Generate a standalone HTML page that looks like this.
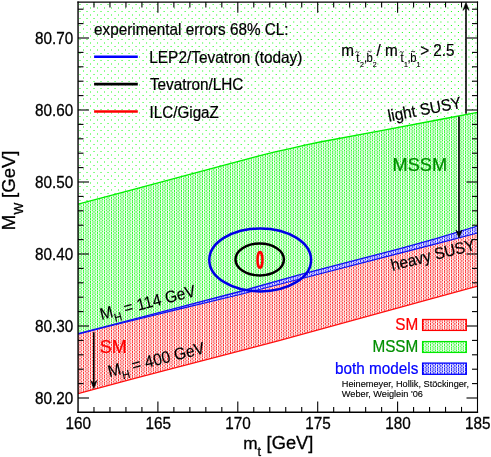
<!DOCTYPE html>
<html><head><meta charset="utf-8"><title>MW-mt</title>
<style>
html,body{margin:0;padding:0;background:#fff;}
body{width:491px;height:457px;overflow:hidden;font-family:"Liberation Sans",sans-serif;}
svg{display:block;font-family:"Liberation Sans",sans-serif;will-change:transform;}
</style></head><body>
<svg width="491" height="457" viewBox="0 0 491 457">
<defs>
<pattern id="sp" x="0" y="0" width="7" height="7" patternUnits="userSpaceOnUse">
<rect x="2.2" y="3.8" width="1.7" height="1.2" fill="#10ff10" opacity="0.55"/>
<rect x="5.9" y="0.15" width="1.2" height="1.7" fill="#10ff10" opacity="0.55"/>
</pattern>
<pattern id="dg0" width="7" height="7" patternUnits="userSpaceOnUse" shape-rendering="crispEdges"><rect x="0" y="0" width="1.02" height="1.02" fill="#dbfedb"/><rect x="1" y="0" width="1.02" height="1.02" fill="#58fb58"/><rect x="2" y="0" width="1.02" height="1.02" fill="#dbfedb"/><rect x="3" y="0" width="1.02" height="1.02" fill="#dcfedc"/><rect x="4" y="0" width="1.02" height="1.02" fill="#56fb56"/><rect x="5" y="0" width="1.02" height="1.02" fill="#ddfedd"/><rect x="6" y="0" width="1.02" height="1.02" fill="#b8fdb8"/><rect x="0" y="1" width="1.02" height="1.02" fill="#f1fef1"/><rect x="1" y="1" width="1.02" height="1.02" fill="#c0fdc0"/><rect x="2" y="1" width="1.02" height="1.02" fill="#8cfc8c"/><rect x="3" y="1" width="1.02" height="1.02" fill="#8efc8e"/><rect x="4" y="1" width="1.02" height="1.02" fill="#bffdbf"/><rect x="5" y="1" width="1.02" height="1.02" fill="#f2fef2"/><rect x="6" y="1" width="1.02" height="1.02" fill="#2dfb2d"/><rect x="0" y="2" width="1.02" height="1.02" fill="#f1fef1"/><rect x="1" y="2" width="1.02" height="1.02" fill="#c0fdc0"/><rect x="2" y="2" width="1.02" height="1.02" fill="#99fd99"/><rect x="3" y="2" width="1.02" height="1.02" fill="#9bfd9b"/><rect x="4" y="2" width="1.02" height="1.02" fill="#bffdbf"/><rect x="5" y="2" width="1.02" height="1.02" fill="#f2fef2"/><rect x="6" y="2" width="1.02" height="1.02" fill="#35fb35"/><rect x="0" y="3" width="1.02" height="1.02" fill="#dafeda"/><rect x="1" y="3" width="1.02" height="1.02" fill="#54fb54"/><rect x="2" y="3" width="1.02" height="1.02" fill="#d6fed6"/><rect x="3" y="3" width="1.02" height="1.02" fill="#d7fed7"/><rect x="4" y="3" width="1.02" height="1.02" fill="#52fb52"/><rect x="5" y="3" width="1.02" height="1.02" fill="#ddfedd"/><rect x="6" y="3" width="1.02" height="1.02" fill="#aefdae"/><rect x="0" y="4" width="1.02" height="1.02" fill="#edfeed"/><rect x="1" y="4" width="1.02" height="1.02" fill="#abfdab"/><rect x="2" y="4" width="1.02" height="1.02" fill="#9efd9e"/><rect x="3" y="4" width="1.02" height="1.02" fill="#a0fda0"/><rect x="4" y="4" width="1.02" height="1.02" fill="#aafdaa"/><rect x="5" y="4" width="1.02" height="1.02" fill="#eefeee"/><rect x="6" y="4" width="1.02" height="1.02" fill="#3ffb3f"/><rect x="0" y="5" width="1.02" height="1.02" fill="#eafeea"/><rect x="1" y="5" width="1.02" height="1.02" fill="#9dfd9d"/><rect x="2" y="5" width="1.02" height="1.02" fill="#acfdac"/><rect x="3" y="5" width="1.02" height="1.02" fill="#adfdad"/><rect x="4" y="5" width="1.02" height="1.02" fill="#9bfd9b"/><rect x="5" y="5" width="1.02" height="1.02" fill="#ebfeeb"/><rect x="6" y="5" width="1.02" height="1.02" fill="#5bfb5b"/><rect x="0" y="6" width="1.02" height="1.02" fill="#ecfeec"/><rect x="1" y="6" width="1.02" height="1.02" fill="#a7fda7"/><rect x="2" y="6" width="1.02" height="1.02" fill="#9ffd9f"/><rect x="3" y="6" width="1.02" height="1.02" fill="#a1fda1"/><rect x="4" y="6" width="1.02" height="1.02" fill="#a6fda6"/><rect x="5" y="6" width="1.02" height="1.02" fill="#edfeed"/><rect x="6" y="6" width="1.02" height="1.02" fill="#42fb42"/></pattern>
<pattern id="dr0" width="7" height="7" patternUnits="userSpaceOnUse" shape-rendering="crispEdges"><rect x="0" y="0" width="1.02" height="1.02" fill="#fedbdb"/><rect x="1" y="0" width="1.02" height="1.02" fill="#fc5858"/><rect x="2" y="0" width="1.02" height="1.02" fill="#fedbdb"/><rect x="3" y="0" width="1.02" height="1.02" fill="#fedcdc"/><rect x="4" y="0" width="1.02" height="1.02" fill="#fc5656"/><rect x="5" y="0" width="1.02" height="1.02" fill="#fedddd"/><rect x="6" y="0" width="1.02" height="1.02" fill="#fdb8b8"/><rect x="0" y="1" width="1.02" height="1.02" fill="#fef1f1"/><rect x="1" y="1" width="1.02" height="1.02" fill="#fec0c0"/><rect x="2" y="1" width="1.02" height="1.02" fill="#fd8c8c"/><rect x="3" y="1" width="1.02" height="1.02" fill="#fd8e8e"/><rect x="4" y="1" width="1.02" height="1.02" fill="#febfbf"/><rect x="5" y="1" width="1.02" height="1.02" fill="#fef2f2"/><rect x="6" y="1" width="1.02" height="1.02" fill="#fc2d2d"/><rect x="0" y="2" width="1.02" height="1.02" fill="#fef1f1"/><rect x="1" y="2" width="1.02" height="1.02" fill="#fec0c0"/><rect x="2" y="2" width="1.02" height="1.02" fill="#fd9999"/><rect x="3" y="2" width="1.02" height="1.02" fill="#fd9b9b"/><rect x="4" y="2" width="1.02" height="1.02" fill="#febfbf"/><rect x="5" y="2" width="1.02" height="1.02" fill="#fef2f2"/><rect x="6" y="2" width="1.02" height="1.02" fill="#fc3535"/><rect x="0" y="3" width="1.02" height="1.02" fill="#fedada"/><rect x="1" y="3" width="1.02" height="1.02" fill="#fc5454"/><rect x="2" y="3" width="1.02" height="1.02" fill="#fed6d6"/><rect x="3" y="3" width="1.02" height="1.02" fill="#fed7d7"/><rect x="4" y="3" width="1.02" height="1.02" fill="#fc5252"/><rect x="5" y="3" width="1.02" height="1.02" fill="#fedddd"/><rect x="6" y="3" width="1.02" height="1.02" fill="#fdaeae"/><rect x="0" y="4" width="1.02" height="1.02" fill="#feeded"/><rect x="1" y="4" width="1.02" height="1.02" fill="#fdabab"/><rect x="2" y="4" width="1.02" height="1.02" fill="#fd9e9e"/><rect x="3" y="4" width="1.02" height="1.02" fill="#fda0a0"/><rect x="4" y="4" width="1.02" height="1.02" fill="#fdaaaa"/><rect x="5" y="4" width="1.02" height="1.02" fill="#feeeee"/><rect x="6" y="4" width="1.02" height="1.02" fill="#fc3f3f"/><rect x="0" y="5" width="1.02" height="1.02" fill="#feeaea"/><rect x="1" y="5" width="1.02" height="1.02" fill="#fd9d9d"/><rect x="2" y="5" width="1.02" height="1.02" fill="#fdacac"/><rect x="3" y="5" width="1.02" height="1.02" fill="#fdadad"/><rect x="4" y="5" width="1.02" height="1.02" fill="#fd9b9b"/><rect x="5" y="5" width="1.02" height="1.02" fill="#feebeb"/><rect x="6" y="5" width="1.02" height="1.02" fill="#fc5b5b"/><rect x="0" y="6" width="1.02" height="1.02" fill="#feecec"/><rect x="1" y="6" width="1.02" height="1.02" fill="#fda7a7"/><rect x="2" y="6" width="1.02" height="1.02" fill="#fd9f9f"/><rect x="3" y="6" width="1.02" height="1.02" fill="#fda1a1"/><rect x="4" y="6" width="1.02" height="1.02" fill="#fda6a6"/><rect x="5" y="6" width="1.02" height="1.02" fill="#feeded"/><rect x="6" y="6" width="1.02" height="1.02" fill="#fc4242"/></pattern>
<pattern id="db0" width="7" height="7" patternUnits="userSpaceOnUse" shape-rendering="crispEdges"><rect x="0" y="0" width="1.02" height="1.02" fill="#cdcdfe"/><rect x="1" y="0" width="1.02" height="1.02" fill="#3c3cfc"/><rect x="2" y="0" width="1.02" height="1.02" fill="#ccccfe"/><rect x="3" y="0" width="1.02" height="1.02" fill="#cdcdfe"/><rect x="4" y="0" width="1.02" height="1.02" fill="#3a3afc"/><rect x="5" y="0" width="1.02" height="1.02" fill="#cfcffe"/><rect x="6" y="0" width="1.02" height="1.02" fill="#a6a6fd"/><rect x="0" y="1" width="1.02" height="1.02" fill="#e5e5fe"/><rect x="1" y="1" width="1.02" height="1.02" fill="#afaffd"/><rect x="2" y="1" width="1.02" height="1.02" fill="#7575fd"/><rect x="3" y="1" width="1.02" height="1.02" fill="#7878fd"/><rect x="4" y="1" width="1.02" height="1.02" fill="#aeaefd"/><rect x="5" y="1" width="1.02" height="1.02" fill="#e6e6fe"/><rect x="6" y="1" width="1.02" height="1.02" fill="#2323fc"/><rect x="0" y="2" width="1.02" height="1.02" fill="#e5e5fe"/><rect x="1" y="2" width="1.02" height="1.02" fill="#afaffd"/><rect x="2" y="2" width="1.02" height="1.02" fill="#8383fd"/><rect x="3" y="2" width="1.02" height="1.02" fill="#8686fd"/><rect x="4" y="2" width="1.02" height="1.02" fill="#aeaefd"/><rect x="5" y="2" width="1.02" height="1.02" fill="#e6e6fe"/><rect x="6" y="2" width="1.02" height="1.02" fill="#2323fc"/><rect x="0" y="3" width="1.02" height="1.02" fill="#ccccfe"/><rect x="1" y="3" width="1.02" height="1.02" fill="#3838fc"/><rect x="2" y="3" width="1.02" height="1.02" fill="#c7c7fe"/><rect x="3" y="3" width="1.02" height="1.02" fill="#c8c8fe"/><rect x="4" y="3" width="1.02" height="1.02" fill="#3535fc"/><rect x="5" y="3" width="1.02" height="1.02" fill="#cecefe"/><rect x="6" y="3" width="1.02" height="1.02" fill="#9b9bfd"/><rect x="0" y="4" width="1.02" height="1.02" fill="#e0e0fe"/><rect x="1" y="4" width="1.02" height="1.02" fill="#9898fd"/><rect x="2" y="4" width="1.02" height="1.02" fill="#8989fd"/><rect x="3" y="4" width="1.02" height="1.02" fill="#8b8bfd"/><rect x="4" y="4" width="1.02" height="1.02" fill="#9797fd"/><rect x="5" y="4" width="1.02" height="1.02" fill="#e1e1fe"/><rect x="6" y="4" width="1.02" height="1.02" fill="#2323fc"/><rect x="0" y="5" width="1.02" height="1.02" fill="#ddddfe"/><rect x="1" y="5" width="1.02" height="1.02" fill="#8888fd"/><rect x="2" y="5" width="1.02" height="1.02" fill="#9898fd"/><rect x="3" y="5" width="1.02" height="1.02" fill="#9a9afd"/><rect x="4" y="5" width="1.02" height="1.02" fill="#8787fd"/><rect x="5" y="5" width="1.02" height="1.02" fill="#dedefe"/><rect x="6" y="5" width="1.02" height="1.02" fill="#3f3ffc"/><rect x="0" y="6" width="1.02" height="1.02" fill="#dfdffe"/><rect x="1" y="6" width="1.02" height="1.02" fill="#9393fd"/><rect x="2" y="6" width="1.02" height="1.02" fill="#8a8afd"/><rect x="3" y="6" width="1.02" height="1.02" fill="#8d8dfd"/><rect x="4" y="6" width="1.02" height="1.02" fill="#9292fd"/><rect x="5" y="6" width="1.02" height="1.02" fill="#e0e0fe"/><rect x="6" y="6" width="1.02" height="1.02" fill="#2424fc"/></pattern>
<clipPath id="z0"><rect x="77" y="0" width="49" height="457"/></clipPath>
<pattern id="dg1" width="7" height="7" patternUnits="userSpaceOnUse" shape-rendering="crispEdges"><rect x="0" y="0" width="1.02" height="1.02" fill="#ecfeec"/><rect x="1" y="0" width="1.02" height="1.02" fill="#47fb47"/><rect x="2" y="0" width="1.02" height="1.02" fill="#e1fee1"/><rect x="3" y="0" width="1.02" height="1.02" fill="#d6fed6"/><rect x="4" y="0" width="1.02" height="1.02" fill="#67fc67"/><rect x="5" y="0" width="1.02" height="1.02" fill="#ccfecc"/><rect x="6" y="0" width="1.02" height="1.02" fill="#b8fdb8"/><rect x="0" y="1" width="1.02" height="1.02" fill="#f8fef8"/><rect x="1" y="1" width="1.02" height="1.02" fill="#bafdba"/><rect x="2" y="1" width="1.02" height="1.02" fill="#9ffd9f"/><rect x="3" y="1" width="1.02" height="1.02" fill="#7bfc7b"/><rect x="4" y="1" width="1.02" height="1.02" fill="#c6fdc6"/><rect x="5" y="1" width="1.02" height="1.02" fill="#ecfeec"/><rect x="6" y="1" width="1.02" height="1.02" fill="#2dfb2d"/><rect x="0" y="2" width="1.02" height="1.02" fill="#f8fef8"/><rect x="1" y="2" width="1.02" height="1.02" fill="#bafdba"/><rect x="2" y="2" width="1.02" height="1.02" fill="#aafdaa"/><rect x="3" y="2" width="1.02" height="1.02" fill="#8afc8a"/><rect x="4" y="2" width="1.02" height="1.02" fill="#c6fdc6"/><rect x="5" y="2" width="1.02" height="1.02" fill="#ecfeec"/><rect x="6" y="2" width="1.02" height="1.02" fill="#35fb35"/><rect x="0" y="3" width="1.02" height="1.02" fill="#ecfeec"/><rect x="1" y="3" width="1.02" height="1.02" fill="#42fb42"/><rect x="2" y="3" width="1.02" height="1.02" fill="#ddfedd"/><rect x="3" y="3" width="1.02" height="1.02" fill="#d0fed0"/><rect x="4" y="3" width="1.02" height="1.02" fill="#63fc63"/><rect x="5" y="3" width="1.02" height="1.02" fill="#cbfecb"/><rect x="6" y="3" width="1.02" height="1.02" fill="#aefdae"/><rect x="0" y="4" width="1.02" height="1.02" fill="#f5fef5"/><rect x="1" y="4" width="1.02" height="1.02" fill="#a3fda3"/><rect x="2" y="4" width="1.02" height="1.02" fill="#aefdae"/><rect x="3" y="4" width="1.02" height="1.02" fill="#8ffc8f"/><rect x="4" y="4" width="1.02" height="1.02" fill="#b3fdb3"/><rect x="5" y="4" width="1.02" height="1.02" fill="#e5fee5"/><rect x="6" y="4" width="1.02" height="1.02" fill="#3ffb3f"/><rect x="0" y="5" width="1.02" height="1.02" fill="#f4fef4"/><rect x="1" y="5" width="1.02" height="1.02" fill="#93fc93"/><rect x="2" y="5" width="1.02" height="1.02" fill="#bafdba"/><rect x="3" y="5" width="1.02" height="1.02" fill="#9ffd9f"/><rect x="4" y="5" width="1.02" height="1.02" fill="#a6fda6"/><rect x="5" y="5" width="1.02" height="1.02" fill="#e1fee1"/><rect x="6" y="5" width="1.02" height="1.02" fill="#5bfb5b"/><rect x="0" y="6" width="1.02" height="1.02" fill="#f5fef5"/><rect x="1" y="6" width="1.02" height="1.02" fill="#9efd9e"/><rect x="2" y="6" width="1.02" height="1.02" fill="#affdaf"/><rect x="3" y="6" width="1.02" height="1.02" fill="#91fc91"/><rect x="4" y="6" width="1.02" height="1.02" fill="#affdaf"/><rect x="5" y="6" width="1.02" height="1.02" fill="#e4fee4"/><rect x="6" y="6" width="1.02" height="1.02" fill="#42fb42"/></pattern>
<pattern id="dr1" width="7" height="7" patternUnits="userSpaceOnUse" shape-rendering="crispEdges"><rect x="0" y="0" width="1.02" height="1.02" fill="#feecec"/><rect x="1" y="0" width="1.02" height="1.02" fill="#fc4747"/><rect x="2" y="0" width="1.02" height="1.02" fill="#fee1e1"/><rect x="3" y="0" width="1.02" height="1.02" fill="#fed6d6"/><rect x="4" y="0" width="1.02" height="1.02" fill="#fc6767"/><rect x="5" y="0" width="1.02" height="1.02" fill="#fecccc"/><rect x="6" y="0" width="1.02" height="1.02" fill="#fdb8b8"/><rect x="0" y="1" width="1.02" height="1.02" fill="#fef8f8"/><rect x="1" y="1" width="1.02" height="1.02" fill="#febaba"/><rect x="2" y="1" width="1.02" height="1.02" fill="#fd9f9f"/><rect x="3" y="1" width="1.02" height="1.02" fill="#fd7b7b"/><rect x="4" y="1" width="1.02" height="1.02" fill="#fec6c6"/><rect x="5" y="1" width="1.02" height="1.02" fill="#feecec"/><rect x="6" y="1" width="1.02" height="1.02" fill="#fc2d2d"/><rect x="0" y="2" width="1.02" height="1.02" fill="#fef8f8"/><rect x="1" y="2" width="1.02" height="1.02" fill="#febaba"/><rect x="2" y="2" width="1.02" height="1.02" fill="#fdaaaa"/><rect x="3" y="2" width="1.02" height="1.02" fill="#fd8a8a"/><rect x="4" y="2" width="1.02" height="1.02" fill="#fec6c6"/><rect x="5" y="2" width="1.02" height="1.02" fill="#feecec"/><rect x="6" y="2" width="1.02" height="1.02" fill="#fc3535"/><rect x="0" y="3" width="1.02" height="1.02" fill="#feecec"/><rect x="1" y="3" width="1.02" height="1.02" fill="#fc4242"/><rect x="2" y="3" width="1.02" height="1.02" fill="#fedddd"/><rect x="3" y="3" width="1.02" height="1.02" fill="#fed0d0"/><rect x="4" y="3" width="1.02" height="1.02" fill="#fc6363"/><rect x="5" y="3" width="1.02" height="1.02" fill="#fecbcb"/><rect x="6" y="3" width="1.02" height="1.02" fill="#fdaeae"/><rect x="0" y="4" width="1.02" height="1.02" fill="#fef5f5"/><rect x="1" y="4" width="1.02" height="1.02" fill="#fda3a3"/><rect x="2" y="4" width="1.02" height="1.02" fill="#fdaeae"/><rect x="3" y="4" width="1.02" height="1.02" fill="#fd8f8f"/><rect x="4" y="4" width="1.02" height="1.02" fill="#fdb3b3"/><rect x="5" y="4" width="1.02" height="1.02" fill="#fee5e5"/><rect x="6" y="4" width="1.02" height="1.02" fill="#fc3f3f"/><rect x="0" y="5" width="1.02" height="1.02" fill="#fef4f4"/><rect x="1" y="5" width="1.02" height="1.02" fill="#fd9393"/><rect x="2" y="5" width="1.02" height="1.02" fill="#febaba"/><rect x="3" y="5" width="1.02" height="1.02" fill="#fd9f9f"/><rect x="4" y="5" width="1.02" height="1.02" fill="#fda6a6"/><rect x="5" y="5" width="1.02" height="1.02" fill="#fee1e1"/><rect x="6" y="5" width="1.02" height="1.02" fill="#fc5b5b"/><rect x="0" y="6" width="1.02" height="1.02" fill="#fef5f5"/><rect x="1" y="6" width="1.02" height="1.02" fill="#fd9e9e"/><rect x="2" y="6" width="1.02" height="1.02" fill="#fdafaf"/><rect x="3" y="6" width="1.02" height="1.02" fill="#fd9191"/><rect x="4" y="6" width="1.02" height="1.02" fill="#fdafaf"/><rect x="5" y="6" width="1.02" height="1.02" fill="#fee4e4"/><rect x="6" y="6" width="1.02" height="1.02" fill="#fc4242"/></pattern>
<pattern id="db1" width="7" height="7" patternUnits="userSpaceOnUse" shape-rendering="crispEdges"><rect x="0" y="0" width="1.02" height="1.02" fill="#e0e0fe"/><rect x="1" y="0" width="1.02" height="1.02" fill="#2a2afc"/><rect x="2" y="0" width="1.02" height="1.02" fill="#d3d3fe"/><rect x="3" y="0" width="1.02" height="1.02" fill="#c6c6fe"/><rect x="4" y="0" width="1.02" height="1.02" fill="#4d4dfc"/><rect x="5" y="0" width="1.02" height="1.02" fill="#bcbcfe"/><rect x="6" y="0" width="1.02" height="1.02" fill="#a6a6fd"/><rect x="0" y="1" width="1.02" height="1.02" fill="#ececfe"/><rect x="1" y="1" width="1.02" height="1.02" fill="#a8a8fd"/><rect x="2" y="1" width="1.02" height="1.02" fill="#8b8bfd"/><rect x="3" y="1" width="1.02" height="1.02" fill="#6363fc"/><rect x="4" y="1" width="1.02" height="1.02" fill="#b5b5fd"/><rect x="5" y="1" width="1.02" height="1.02" fill="#dfdffe"/><rect x="6" y="1" width="1.02" height="1.02" fill="#2323fc"/><rect x="0" y="2" width="1.02" height="1.02" fill="#ececfe"/><rect x="1" y="2" width="1.02" height="1.02" fill="#a8a8fd"/><rect x="2" y="2" width="1.02" height="1.02" fill="#9696fd"/><rect x="3" y="2" width="1.02" height="1.02" fill="#7373fd"/><rect x="4" y="2" width="1.02" height="1.02" fill="#b5b5fd"/><rect x="5" y="2" width="1.02" height="1.02" fill="#dfdffe"/><rect x="6" y="2" width="1.02" height="1.02" fill="#2323fc"/><rect x="0" y="3" width="1.02" height="1.02" fill="#dfdffe"/><rect x="1" y="3" width="1.02" height="1.02" fill="#2525fc"/><rect x="2" y="3" width="1.02" height="1.02" fill="#cecefe"/><rect x="3" y="3" width="1.02" height="1.02" fill="#c0c0fe"/><rect x="4" y="3" width="1.02" height="1.02" fill="#4949fc"/><rect x="5" y="3" width="1.02" height="1.02" fill="#bbbbfe"/><rect x="6" y="3" width="1.02" height="1.02" fill="#9b9bfd"/><rect x="0" y="4" width="1.02" height="1.02" fill="#eaeafe"/><rect x="1" y="4" width="1.02" height="1.02" fill="#8f8ffd"/><rect x="2" y="4" width="1.02" height="1.02" fill="#9b9bfd"/><rect x="3" y="4" width="1.02" height="1.02" fill="#7979fd"/><rect x="4" y="4" width="1.02" height="1.02" fill="#a0a0fd"/><rect x="5" y="4" width="1.02" height="1.02" fill="#d8d8fe"/><rect x="6" y="4" width="1.02" height="1.02" fill="#2323fc"/><rect x="0" y="5" width="1.02" height="1.02" fill="#e8e8fe"/><rect x="1" y="5" width="1.02" height="1.02" fill="#7d7dfd"/><rect x="2" y="5" width="1.02" height="1.02" fill="#a8a8fd"/><rect x="3" y="5" width="1.02" height="1.02" fill="#8b8bfd"/><rect x="4" y="5" width="1.02" height="1.02" fill="#9292fd"/><rect x="5" y="5" width="1.02" height="1.02" fill="#d3d3fe"/><rect x="6" y="5" width="1.02" height="1.02" fill="#3f3ffc"/><rect x="0" y="6" width="1.02" height="1.02" fill="#e9e9fe"/><rect x="1" y="6" width="1.02" height="1.02" fill="#8989fd"/><rect x="2" y="6" width="1.02" height="1.02" fill="#9c9cfd"/><rect x="3" y="6" width="1.02" height="1.02" fill="#7b7bfd"/><rect x="4" y="6" width="1.02" height="1.02" fill="#9c9cfd"/><rect x="5" y="6" width="1.02" height="1.02" fill="#d6d6fe"/><rect x="6" y="6" width="1.02" height="1.02" fill="#2424fc"/></pattern>
<clipPath id="z1"><rect x="126" y="0" width="56" height="457"/></clipPath>
<pattern id="dg2" width="7" height="7" patternUnits="userSpaceOnUse" shape-rendering="crispEdges"><rect x="0" y="0" width="1.02" height="1.02" fill="#fcfefc"/><rect x="1" y="0" width="1.02" height="1.02" fill="#38fb38"/><rect x="2" y="0" width="1.02" height="1.02" fill="#e6fee6"/><rect x="3" y="0" width="1.02" height="1.02" fill="#d0fed0"/><rect x="4" y="0" width="1.02" height="1.02" fill="#76fc76"/><rect x="5" y="0" width="1.02" height="1.02" fill="#bdfdbd"/><rect x="6" y="0" width="1.02" height="1.02" fill="#b8fdb8"/><rect x="0" y="1" width="1.02" height="1.02" fill="#fdfefd"/><rect x="1" y="1" width="1.02" height="1.02" fill="#b4fdb4"/><rect x="2" y="1" width="1.02" height="1.02" fill="#b0fdb0"/><rect x="3" y="1" width="1.02" height="1.02" fill="#6afc6a"/><rect x="4" y="1" width="1.02" height="1.02" fill="#cbfecb"/><rect x="5" y="1" width="1.02" height="1.02" fill="#e6fee6"/><rect x="6" y="1" width="1.02" height="1.02" fill="#2dfb2d"/><rect x="0" y="2" width="1.02" height="1.02" fill="#fdfefd"/><rect x="1" y="2" width="1.02" height="1.02" fill="#b4fdb4"/><rect x="2" y="2" width="1.02" height="1.02" fill="#b9fdb9"/><rect x="3" y="2" width="1.02" height="1.02" fill="#7bfc7b"/><rect x="4" y="2" width="1.02" height="1.02" fill="#cbfecb"/><rect x="5" y="2" width="1.02" height="1.02" fill="#e6fee6"/><rect x="6" y="2" width="1.02" height="1.02" fill="#35fb35"/><rect x="0" y="3" width="1.02" height="1.02" fill="#fbfefb"/><rect x="1" y="3" width="1.02" height="1.02" fill="#33fb33"/><rect x="2" y="3" width="1.02" height="1.02" fill="#e3fee3"/><rect x="3" y="3" width="1.02" height="1.02" fill="#cafdca"/><rect x="4" y="3" width="1.02" height="1.02" fill="#73fc73"/><rect x="5" y="3" width="1.02" height="1.02" fill="#bcfdbc"/><rect x="6" y="3" width="1.02" height="1.02" fill="#aefdae"/><rect x="0" y="4" width="1.02" height="1.02" fill="#fdfefd"/><rect x="1" y="4" width="1.02" height="1.02" fill="#9bfd9b"/><rect x="2" y="4" width="1.02" height="1.02" fill="#bcfdbc"/><rect x="3" y="4" width="1.02" height="1.02" fill="#81fc81"/><rect x="4" y="4" width="1.02" height="1.02" fill="#bafdba"/><rect x="5" y="4" width="1.02" height="1.02" fill="#defede"/><rect x="6" y="4" width="1.02" height="1.02" fill="#3ffb3f"/><rect x="0" y="5" width="1.02" height="1.02" fill="#fdfefd"/><rect x="1" y="5" width="1.02" height="1.02" fill="#8afc8a"/><rect x="2" y="5" width="1.02" height="1.02" fill="#c6fdc6"/><rect x="3" y="5" width="1.02" height="1.02" fill="#93fc93"/><rect x="4" y="5" width="1.02" height="1.02" fill="#aefdae"/><rect x="5" y="5" width="1.02" height="1.02" fill="#d8fed8"/><rect x="6" y="5" width="1.02" height="1.02" fill="#5bfb5b"/><rect x="0" y="6" width="1.02" height="1.02" fill="#fdfefd"/><rect x="1" y="6" width="1.02" height="1.02" fill="#96fd96"/><rect x="2" y="6" width="1.02" height="1.02" fill="#bdfdbd"/><rect x="3" y="6" width="1.02" height="1.02" fill="#83fc83"/><rect x="4" y="6" width="1.02" height="1.02" fill="#b7fdb7"/><rect x="5" y="6" width="1.02" height="1.02" fill="#dcfedc"/><rect x="6" y="6" width="1.02" height="1.02" fill="#42fb42"/></pattern>
<pattern id="dr2" width="7" height="7" patternUnits="userSpaceOnUse" shape-rendering="crispEdges"><rect x="0" y="0" width="1.02" height="1.02" fill="#fefcfc"/><rect x="1" y="0" width="1.02" height="1.02" fill="#fc3838"/><rect x="2" y="0" width="1.02" height="1.02" fill="#fee6e6"/><rect x="3" y="0" width="1.02" height="1.02" fill="#fed0d0"/><rect x="4" y="0" width="1.02" height="1.02" fill="#fd7676"/><rect x="5" y="0" width="1.02" height="1.02" fill="#febdbd"/><rect x="6" y="0" width="1.02" height="1.02" fill="#fdb8b8"/><rect x="0" y="1" width="1.02" height="1.02" fill="#fefdfd"/><rect x="1" y="1" width="1.02" height="1.02" fill="#fdb4b4"/><rect x="2" y="1" width="1.02" height="1.02" fill="#fdb0b0"/><rect x="3" y="1" width="1.02" height="1.02" fill="#fc6a6a"/><rect x="4" y="1" width="1.02" height="1.02" fill="#fecbcb"/><rect x="5" y="1" width="1.02" height="1.02" fill="#fee6e6"/><rect x="6" y="1" width="1.02" height="1.02" fill="#fc2d2d"/><rect x="0" y="2" width="1.02" height="1.02" fill="#fefdfd"/><rect x="1" y="2" width="1.02" height="1.02" fill="#fdb4b4"/><rect x="2" y="2" width="1.02" height="1.02" fill="#feb9b9"/><rect x="3" y="2" width="1.02" height="1.02" fill="#fd7b7b"/><rect x="4" y="2" width="1.02" height="1.02" fill="#fecbcb"/><rect x="5" y="2" width="1.02" height="1.02" fill="#fee6e6"/><rect x="6" y="2" width="1.02" height="1.02" fill="#fc3535"/><rect x="0" y="3" width="1.02" height="1.02" fill="#fefbfb"/><rect x="1" y="3" width="1.02" height="1.02" fill="#fc3333"/><rect x="2" y="3" width="1.02" height="1.02" fill="#fee3e3"/><rect x="3" y="3" width="1.02" height="1.02" fill="#fecaca"/><rect x="4" y="3" width="1.02" height="1.02" fill="#fd7373"/><rect x="5" y="3" width="1.02" height="1.02" fill="#febcbc"/><rect x="6" y="3" width="1.02" height="1.02" fill="#fdaeae"/><rect x="0" y="4" width="1.02" height="1.02" fill="#fefdfd"/><rect x="1" y="4" width="1.02" height="1.02" fill="#fd9b9b"/><rect x="2" y="4" width="1.02" height="1.02" fill="#febcbc"/><rect x="3" y="4" width="1.02" height="1.02" fill="#fd8181"/><rect x="4" y="4" width="1.02" height="1.02" fill="#febaba"/><rect x="5" y="4" width="1.02" height="1.02" fill="#fedede"/><rect x="6" y="4" width="1.02" height="1.02" fill="#fc3f3f"/><rect x="0" y="5" width="1.02" height="1.02" fill="#fefdfd"/><rect x="1" y="5" width="1.02" height="1.02" fill="#fd8a8a"/><rect x="2" y="5" width="1.02" height="1.02" fill="#fec6c6"/><rect x="3" y="5" width="1.02" height="1.02" fill="#fd9393"/><rect x="4" y="5" width="1.02" height="1.02" fill="#fdaeae"/><rect x="5" y="5" width="1.02" height="1.02" fill="#fed8d8"/><rect x="6" y="5" width="1.02" height="1.02" fill="#fc5b5b"/><rect x="0" y="6" width="1.02" height="1.02" fill="#fefdfd"/><rect x="1" y="6" width="1.02" height="1.02" fill="#fd9696"/><rect x="2" y="6" width="1.02" height="1.02" fill="#febdbd"/><rect x="3" y="6" width="1.02" height="1.02" fill="#fd8383"/><rect x="4" y="6" width="1.02" height="1.02" fill="#fdb7b7"/><rect x="5" y="6" width="1.02" height="1.02" fill="#fedcdc"/><rect x="6" y="6" width="1.02" height="1.02" fill="#fc4242"/></pattern>
<pattern id="db2" width="7" height="7" patternUnits="userSpaceOnUse" shape-rendering="crispEdges"><rect x="0" y="0" width="1.02" height="1.02" fill="#f0f0fe"/><rect x="1" y="0" width="1.02" height="1.02" fill="#2323fc"/><rect x="2" y="0" width="1.02" height="1.02" fill="#d9d9fe"/><rect x="3" y="0" width="1.02" height="1.02" fill="#c1c1fe"/><rect x="4" y="0" width="1.02" height="1.02" fill="#5e5efc"/><rect x="5" y="0" width="1.02" height="1.02" fill="#acacfd"/><rect x="6" y="0" width="1.02" height="1.02" fill="#a6a6fd"/><rect x="0" y="1" width="1.02" height="1.02" fill="#f2f2fe"/><rect x="1" y="1" width="1.02" height="1.02" fill="#a2a2fd"/><rect x="2" y="1" width="1.02" height="1.02" fill="#9d9dfd"/><rect x="3" y="1" width="1.02" height="1.02" fill="#5050fc"/><rect x="4" y="1" width="1.02" height="1.02" fill="#bbbbfe"/><rect x="5" y="1" width="1.02" height="1.02" fill="#d9d9fe"/><rect x="6" y="1" width="1.02" height="1.02" fill="#2323fc"/><rect x="0" y="2" width="1.02" height="1.02" fill="#f2f2fe"/><rect x="1" y="2" width="1.02" height="1.02" fill="#a2a2fd"/><rect x="2" y="2" width="1.02" height="1.02" fill="#a7a7fd"/><rect x="3" y="2" width="1.02" height="1.02" fill="#6262fc"/><rect x="4" y="2" width="1.02" height="1.02" fill="#bbbbfe"/><rect x="5" y="2" width="1.02" height="1.02" fill="#d9d9fe"/><rect x="6" y="2" width="1.02" height="1.02" fill="#2323fc"/><rect x="0" y="3" width="1.02" height="1.02" fill="#f0f0fe"/><rect x="1" y="3" width="1.02" height="1.02" fill="#2323fc"/><rect x="2" y="3" width="1.02" height="1.02" fill="#d5d5fe"/><rect x="3" y="3" width="1.02" height="1.02" fill="#b9b9fe"/><rect x="4" y="3" width="1.02" height="1.02" fill="#5a5afc"/><rect x="5" y="3" width="1.02" height="1.02" fill="#aaaafd"/><rect x="6" y="3" width="1.02" height="1.02" fill="#9b9bfd"/><rect x="0" y="4" width="1.02" height="1.02" fill="#f2f2fe"/><rect x="1" y="4" width="1.02" height="1.02" fill="#8686fd"/><rect x="2" y="4" width="1.02" height="1.02" fill="#ababfd"/><rect x="3" y="4" width="1.02" height="1.02" fill="#6a6afc"/><rect x="4" y="4" width="1.02" height="1.02" fill="#a9a9fd"/><rect x="5" y="4" width="1.02" height="1.02" fill="#d0d0fe"/><rect x="6" y="4" width="1.02" height="1.02" fill="#2323fc"/><rect x="0" y="5" width="1.02" height="1.02" fill="#f2f2fe"/><rect x="1" y="5" width="1.02" height="1.02" fill="#7373fd"/><rect x="2" y="5" width="1.02" height="1.02" fill="#b5b5fe"/><rect x="3" y="5" width="1.02" height="1.02" fill="#7e7efd"/><rect x="4" y="5" width="1.02" height="1.02" fill="#9b9bfd"/><rect x="5" y="5" width="1.02" height="1.02" fill="#c9c9fe"/><rect x="6" y="5" width="1.02" height="1.02" fill="#3f3ffc"/><rect x="0" y="6" width="1.02" height="1.02" fill="#f2f2fe"/><rect x="1" y="6" width="1.02" height="1.02" fill="#8181fd"/><rect x="2" y="6" width="1.02" height="1.02" fill="#acacfd"/><rect x="3" y="6" width="1.02" height="1.02" fill="#6b6bfc"/><rect x="4" y="6" width="1.02" height="1.02" fill="#a5a5fd"/><rect x="5" y="6" width="1.02" height="1.02" fill="#cecefe"/><rect x="6" y="6" width="1.02" height="1.02" fill="#2424fc"/></pattern>
<clipPath id="z2"><rect x="182" y="0" width="49" height="457"/></clipPath>
<pattern id="dg3" width="7" height="7" patternUnits="userSpaceOnUse" shape-rendering="crispEdges"><rect x="0" y="0" width="1.02" height="1.02" fill="#fafefa"/><rect x="1" y="0" width="1.02" height="1.02" fill="#35fb35"/><rect x="2" y="0" width="1.02" height="1.02" fill="#ebfeeb"/><rect x="3" y="0" width="1.02" height="1.02" fill="#cbfecb"/><rect x="4" y="0" width="1.02" height="1.02" fill="#85fc85"/><rect x="5" y="0" width="1.02" height="1.02" fill="#aefdae"/><rect x="6" y="0" width="1.02" height="1.02" fill="#bdfdbd"/><rect x="0" y="1" width="1.02" height="1.02" fill="#f1fef1"/><rect x="1" y="1" width="1.02" height="1.02" fill="#b3fdb3"/><rect x="2" y="1" width="1.02" height="1.02" fill="#c1fdc1"/><rect x="3" y="1" width="1.02" height="1.02" fill="#59fb59"/><rect x="4" y="1" width="1.02" height="1.02" fill="#d1fed1"/><rect x="5" y="1" width="1.02" height="1.02" fill="#e0fee0"/><rect x="6" y="1" width="1.02" height="1.02" fill="#2dfb2d"/><rect x="0" y="2" width="1.02" height="1.02" fill="#f3fef3"/><rect x="1" y="2" width="1.02" height="1.02" fill="#b3fdb3"/><rect x="2" y="2" width="1.02" height="1.02" fill="#c8fdc8"/><rect x="3" y="2" width="1.02" height="1.02" fill="#6bfc6b"/><rect x="4" y="2" width="1.02" height="1.02" fill="#d1fed1"/><rect x="5" y="2" width="1.02" height="1.02" fill="#e0fee0"/><rect x="6" y="2" width="1.02" height="1.02" fill="#43fb43"/><rect x="0" y="3" width="1.02" height="1.02" fill="#fafefa"/><rect x="1" y="3" width="1.02" height="1.02" fill="#30fb30"/><rect x="2" y="3" width="1.02" height="1.02" fill="#e9fee9"/><rect x="3" y="3" width="1.02" height="1.02" fill="#c4fdc4"/><rect x="4" y="3" width="1.02" height="1.02" fill="#82fc82"/><rect x="5" y="3" width="1.02" height="1.02" fill="#acfdac"/><rect x="6" y="3" width="1.02" height="1.02" fill="#b3fdb3"/><rect x="0" y="4" width="1.02" height="1.02" fill="#f4fef4"/><rect x="1" y="4" width="1.02" height="1.02" fill="#9afd9a"/><rect x="2" y="4" width="1.02" height="1.02" fill="#cbfecb"/><rect x="3" y="4" width="1.02" height="1.02" fill="#73fc73"/><rect x="4" y="4" width="1.02" height="1.02" fill="#c2fdc2"/><rect x="5" y="4" width="1.02" height="1.02" fill="#d6fed6"/><rect x="6" y="4" width="1.02" height="1.02" fill="#4cfb4c"/><rect x="0" y="5" width="1.02" height="1.02" fill="#f5fef5"/><rect x="1" y="5" width="1.02" height="1.02" fill="#88fc88"/><rect x="2" y="5" width="1.02" height="1.02" fill="#d2fed2"/><rect x="3" y="5" width="1.02" height="1.02" fill="#87fc87"/><rect x="4" y="5" width="1.02" height="1.02" fill="#b7fdb7"/><rect x="5" y="5" width="1.02" height="1.02" fill="#cffecf"/><rect x="6" y="5" width="1.02" height="1.02" fill="#66fc66"/><rect x="0" y="6" width="1.02" height="1.02" fill="#f4fef4"/><rect x="1" y="6" width="1.02" height="1.02" fill="#95fc95"/><rect x="2" y="6" width="1.02" height="1.02" fill="#cbfecb"/><rect x="3" y="6" width="1.02" height="1.02" fill="#75fc75"/><rect x="4" y="6" width="1.02" height="1.02" fill="#bffdbf"/><rect x="5" y="6" width="1.02" height="1.02" fill="#d4fed4"/><rect x="6" y="6" width="1.02" height="1.02" fill="#4efb4e"/></pattern>
<pattern id="dr3" width="7" height="7" patternUnits="userSpaceOnUse" shape-rendering="crispEdges"><rect x="0" y="0" width="1.02" height="1.02" fill="#fefafa"/><rect x="1" y="0" width="1.02" height="1.02" fill="#fc3535"/><rect x="2" y="0" width="1.02" height="1.02" fill="#feebeb"/><rect x="3" y="0" width="1.02" height="1.02" fill="#fecbcb"/><rect x="4" y="0" width="1.02" height="1.02" fill="#fd8585"/><rect x="5" y="0" width="1.02" height="1.02" fill="#fdaeae"/><rect x="6" y="0" width="1.02" height="1.02" fill="#febdbd"/><rect x="0" y="1" width="1.02" height="1.02" fill="#fef1f1"/><rect x="1" y="1" width="1.02" height="1.02" fill="#fdb3b3"/><rect x="2" y="1" width="1.02" height="1.02" fill="#fec1c1"/><rect x="3" y="1" width="1.02" height="1.02" fill="#fc5959"/><rect x="4" y="1" width="1.02" height="1.02" fill="#fed1d1"/><rect x="5" y="1" width="1.02" height="1.02" fill="#fee0e0"/><rect x="6" y="1" width="1.02" height="1.02" fill="#fc2d2d"/><rect x="0" y="2" width="1.02" height="1.02" fill="#fef3f3"/><rect x="1" y="2" width="1.02" height="1.02" fill="#fdb3b3"/><rect x="2" y="2" width="1.02" height="1.02" fill="#fec8c8"/><rect x="3" y="2" width="1.02" height="1.02" fill="#fc6b6b"/><rect x="4" y="2" width="1.02" height="1.02" fill="#fed1d1"/><rect x="5" y="2" width="1.02" height="1.02" fill="#fee0e0"/><rect x="6" y="2" width="1.02" height="1.02" fill="#fc4343"/><rect x="0" y="3" width="1.02" height="1.02" fill="#fefafa"/><rect x="1" y="3" width="1.02" height="1.02" fill="#fc3030"/><rect x="2" y="3" width="1.02" height="1.02" fill="#fee9e9"/><rect x="3" y="3" width="1.02" height="1.02" fill="#fec4c4"/><rect x="4" y="3" width="1.02" height="1.02" fill="#fd8282"/><rect x="5" y="3" width="1.02" height="1.02" fill="#fdacac"/><rect x="6" y="3" width="1.02" height="1.02" fill="#fdb3b3"/><rect x="0" y="4" width="1.02" height="1.02" fill="#fef4f4"/><rect x="1" y="4" width="1.02" height="1.02" fill="#fd9a9a"/><rect x="2" y="4" width="1.02" height="1.02" fill="#fecbcb"/><rect x="3" y="4" width="1.02" height="1.02" fill="#fd7373"/><rect x="4" y="4" width="1.02" height="1.02" fill="#fec2c2"/><rect x="5" y="4" width="1.02" height="1.02" fill="#fed6d6"/><rect x="6" y="4" width="1.02" height="1.02" fill="#fc4c4c"/><rect x="0" y="5" width="1.02" height="1.02" fill="#fef5f5"/><rect x="1" y="5" width="1.02" height="1.02" fill="#fd8888"/><rect x="2" y="5" width="1.02" height="1.02" fill="#fed2d2"/><rect x="3" y="5" width="1.02" height="1.02" fill="#fd8787"/><rect x="4" y="5" width="1.02" height="1.02" fill="#fdb7b7"/><rect x="5" y="5" width="1.02" height="1.02" fill="#fecfcf"/><rect x="6" y="5" width="1.02" height="1.02" fill="#fc6666"/><rect x="0" y="6" width="1.02" height="1.02" fill="#fef4f4"/><rect x="1" y="6" width="1.02" height="1.02" fill="#fd9595"/><rect x="2" y="6" width="1.02" height="1.02" fill="#fecbcb"/><rect x="3" y="6" width="1.02" height="1.02" fill="#fd7575"/><rect x="4" y="6" width="1.02" height="1.02" fill="#febfbf"/><rect x="5" y="6" width="1.02" height="1.02" fill="#fed4d4"/><rect x="6" y="6" width="1.02" height="1.02" fill="#fc4e4e"/></pattern>
<pattern id="db3" width="7" height="7" patternUnits="userSpaceOnUse" shape-rendering="crispEdges"><rect x="0" y="0" width="1.02" height="1.02" fill="#efeffe"/><rect x="1" y="0" width="1.02" height="1.02" fill="#2323fc"/><rect x="2" y="0" width="1.02" height="1.02" fill="#dedefe"/><rect x="3" y="0" width="1.02" height="1.02" fill="#bbbbfe"/><rect x="4" y="0" width="1.02" height="1.02" fill="#6e6efd"/><rect x="5" y="0" width="1.02" height="1.02" fill="#9b9bfd"/><rect x="6" y="0" width="1.02" height="1.02" fill="#ababfd"/><rect x="0" y="1" width="1.02" height="1.02" fill="#e5e5fe"/><rect x="1" y="1" width="1.02" height="1.02" fill="#a0a0fd"/><rect x="2" y="1" width="1.02" height="1.02" fill="#b0b0fd"/><rect x="3" y="1" width="1.02" height="1.02" fill="#3e3efc"/><rect x="4" y="1" width="1.02" height="1.02" fill="#c1c1fe"/><rect x="5" y="1" width="1.02" height="1.02" fill="#d2d2fe"/><rect x="6" y="1" width="1.02" height="1.02" fill="#2323fc"/><rect x="0" y="2" width="1.02" height="1.02" fill="#e7e7fe"/><rect x="1" y="2" width="1.02" height="1.02" fill="#a0a0fd"/><rect x="2" y="2" width="1.02" height="1.02" fill="#b7b7fe"/><rect x="3" y="2" width="1.02" height="1.02" fill="#5252fc"/><rect x="4" y="2" width="1.02" height="1.02" fill="#c1c1fe"/><rect x="5" y="2" width="1.02" height="1.02" fill="#d2d2fe"/><rect x="6" y="2" width="1.02" height="1.02" fill="#2525fc"/><rect x="0" y="3" width="1.02" height="1.02" fill="#eeeefe"/><rect x="1" y="3" width="1.02" height="1.02" fill="#2323fc"/><rect x="2" y="3" width="1.02" height="1.02" fill="#dbdbfe"/><rect x="3" y="3" width="1.02" height="1.02" fill="#b3b3fd"/><rect x="4" y="3" width="1.02" height="1.02" fill="#6b6bfc"/><rect x="5" y="3" width="1.02" height="1.02" fill="#9999fd"/><rect x="6" y="3" width="1.02" height="1.02" fill="#a1a1fd"/><rect x="0" y="4" width="1.02" height="1.02" fill="#e7e7fe"/><rect x="1" y="4" width="1.02" height="1.02" fill="#8585fd"/><rect x="2" y="4" width="1.02" height="1.02" fill="#babafe"/><rect x="3" y="4" width="1.02" height="1.02" fill="#5a5afc"/><rect x="4" y="4" width="1.02" height="1.02" fill="#b1b1fd"/><rect x="5" y="4" width="1.02" height="1.02" fill="#c7c7fe"/><rect x="6" y="4" width="1.02" height="1.02" fill="#2f2ffc"/><rect x="0" y="5" width="1.02" height="1.02" fill="#e9e9fe"/><rect x="1" y="5" width="1.02" height="1.02" fill="#7171fd"/><rect x="2" y="5" width="1.02" height="1.02" fill="#c3c3fe"/><rect x="3" y="5" width="1.02" height="1.02" fill="#7070fd"/><rect x="4" y="5" width="1.02" height="1.02" fill="#a5a5fd"/><rect x="5" y="5" width="1.02" height="1.02" fill="#c0c0fe"/><rect x="6" y="5" width="1.02" height="1.02" fill="#4c4cfc"/><rect x="0" y="6" width="1.02" height="1.02" fill="#e8e8fe"/><rect x="1" y="6" width="1.02" height="1.02" fill="#7f7ffd"/><rect x="2" y="6" width="1.02" height="1.02" fill="#bbbbfe"/><rect x="3" y="6" width="1.02" height="1.02" fill="#5c5cfc"/><rect x="4" y="6" width="1.02" height="1.02" fill="#adadfd"/><rect x="5" y="6" width="1.02" height="1.02" fill="#c5c5fe"/><rect x="6" y="6" width="1.02" height="1.02" fill="#3232fc"/></pattern>
<clipPath id="z3"><rect x="231" y="0" width="49" height="457"/></clipPath>
<pattern id="dg4" width="7" height="7" patternUnits="userSpaceOnUse" shape-rendering="crispEdges"><rect x="0" y="0" width="1.02" height="1.02" fill="#f5fef5"/><rect x="1" y="0" width="1.02" height="1.02" fill="#35fb35"/><rect x="2" y="0" width="1.02" height="1.02" fill="#f1fef1"/><rect x="3" y="0" width="1.02" height="1.02" fill="#c6fdc6"/><rect x="4" y="0" width="1.02" height="1.02" fill="#94fc94"/><rect x="5" y="0" width="1.02" height="1.02" fill="#9ffd9f"/><rect x="6" y="0" width="1.02" height="1.02" fill="#c2fdc2"/><rect x="0" y="1" width="1.02" height="1.02" fill="#e1fee1"/><rect x="1" y="1" width="1.02" height="1.02" fill="#b3fdb3"/><rect x="2" y="1" width="1.02" height="1.02" fill="#d2fed2"/><rect x="3" y="1" width="1.02" height="1.02" fill="#48fb48"/><rect x="4" y="1" width="1.02" height="1.02" fill="#d7fed7"/><rect x="5" y="1" width="1.02" height="1.02" fill="#dbfedb"/><rect x="6" y="1" width="1.02" height="1.02" fill="#3cfb3c"/><rect x="0" y="2" width="1.02" height="1.02" fill="#e4fee4"/><rect x="1" y="2" width="1.02" height="1.02" fill="#b3fdb3"/><rect x="2" y="2" width="1.02" height="1.02" fill="#d7fed7"/><rect x="3" y="2" width="1.02" height="1.02" fill="#5cfb5c"/><rect x="4" y="2" width="1.02" height="1.02" fill="#d7fed7"/><rect x="5" y="2" width="1.02" height="1.02" fill="#dbfedb"/><rect x="6" y="2" width="1.02" height="1.02" fill="#52fb52"/><rect x="0" y="3" width="1.02" height="1.02" fill="#f4fef4"/><rect x="1" y="3" width="1.02" height="1.02" fill="#30fb30"/><rect x="2" y="3" width="1.02" height="1.02" fill="#effeef"/><rect x="3" y="3" width="1.02" height="1.02" fill="#befdbe"/><rect x="4" y="3" width="1.02" height="1.02" fill="#92fc92"/><rect x="5" y="3" width="1.02" height="1.02" fill="#9dfd9d"/><rect x="6" y="3" width="1.02" height="1.02" fill="#b9fdb9"/><rect x="0" y="4" width="1.02" height="1.02" fill="#e5fee5"/><rect x="1" y="4" width="1.02" height="1.02" fill="#9afd9a"/><rect x="2" y="4" width="1.02" height="1.02" fill="#d9fed9"/><rect x="3" y="4" width="1.02" height="1.02" fill="#65fc65"/><rect x="4" y="4" width="1.02" height="1.02" fill="#c9fdc9"/><rect x="5" y="4" width="1.02" height="1.02" fill="#cffecf"/><rect x="6" y="4" width="1.02" height="1.02" fill="#5afb5a"/><rect x="0" y="5" width="1.02" height="1.02" fill="#e9fee9"/><rect x="1" y="5" width="1.02" height="1.02" fill="#88fc88"/><rect x="2" y="5" width="1.02" height="1.02" fill="#defede"/><rect x="3" y="5" width="1.02" height="1.02" fill="#7bfc7b"/><rect x="4" y="5" width="1.02" height="1.02" fill="#c0fdc0"/><rect x="5" y="5" width="1.02" height="1.02" fill="#c6fdc6"/><rect x="6" y="5" width="1.02" height="1.02" fill="#72fc72"/><rect x="0" y="6" width="1.02" height="1.02" fill="#e6fee6"/><rect x="1" y="6" width="1.02" height="1.02" fill="#95fc95"/><rect x="2" y="6" width="1.02" height="1.02" fill="#d9fed9"/><rect x="3" y="6" width="1.02" height="1.02" fill="#67fc67"/><rect x="4" y="6" width="1.02" height="1.02" fill="#c7fdc7"/><rect x="5" y="6" width="1.02" height="1.02" fill="#ccfecc"/><rect x="6" y="6" width="1.02" height="1.02" fill="#5cfb5c"/></pattern>
<pattern id="dr4" width="7" height="7" patternUnits="userSpaceOnUse" shape-rendering="crispEdges"><rect x="0" y="0" width="1.02" height="1.02" fill="#fef5f5"/><rect x="1" y="0" width="1.02" height="1.02" fill="#fc3535"/><rect x="2" y="0" width="1.02" height="1.02" fill="#fef1f1"/><rect x="3" y="0" width="1.02" height="1.02" fill="#fec6c6"/><rect x="4" y="0" width="1.02" height="1.02" fill="#fd9494"/><rect x="5" y="0" width="1.02" height="1.02" fill="#fd9f9f"/><rect x="6" y="0" width="1.02" height="1.02" fill="#fec2c2"/><rect x="0" y="1" width="1.02" height="1.02" fill="#fee1e1"/><rect x="1" y="1" width="1.02" height="1.02" fill="#fdb3b3"/><rect x="2" y="1" width="1.02" height="1.02" fill="#fed2d2"/><rect x="3" y="1" width="1.02" height="1.02" fill="#fc4848"/><rect x="4" y="1" width="1.02" height="1.02" fill="#fed7d7"/><rect x="5" y="1" width="1.02" height="1.02" fill="#fedbdb"/><rect x="6" y="1" width="1.02" height="1.02" fill="#fc3c3c"/><rect x="0" y="2" width="1.02" height="1.02" fill="#fee4e4"/><rect x="1" y="2" width="1.02" height="1.02" fill="#fdb3b3"/><rect x="2" y="2" width="1.02" height="1.02" fill="#fed7d7"/><rect x="3" y="2" width="1.02" height="1.02" fill="#fc5c5c"/><rect x="4" y="2" width="1.02" height="1.02" fill="#fed7d7"/><rect x="5" y="2" width="1.02" height="1.02" fill="#fedbdb"/><rect x="6" y="2" width="1.02" height="1.02" fill="#fc5252"/><rect x="0" y="3" width="1.02" height="1.02" fill="#fef4f4"/><rect x="1" y="3" width="1.02" height="1.02" fill="#fc3030"/><rect x="2" y="3" width="1.02" height="1.02" fill="#feefef"/><rect x="3" y="3" width="1.02" height="1.02" fill="#febebe"/><rect x="4" y="3" width="1.02" height="1.02" fill="#fd9292"/><rect x="5" y="3" width="1.02" height="1.02" fill="#fd9d9d"/><rect x="6" y="3" width="1.02" height="1.02" fill="#feb9b9"/><rect x="0" y="4" width="1.02" height="1.02" fill="#fee5e5"/><rect x="1" y="4" width="1.02" height="1.02" fill="#fd9a9a"/><rect x="2" y="4" width="1.02" height="1.02" fill="#fed9d9"/><rect x="3" y="4" width="1.02" height="1.02" fill="#fc6565"/><rect x="4" y="4" width="1.02" height="1.02" fill="#fec9c9"/><rect x="5" y="4" width="1.02" height="1.02" fill="#fecfcf"/><rect x="6" y="4" width="1.02" height="1.02" fill="#fc5a5a"/><rect x="0" y="5" width="1.02" height="1.02" fill="#fee9e9"/><rect x="1" y="5" width="1.02" height="1.02" fill="#fd8888"/><rect x="2" y="5" width="1.02" height="1.02" fill="#fedede"/><rect x="3" y="5" width="1.02" height="1.02" fill="#fd7b7b"/><rect x="4" y="5" width="1.02" height="1.02" fill="#fec0c0"/><rect x="5" y="5" width="1.02" height="1.02" fill="#fec6c6"/><rect x="6" y="5" width="1.02" height="1.02" fill="#fc7272"/><rect x="0" y="6" width="1.02" height="1.02" fill="#fee6e6"/><rect x="1" y="6" width="1.02" height="1.02" fill="#fd9595"/><rect x="2" y="6" width="1.02" height="1.02" fill="#fed9d9"/><rect x="3" y="6" width="1.02" height="1.02" fill="#fc6767"/><rect x="4" y="6" width="1.02" height="1.02" fill="#fec7c7"/><rect x="5" y="6" width="1.02" height="1.02" fill="#fecccc"/><rect x="6" y="6" width="1.02" height="1.02" fill="#fc5c5c"/></pattern>
<pattern id="db4" width="7" height="7" patternUnits="userSpaceOnUse" shape-rendering="crispEdges"><rect x="0" y="0" width="1.02" height="1.02" fill="#e9e9fe"/><rect x="1" y="0" width="1.02" height="1.02" fill="#2323fc"/><rect x="2" y="0" width="1.02" height="1.02" fill="#e4e4fe"/><rect x="3" y="0" width="1.02" height="1.02" fill="#b5b5fd"/><rect x="4" y="0" width="1.02" height="1.02" fill="#7f7ffd"/><rect x="5" y="0" width="1.02" height="1.02" fill="#8b8bfd"/><rect x="6" y="0" width="1.02" height="1.02" fill="#b1b1fd"/><rect x="0" y="1" width="1.02" height="1.02" fill="#d3d3fe"/><rect x="1" y="1" width="1.02" height="1.02" fill="#a0a0fd"/><rect x="2" y="1" width="1.02" height="1.02" fill="#c3c3fe"/><rect x="3" y="1" width="1.02" height="1.02" fill="#2b2bfc"/><rect x="4" y="1" width="1.02" height="1.02" fill="#c8c8fe"/><rect x="5" y="1" width="1.02" height="1.02" fill="#ccccfe"/><rect x="6" y="1" width="1.02" height="1.02" fill="#2323fc"/><rect x="0" y="2" width="1.02" height="1.02" fill="#d6d6fe"/><rect x="1" y="2" width="1.02" height="1.02" fill="#a0a0fd"/><rect x="2" y="2" width="1.02" height="1.02" fill="#c8c8fe"/><rect x="3" y="2" width="1.02" height="1.02" fill="#4141fc"/><rect x="4" y="2" width="1.02" height="1.02" fill="#c8c8fe"/><rect x="5" y="2" width="1.02" height="1.02" fill="#ccccfe"/><rect x="6" y="2" width="1.02" height="1.02" fill="#3535fc"/><rect x="0" y="3" width="1.02" height="1.02" fill="#e8e8fe"/><rect x="1" y="3" width="1.02" height="1.02" fill="#2323fc"/><rect x="2" y="3" width="1.02" height="1.02" fill="#e2e2fe"/><rect x="3" y="3" width="1.02" height="1.02" fill="#acacfd"/><rect x="4" y="3" width="1.02" height="1.02" fill="#7c7cfd"/><rect x="5" y="3" width="1.02" height="1.02" fill="#8888fd"/><rect x="6" y="3" width="1.02" height="1.02" fill="#a7a7fd"/><rect x="0" y="4" width="1.02" height="1.02" fill="#d8d8fe"/><rect x="1" y="4" width="1.02" height="1.02" fill="#8585fd"/><rect x="2" y="4" width="1.02" height="1.02" fill="#cacafe"/><rect x="3" y="4" width="1.02" height="1.02" fill="#4a4afc"/><rect x="4" y="4" width="1.02" height="1.02" fill="#b9b9fe"/><rect x="5" y="4" width="1.02" height="1.02" fill="#bfbffe"/><rect x="6" y="4" width="1.02" height="1.02" fill="#3f3ffc"/><rect x="0" y="5" width="1.02" height="1.02" fill="#dcdcfe"/><rect x="1" y="5" width="1.02" height="1.02" fill="#7171fd"/><rect x="2" y="5" width="1.02" height="1.02" fill="#d0d0fe"/><rect x="3" y="5" width="1.02" height="1.02" fill="#6363fc"/><rect x="4" y="5" width="1.02" height="1.02" fill="#afaffd"/><rect x="5" y="5" width="1.02" height="1.02" fill="#b6b6fe"/><rect x="6" y="5" width="1.02" height="1.02" fill="#5959fc"/><rect x="0" y="6" width="1.02" height="1.02" fill="#d8d8fe"/><rect x="1" y="6" width="1.02" height="1.02" fill="#7f7ffd"/><rect x="2" y="6" width="1.02" height="1.02" fill="#cbcbfe"/><rect x="3" y="6" width="1.02" height="1.02" fill="#4c4cfc"/><rect x="4" y="6" width="1.02" height="1.02" fill="#b6b6fe"/><rect x="5" y="6" width="1.02" height="1.02" fill="#bcbcfe"/><rect x="6" y="6" width="1.02" height="1.02" fill="#4141fc"/></pattern>
<clipPath id="z4"><rect x="280" y="0" width="49" height="457"/></clipPath>
<pattern id="dg5" width="7" height="7" patternUnits="userSpaceOnUse" shape-rendering="crispEdges"><rect x="0" y="0" width="1.02" height="1.02" fill="#f0fef0"/><rect x="1" y="0" width="1.02" height="1.02" fill="#35fb35"/><rect x="2" y="0" width="1.02" height="1.02" fill="#f6fef6"/><rect x="3" y="0" width="1.02" height="1.02" fill="#c1fdc1"/><rect x="4" y="0" width="1.02" height="1.02" fill="#a3fda3"/><rect x="5" y="0" width="1.02" height="1.02" fill="#90fc90"/><rect x="6" y="0" width="1.02" height="1.02" fill="#c7fdc7"/><rect x="0" y="1" width="1.02" height="1.02" fill="#d0fed0"/><rect x="1" y="1" width="1.02" height="1.02" fill="#b3fdb3"/><rect x="2" y="1" width="1.02" height="1.02" fill="#e3fee3"/><rect x="3" y="1" width="1.02" height="1.02" fill="#37fb37"/><rect x="4" y="1" width="1.02" height="1.02" fill="#dcfedc"/><rect x="5" y="1" width="1.02" height="1.02" fill="#d5fed5"/><rect x="6" y="1" width="1.02" height="1.02" fill="#4dfb4d"/><rect x="0" y="2" width="1.02" height="1.02" fill="#d5fed5"/><rect x="1" y="2" width="1.02" height="1.02" fill="#b3fdb3"/><rect x="2" y="2" width="1.02" height="1.02" fill="#e6fee6"/><rect x="3" y="2" width="1.02" height="1.02" fill="#4dfb4d"/><rect x="4" y="2" width="1.02" height="1.02" fill="#dcfedc"/><rect x="5" y="2" width="1.02" height="1.02" fill="#d5fed5"/><rect x="6" y="2" width="1.02" height="1.02" fill="#61fb61"/><rect x="0" y="3" width="1.02" height="1.02" fill="#eefeee"/><rect x="1" y="3" width="1.02" height="1.02" fill="#30fb30"/><rect x="2" y="3" width="1.02" height="1.02" fill="#f5fef5"/><rect x="3" y="3" width="1.02" height="1.02" fill="#b8fdb8"/><rect x="4" y="3" width="1.02" height="1.02" fill="#a1fda1"/><rect x="5" y="3" width="1.02" height="1.02" fill="#8dfc8d"/><rect x="6" y="3" width="1.02" height="1.02" fill="#bffdbf"/><rect x="0" y="4" width="1.02" height="1.02" fill="#d7fed7"/><rect x="1" y="4" width="1.02" height="1.02" fill="#9afd9a"/><rect x="2" y="4" width="1.02" height="1.02" fill="#e7fee7"/><rect x="3" y="4" width="1.02" height="1.02" fill="#56fb56"/><rect x="4" y="4" width="1.02" height="1.02" fill="#d1fed1"/><rect x="5" y="4" width="1.02" height="1.02" fill="#c7fdc7"/><rect x="6" y="4" width="1.02" height="1.02" fill="#69fc69"/><rect x="0" y="5" width="1.02" height="1.02" fill="#ddfedd"/><rect x="1" y="5" width="1.02" height="1.02" fill="#88fc88"/><rect x="2" y="5" width="1.02" height="1.02" fill="#ebfeeb"/><rect x="3" y="5" width="1.02" height="1.02" fill="#6ffc6f"/><rect x="4" y="5" width="1.02" height="1.02" fill="#c9fdc9"/><rect x="5" y="5" width="1.02" height="1.02" fill="#befdbe"/><rect x="6" y="5" width="1.02" height="1.02" fill="#7efc7e"/><rect x="0" y="6" width="1.02" height="1.02" fill="#d7fed7"/><rect x="1" y="6" width="1.02" height="1.02" fill="#95fc95"/><rect x="2" y="6" width="1.02" height="1.02" fill="#e8fee8"/><rect x="3" y="6" width="1.02" height="1.02" fill="#58fb58"/><rect x="4" y="6" width="1.02" height="1.02" fill="#cffecf"/><rect x="5" y="6" width="1.02" height="1.02" fill="#c4fdc4"/><rect x="6" y="6" width="1.02" height="1.02" fill="#6bfc6b"/></pattern>
<pattern id="dr5" width="7" height="7" patternUnits="userSpaceOnUse" shape-rendering="crispEdges"><rect x="0" y="0" width="1.02" height="1.02" fill="#fef0f0"/><rect x="1" y="0" width="1.02" height="1.02" fill="#fc3535"/><rect x="2" y="0" width="1.02" height="1.02" fill="#fef6f6"/><rect x="3" y="0" width="1.02" height="1.02" fill="#fec1c1"/><rect x="4" y="0" width="1.02" height="1.02" fill="#fda3a3"/><rect x="5" y="0" width="1.02" height="1.02" fill="#fd9090"/><rect x="6" y="0" width="1.02" height="1.02" fill="#fec7c7"/><rect x="0" y="1" width="1.02" height="1.02" fill="#fed0d0"/><rect x="1" y="1" width="1.02" height="1.02" fill="#fdb3b3"/><rect x="2" y="1" width="1.02" height="1.02" fill="#fee3e3"/><rect x="3" y="1" width="1.02" height="1.02" fill="#fc3737"/><rect x="4" y="1" width="1.02" height="1.02" fill="#fedcdc"/><rect x="5" y="1" width="1.02" height="1.02" fill="#fed5d5"/><rect x="6" y="1" width="1.02" height="1.02" fill="#fc4d4d"/><rect x="0" y="2" width="1.02" height="1.02" fill="#fed5d5"/><rect x="1" y="2" width="1.02" height="1.02" fill="#fdb3b3"/><rect x="2" y="2" width="1.02" height="1.02" fill="#fee6e6"/><rect x="3" y="2" width="1.02" height="1.02" fill="#fc4d4d"/><rect x="4" y="2" width="1.02" height="1.02" fill="#fedcdc"/><rect x="5" y="2" width="1.02" height="1.02" fill="#fed5d5"/><rect x="6" y="2" width="1.02" height="1.02" fill="#fc6161"/><rect x="0" y="3" width="1.02" height="1.02" fill="#feeeee"/><rect x="1" y="3" width="1.02" height="1.02" fill="#fc3030"/><rect x="2" y="3" width="1.02" height="1.02" fill="#fef5f5"/><rect x="3" y="3" width="1.02" height="1.02" fill="#fdb8b8"/><rect x="4" y="3" width="1.02" height="1.02" fill="#fda1a1"/><rect x="5" y="3" width="1.02" height="1.02" fill="#fd8d8d"/><rect x="6" y="3" width="1.02" height="1.02" fill="#febfbf"/><rect x="0" y="4" width="1.02" height="1.02" fill="#fed7d7"/><rect x="1" y="4" width="1.02" height="1.02" fill="#fd9a9a"/><rect x="2" y="4" width="1.02" height="1.02" fill="#fee7e7"/><rect x="3" y="4" width="1.02" height="1.02" fill="#fc5656"/><rect x="4" y="4" width="1.02" height="1.02" fill="#fed1d1"/><rect x="5" y="4" width="1.02" height="1.02" fill="#fec7c7"/><rect x="6" y="4" width="1.02" height="1.02" fill="#fc6969"/><rect x="0" y="5" width="1.02" height="1.02" fill="#fedddd"/><rect x="1" y="5" width="1.02" height="1.02" fill="#fd8888"/><rect x="2" y="5" width="1.02" height="1.02" fill="#feebeb"/><rect x="3" y="5" width="1.02" height="1.02" fill="#fc6f6f"/><rect x="4" y="5" width="1.02" height="1.02" fill="#fec9c9"/><rect x="5" y="5" width="1.02" height="1.02" fill="#febebe"/><rect x="6" y="5" width="1.02" height="1.02" fill="#fd7e7e"/><rect x="0" y="6" width="1.02" height="1.02" fill="#fed7d7"/><rect x="1" y="6" width="1.02" height="1.02" fill="#fd9595"/><rect x="2" y="6" width="1.02" height="1.02" fill="#fee8e8"/><rect x="3" y="6" width="1.02" height="1.02" fill="#fc5858"/><rect x="4" y="6" width="1.02" height="1.02" fill="#fecfcf"/><rect x="5" y="6" width="1.02" height="1.02" fill="#fec4c4"/><rect x="6" y="6" width="1.02" height="1.02" fill="#fc6b6b"/></pattern>
<pattern id="db5" width="7" height="7" patternUnits="userSpaceOnUse" shape-rendering="crispEdges"><rect x="0" y="0" width="1.02" height="1.02" fill="#e3e3fe"/><rect x="1" y="0" width="1.02" height="1.02" fill="#2323fc"/><rect x="2" y="0" width="1.02" height="1.02" fill="#eaeafe"/><rect x="3" y="0" width="1.02" height="1.02" fill="#afaffd"/><rect x="4" y="0" width="1.02" height="1.02" fill="#8f8ffd"/><rect x="5" y="0" width="1.02" height="1.02" fill="#7a7afd"/><rect x="6" y="0" width="1.02" height="1.02" fill="#b7b7fe"/><rect x="0" y="1" width="1.02" height="1.02" fill="#c0c0fe"/><rect x="1" y="1" width="1.02" height="1.02" fill="#a0a0fd"/><rect x="2" y="1" width="1.02" height="1.02" fill="#d5d5fe"/><rect x="3" y="1" width="1.02" height="1.02" fill="#2323fc"/><rect x="4" y="1" width="1.02" height="1.02" fill="#cecefe"/><rect x="5" y="1" width="1.02" height="1.02" fill="#c6c6fe"/><rect x="6" y="1" width="1.02" height="1.02" fill="#3030fc"/><rect x="0" y="2" width="1.02" height="1.02" fill="#c6c6fe"/><rect x="1" y="2" width="1.02" height="1.02" fill="#a0a0fd"/><rect x="2" y="2" width="1.02" height="1.02" fill="#d9d9fe"/><rect x="3" y="2" width="1.02" height="1.02" fill="#3131fc"/><rect x="4" y="2" width="1.02" height="1.02" fill="#cecefe"/><rect x="5" y="2" width="1.02" height="1.02" fill="#c6c6fe"/><rect x="6" y="2" width="1.02" height="1.02" fill="#4646fc"/><rect x="0" y="3" width="1.02" height="1.02" fill="#e1e1fe"/><rect x="1" y="3" width="1.02" height="1.02" fill="#2323fc"/><rect x="2" y="3" width="1.02" height="1.02" fill="#e9e9fe"/><rect x="3" y="3" width="1.02" height="1.02" fill="#a6a6fd"/><rect x="4" y="3" width="1.02" height="1.02" fill="#8d8dfd"/><rect x="5" y="3" width="1.02" height="1.02" fill="#7777fd"/><rect x="6" y="3" width="1.02" height="1.02" fill="#aeaefd"/><rect x="0" y="4" width="1.02" height="1.02" fill="#c8c8fe"/><rect x="1" y="4" width="1.02" height="1.02" fill="#8585fd"/><rect x="2" y="4" width="1.02" height="1.02" fill="#dadafe"/><rect x="3" y="4" width="1.02" height="1.02" fill="#3a3afc"/><rect x="4" y="4" width="1.02" height="1.02" fill="#c1c1fe"/><rect x="5" y="4" width="1.02" height="1.02" fill="#b7b7fe"/><rect x="6" y="4" width="1.02" height="1.02" fill="#4f4ffc"/><rect x="0" y="5" width="1.02" height="1.02" fill="#cecefe"/><rect x="1" y="5" width="1.02" height="1.02" fill="#7171fd"/><rect x="2" y="5" width="1.02" height="1.02" fill="#dedefe"/><rect x="3" y="5" width="1.02" height="1.02" fill="#5555fc"/><rect x="4" y="5" width="1.02" height="1.02" fill="#b9b9fe"/><rect x="5" y="5" width="1.02" height="1.02" fill="#acacfd"/><rect x="6" y="5" width="1.02" height="1.02" fill="#6666fc"/><rect x="0" y="6" width="1.02" height="1.02" fill="#c9c9fe"/><rect x="1" y="6" width="1.02" height="1.02" fill="#7f7ffd"/><rect x="2" y="6" width="1.02" height="1.02" fill="#dadafe"/><rect x="3" y="6" width="1.02" height="1.02" fill="#3d3dfc"/><rect x="4" y="6" width="1.02" height="1.02" fill="#bfbffe"/><rect x="5" y="6" width="1.02" height="1.02" fill="#b4b4fd"/><rect x="6" y="6" width="1.02" height="1.02" fill="#5151fc"/></pattern>
<clipPath id="z5"><rect x="329" y="0" width="49" height="457"/></clipPath>
<pattern id="dg6" width="7" height="7" patternUnits="userSpaceOnUse" shape-rendering="crispEdges"><rect x="0" y="0" width="1.02" height="1.02" fill="#eafeea"/><rect x="1" y="0" width="1.02" height="1.02" fill="#35fb35"/><rect x="2" y="0" width="1.02" height="1.02" fill="#fcfefc"/><rect x="3" y="0" width="1.02" height="1.02" fill="#bafdba"/><rect x="4" y="0" width="1.02" height="1.02" fill="#b5fdb5"/><rect x="5" y="0" width="1.02" height="1.02" fill="#7ffc7f"/><rect x="6" y="0" width="1.02" height="1.02" fill="#cdfecd"/><rect x="0" y="1" width="1.02" height="1.02" fill="#bcfdbc"/><rect x="1" y="1" width="1.02" height="1.02" fill="#b3fdb3"/><rect x="2" y="1" width="1.02" height="1.02" fill="#f6fef6"/><rect x="3" y="1" width="1.02" height="1.02" fill="#2dfb2d"/><rect x="4" y="1" width="1.02" height="1.02" fill="#e3fee3"/><rect x="5" y="1" width="1.02" height="1.02" fill="#cffecf"/><rect x="6" y="1" width="1.02" height="1.02" fill="#60fb60"/><rect x="0" y="2" width="1.02" height="1.02" fill="#c4fdc4"/><rect x="1" y="2" width="1.02" height="1.02" fill="#b3fdb3"/><rect x="2" y="2" width="1.02" height="1.02" fill="#f7fef7"/><rect x="3" y="2" width="1.02" height="1.02" fill="#3cfb3c"/><rect x="4" y="2" width="1.02" height="1.02" fill="#e3fee3"/><rect x="5" y="2" width="1.02" height="1.02" fill="#cffecf"/><rect x="6" y="2" width="1.02" height="1.02" fill="#72fc72"/><rect x="0" y="3" width="1.02" height="1.02" fill="#e7fee7"/><rect x="1" y="3" width="1.02" height="1.02" fill="#30fb30"/><rect x="2" y="3" width="1.02" height="1.02" fill="#fcfefc"/><rect x="3" y="3" width="1.02" height="1.02" fill="#b1fdb1"/><rect x="4" y="3" width="1.02" height="1.02" fill="#b3fdb3"/><rect x="5" y="3" width="1.02" height="1.02" fill="#7cfc7c"/><rect x="6" y="3" width="1.02" height="1.02" fill="#c6fdc6"/><rect x="0" y="4" width="1.02" height="1.02" fill="#c7fdc7"/><rect x="1" y="4" width="1.02" height="1.02" fill="#9afd9a"/><rect x="2" y="4" width="1.02" height="1.02" fill="#f8fef8"/><rect x="3" y="4" width="1.02" height="1.02" fill="#46fb46"/><rect x="4" y="4" width="1.02" height="1.02" fill="#dafeda"/><rect x="5" y="4" width="1.02" height="1.02" fill="#bffdbf"/><rect x="6" y="4" width="1.02" height="1.02" fill="#79fc79"/><rect x="0" y="5" width="1.02" height="1.02" fill="#cffecf"/><rect x="1" y="5" width="1.02" height="1.02" fill="#88fc88"/><rect x="2" y="5" width="1.02" height="1.02" fill="#f9fef9"/><rect x="3" y="5" width="1.02" height="1.02" fill="#61fb61"/><rect x="4" y="5" width="1.02" height="1.02" fill="#d3fed3"/><rect x="5" y="5" width="1.02" height="1.02" fill="#b3fdb3"/><rect x="6" y="5" width="1.02" height="1.02" fill="#8cfc8c"/><rect x="0" y="6" width="1.02" height="1.02" fill="#c7fdc7"/><rect x="1" y="6" width="1.02" height="1.02" fill="#95fc95"/><rect x="2" y="6" width="1.02" height="1.02" fill="#f8fef8"/><rect x="3" y="6" width="1.02" height="1.02" fill="#48fb48"/><rect x="4" y="6" width="1.02" height="1.02" fill="#d8fed8"/><rect x="5" y="6" width="1.02" height="1.02" fill="#bbfdbb"/><rect x="6" y="6" width="1.02" height="1.02" fill="#7bfc7b"/></pattern>
<pattern id="dr6" width="7" height="7" patternUnits="userSpaceOnUse" shape-rendering="crispEdges"><rect x="0" y="0" width="1.02" height="1.02" fill="#feeaea"/><rect x="1" y="0" width="1.02" height="1.02" fill="#fc3535"/><rect x="2" y="0" width="1.02" height="1.02" fill="#fefcfc"/><rect x="3" y="0" width="1.02" height="1.02" fill="#febaba"/><rect x="4" y="0" width="1.02" height="1.02" fill="#fdb5b5"/><rect x="5" y="0" width="1.02" height="1.02" fill="#fd7f7f"/><rect x="6" y="0" width="1.02" height="1.02" fill="#fecdcd"/><rect x="0" y="1" width="1.02" height="1.02" fill="#febcbc"/><rect x="1" y="1" width="1.02" height="1.02" fill="#fdb3b3"/><rect x="2" y="1" width="1.02" height="1.02" fill="#fef6f6"/><rect x="3" y="1" width="1.02" height="1.02" fill="#fc2d2d"/><rect x="4" y="1" width="1.02" height="1.02" fill="#fee3e3"/><rect x="5" y="1" width="1.02" height="1.02" fill="#fecfcf"/><rect x="6" y="1" width="1.02" height="1.02" fill="#fc6060"/><rect x="0" y="2" width="1.02" height="1.02" fill="#fec4c4"/><rect x="1" y="2" width="1.02" height="1.02" fill="#fdb3b3"/><rect x="2" y="2" width="1.02" height="1.02" fill="#fef7f7"/><rect x="3" y="2" width="1.02" height="1.02" fill="#fc3c3c"/><rect x="4" y="2" width="1.02" height="1.02" fill="#fee3e3"/><rect x="5" y="2" width="1.02" height="1.02" fill="#fecfcf"/><rect x="6" y="2" width="1.02" height="1.02" fill="#fc7272"/><rect x="0" y="3" width="1.02" height="1.02" fill="#fee7e7"/><rect x="1" y="3" width="1.02" height="1.02" fill="#fc3030"/><rect x="2" y="3" width="1.02" height="1.02" fill="#fefcfc"/><rect x="3" y="3" width="1.02" height="1.02" fill="#fdb1b1"/><rect x="4" y="3" width="1.02" height="1.02" fill="#fdb3b3"/><rect x="5" y="3" width="1.02" height="1.02" fill="#fd7c7c"/><rect x="6" y="3" width="1.02" height="1.02" fill="#fec6c6"/><rect x="0" y="4" width="1.02" height="1.02" fill="#fec7c7"/><rect x="1" y="4" width="1.02" height="1.02" fill="#fd9a9a"/><rect x="2" y="4" width="1.02" height="1.02" fill="#fef8f8"/><rect x="3" y="4" width="1.02" height="1.02" fill="#fc4646"/><rect x="4" y="4" width="1.02" height="1.02" fill="#fedada"/><rect x="5" y="4" width="1.02" height="1.02" fill="#febfbf"/><rect x="6" y="4" width="1.02" height="1.02" fill="#fd7979"/><rect x="0" y="5" width="1.02" height="1.02" fill="#fecfcf"/><rect x="1" y="5" width="1.02" height="1.02" fill="#fd8888"/><rect x="2" y="5" width="1.02" height="1.02" fill="#fef9f9"/><rect x="3" y="5" width="1.02" height="1.02" fill="#fc6161"/><rect x="4" y="5" width="1.02" height="1.02" fill="#fed3d3"/><rect x="5" y="5" width="1.02" height="1.02" fill="#fdb3b3"/><rect x="6" y="5" width="1.02" height="1.02" fill="#fd8c8c"/><rect x="0" y="6" width="1.02" height="1.02" fill="#fec7c7"/><rect x="1" y="6" width="1.02" height="1.02" fill="#fd9595"/><rect x="2" y="6" width="1.02" height="1.02" fill="#fef8f8"/><rect x="3" y="6" width="1.02" height="1.02" fill="#fc4848"/><rect x="4" y="6" width="1.02" height="1.02" fill="#fed8d8"/><rect x="5" y="6" width="1.02" height="1.02" fill="#febbbb"/><rect x="6" y="6" width="1.02" height="1.02" fill="#fd7b7b"/></pattern>
<pattern id="db6" width="7" height="7" patternUnits="userSpaceOnUse" shape-rendering="crispEdges"><rect x="0" y="0" width="1.02" height="1.02" fill="#ddddfe"/><rect x="1" y="0" width="1.02" height="1.02" fill="#2323fc"/><rect x="2" y="0" width="1.02" height="1.02" fill="#f1f1fe"/><rect x="3" y="0" width="1.02" height="1.02" fill="#a9a9fd"/><rect x="4" y="0" width="1.02" height="1.02" fill="#a2a2fd"/><rect x="5" y="0" width="1.02" height="1.02" fill="#6767fc"/><rect x="6" y="0" width="1.02" height="1.02" fill="#bdbdfe"/><rect x="0" y="1" width="1.02" height="1.02" fill="#ababfd"/><rect x="1" y="1" width="1.02" height="1.02" fill="#a0a0fd"/><rect x="2" y="1" width="1.02" height="1.02" fill="#ebebfe"/><rect x="3" y="1" width="1.02" height="1.02" fill="#2323fc"/><rect x="4" y="1" width="1.02" height="1.02" fill="#d5d5fe"/><rect x="5" y="1" width="1.02" height="1.02" fill="#bfbffe"/><rect x="6" y="1" width="1.02" height="1.02" fill="#4646fc"/><rect x="0" y="2" width="1.02" height="1.02" fill="#b3b3fd"/><rect x="1" y="2" width="1.02" height="1.02" fill="#a0a0fd"/><rect x="2" y="2" width="1.02" height="1.02" fill="#ececfe"/><rect x="3" y="2" width="1.02" height="1.02" fill="#2323fc"/><rect x="4" y="2" width="1.02" height="1.02" fill="#d5d5fe"/><rect x="5" y="2" width="1.02" height="1.02" fill="#bfbffe"/><rect x="6" y="2" width="1.02" height="1.02" fill="#5959fc"/><rect x="0" y="3" width="1.02" height="1.02" fill="#dadafe"/><rect x="1" y="3" width="1.02" height="1.02" fill="#2323fc"/><rect x="2" y="3" width="1.02" height="1.02" fill="#f0f0fe"/><rect x="3" y="3" width="1.02" height="1.02" fill="#9e9efd"/><rect x="4" y="3" width="1.02" height="1.02" fill="#a0a0fd"/><rect x="5" y="3" width="1.02" height="1.02" fill="#6464fc"/><rect x="6" y="3" width="1.02" height="1.02" fill="#b6b6fe"/><rect x="0" y="4" width="1.02" height="1.02" fill="#b6b6fe"/><rect x="1" y="4" width="1.02" height="1.02" fill="#8585fd"/><rect x="2" y="4" width="1.02" height="1.02" fill="#ececfe"/><rect x="3" y="4" width="1.02" height="1.02" fill="#2828fc"/><rect x="4" y="4" width="1.02" height="1.02" fill="#cbcbfe"/><rect x="5" y="4" width="1.02" height="1.02" fill="#adadfd"/><rect x="6" y="4" width="1.02" height="1.02" fill="#6161fc"/><rect x="0" y="5" width="1.02" height="1.02" fill="#bfbffe"/><rect x="1" y="5" width="1.02" height="1.02" fill="#7171fd"/><rect x="2" y="5" width="1.02" height="1.02" fill="#ededfe"/><rect x="3" y="5" width="1.02" height="1.02" fill="#4646fc"/><rect x="4" y="5" width="1.02" height="1.02" fill="#c4c4fe"/><rect x="5" y="5" width="1.02" height="1.02" fill="#a1a1fd"/><rect x="6" y="5" width="1.02" height="1.02" fill="#7676fd"/><rect x="0" y="6" width="1.02" height="1.02" fill="#b7b7fe"/><rect x="1" y="6" width="1.02" height="1.02" fill="#7f7ffd"/><rect x="2" y="6" width="1.02" height="1.02" fill="#ececfe"/><rect x="3" y="6" width="1.02" height="1.02" fill="#2b2bfc"/><rect x="4" y="6" width="1.02" height="1.02" fill="#c9c9fe"/><rect x="5" y="6" width="1.02" height="1.02" fill="#aaaafd"/><rect x="6" y="6" width="1.02" height="1.02" fill="#6363fc"/></pattern>
<clipPath id="z6"><rect x="378" y="0" width="56" height="457"/></clipPath>
<pattern id="dg7" width="7" height="7" patternUnits="userSpaceOnUse" shape-rendering="crispEdges"><rect x="0" y="0" width="1.02" height="1.02" fill="#e5fee5"/><rect x="1" y="0" width="1.02" height="1.02" fill="#3cfb3c"/><rect x="2" y="0" width="1.02" height="1.02" fill="#f7fef7"/><rect x="3" y="0" width="1.02" height="1.02" fill="#b8fdb8"/><rect x="4" y="0" width="1.02" height="1.02" fill="#c4fdc4"/><rect x="5" y="0" width="1.02" height="1.02" fill="#70fc70"/><rect x="6" y="0" width="1.02" height="1.02" fill="#d3fed3"/><rect x="0" y="1" width="1.02" height="1.02" fill="#abfdab"/><rect x="1" y="1" width="1.02" height="1.02" fill="#b6fdb6"/><rect x="2" y="1" width="1.02" height="1.02" fill="#fcfefc"/><rect x="3" y="1" width="1.02" height="1.02" fill="#2dfb2d"/><rect x="4" y="1" width="1.02" height="1.02" fill="#e8fee8"/><rect x="5" y="1" width="1.02" height="1.02" fill="#c9fdc9"/><rect x="6" y="1" width="1.02" height="1.02" fill="#71fc71"/><rect x="0" y="2" width="1.02" height="1.02" fill="#b5fdb5"/><rect x="1" y="2" width="1.02" height="1.02" fill="#b6fdb6"/><rect x="2" y="2" width="1.02" height="1.02" fill="#fcfefc"/><rect x="3" y="2" width="1.02" height="1.02" fill="#35fb35"/><rect x="4" y="2" width="1.02" height="1.02" fill="#e8fee8"/><rect x="5" y="2" width="1.02" height="1.02" fill="#c9fdc9"/><rect x="6" y="2" width="1.02" height="1.02" fill="#81fc81"/><rect x="0" y="3" width="1.02" height="1.02" fill="#e1fee1"/><rect x="1" y="3" width="1.02" height="1.02" fill="#37fb37"/><rect x="2" y="3" width="1.02" height="1.02" fill="#f7fef7"/><rect x="3" y="3" width="1.02" height="1.02" fill="#aefdae"/><rect x="4" y="3" width="1.02" height="1.02" fill="#c2fdc2"/><rect x="5" y="3" width="1.02" height="1.02" fill="#6cfc6c"/><rect x="6" y="3" width="1.02" height="1.02" fill="#ccfecc"/><rect x="0" y="4" width="1.02" height="1.02" fill="#b8fdb8"/><rect x="1" y="4" width="1.02" height="1.02" fill="#9dfd9d"/><rect x="2" y="4" width="1.02" height="1.02" fill="#fbfefb"/><rect x="3" y="4" width="1.02" height="1.02" fill="#3ffb3f"/><rect x="4" y="4" width="1.02" height="1.02" fill="#e1fee1"/><rect x="5" y="4" width="1.02" height="1.02" fill="#b7fdb7"/><rect x="6" y="4" width="1.02" height="1.02" fill="#87fc87"/><rect x="0" y="5" width="1.02" height="1.02" fill="#c2fdc2"/><rect x="1" y="5" width="1.02" height="1.02" fill="#8cfc8c"/><rect x="2" y="5" width="1.02" height="1.02" fill="#fafefa"/><rect x="3" y="5" width="1.02" height="1.02" fill="#5bfb5b"/><rect x="4" y="5" width="1.02" height="1.02" fill="#dcfedc"/><rect x="5" y="5" width="1.02" height="1.02" fill="#abfdab"/><rect x="6" y="5" width="1.02" height="1.02" fill="#99fd99"/><rect x="0" y="6" width="1.02" height="1.02" fill="#b9fdb9"/><rect x="1" y="6" width="1.02" height="1.02" fill="#98fd98"/><rect x="2" y="6" width="1.02" height="1.02" fill="#fbfefb"/><rect x="3" y="6" width="1.02" height="1.02" fill="#42fb42"/><rect x="4" y="6" width="1.02" height="1.02" fill="#e0fee0"/><rect x="5" y="6" width="1.02" height="1.02" fill="#b4fdb4"/><rect x="6" y="6" width="1.02" height="1.02" fill="#89fc89"/></pattern>
<pattern id="dr7" width="7" height="7" patternUnits="userSpaceOnUse" shape-rendering="crispEdges"><rect x="0" y="0" width="1.02" height="1.02" fill="#fee5e5"/><rect x="1" y="0" width="1.02" height="1.02" fill="#fc3c3c"/><rect x="2" y="0" width="1.02" height="1.02" fill="#fef7f7"/><rect x="3" y="0" width="1.02" height="1.02" fill="#fdb8b8"/><rect x="4" y="0" width="1.02" height="1.02" fill="#fec4c4"/><rect x="5" y="0" width="1.02" height="1.02" fill="#fc7070"/><rect x="6" y="0" width="1.02" height="1.02" fill="#fed3d3"/><rect x="0" y="1" width="1.02" height="1.02" fill="#fdabab"/><rect x="1" y="1" width="1.02" height="1.02" fill="#fdb6b6"/><rect x="2" y="1" width="1.02" height="1.02" fill="#fefcfc"/><rect x="3" y="1" width="1.02" height="1.02" fill="#fc2d2d"/><rect x="4" y="1" width="1.02" height="1.02" fill="#fee8e8"/><rect x="5" y="1" width="1.02" height="1.02" fill="#fec9c9"/><rect x="6" y="1" width="1.02" height="1.02" fill="#fc7171"/><rect x="0" y="2" width="1.02" height="1.02" fill="#fdb5b5"/><rect x="1" y="2" width="1.02" height="1.02" fill="#fdb6b6"/><rect x="2" y="2" width="1.02" height="1.02" fill="#fefcfc"/><rect x="3" y="2" width="1.02" height="1.02" fill="#fc3535"/><rect x="4" y="2" width="1.02" height="1.02" fill="#fee8e8"/><rect x="5" y="2" width="1.02" height="1.02" fill="#fec9c9"/><rect x="6" y="2" width="1.02" height="1.02" fill="#fd8181"/><rect x="0" y="3" width="1.02" height="1.02" fill="#fee1e1"/><rect x="1" y="3" width="1.02" height="1.02" fill="#fc3737"/><rect x="2" y="3" width="1.02" height="1.02" fill="#fef7f7"/><rect x="3" y="3" width="1.02" height="1.02" fill="#fdaeae"/><rect x="4" y="3" width="1.02" height="1.02" fill="#fec2c2"/><rect x="5" y="3" width="1.02" height="1.02" fill="#fc6c6c"/><rect x="6" y="3" width="1.02" height="1.02" fill="#fecccc"/><rect x="0" y="4" width="1.02" height="1.02" fill="#fdb8b8"/><rect x="1" y="4" width="1.02" height="1.02" fill="#fd9d9d"/><rect x="2" y="4" width="1.02" height="1.02" fill="#fefbfb"/><rect x="3" y="4" width="1.02" height="1.02" fill="#fc3f3f"/><rect x="4" y="4" width="1.02" height="1.02" fill="#fee1e1"/><rect x="5" y="4" width="1.02" height="1.02" fill="#fdb7b7"/><rect x="6" y="4" width="1.02" height="1.02" fill="#fd8787"/><rect x="0" y="5" width="1.02" height="1.02" fill="#fec2c2"/><rect x="1" y="5" width="1.02" height="1.02" fill="#fd8c8c"/><rect x="2" y="5" width="1.02" height="1.02" fill="#fefafa"/><rect x="3" y="5" width="1.02" height="1.02" fill="#fc5b5b"/><rect x="4" y="5" width="1.02" height="1.02" fill="#fedcdc"/><rect x="5" y="5" width="1.02" height="1.02" fill="#fdabab"/><rect x="6" y="5" width="1.02" height="1.02" fill="#fd9999"/><rect x="0" y="6" width="1.02" height="1.02" fill="#feb9b9"/><rect x="1" y="6" width="1.02" height="1.02" fill="#fd9898"/><rect x="2" y="6" width="1.02" height="1.02" fill="#fefbfb"/><rect x="3" y="6" width="1.02" height="1.02" fill="#fc4242"/><rect x="4" y="6" width="1.02" height="1.02" fill="#fee0e0"/><rect x="5" y="6" width="1.02" height="1.02" fill="#fdb4b4"/><rect x="6" y="6" width="1.02" height="1.02" fill="#fd8989"/></pattern>
<pattern id="db7" width="7" height="7" patternUnits="userSpaceOnUse" shape-rendering="crispEdges"><rect x="0" y="0" width="1.02" height="1.02" fill="#d7d7fe"/><rect x="1" y="0" width="1.02" height="1.02" fill="#2323fc"/><rect x="2" y="0" width="1.02" height="1.02" fill="#ececfe"/><rect x="3" y="0" width="1.02" height="1.02" fill="#a6a6fd"/><rect x="4" y="0" width="1.02" height="1.02" fill="#b3b3fd"/><rect x="5" y="0" width="1.02" height="1.02" fill="#5656fc"/><rect x="6" y="0" width="1.02" height="1.02" fill="#c3c3fe"/><rect x="0" y="1" width="1.02" height="1.02" fill="#9898fd"/><rect x="1" y="1" width="1.02" height="1.02" fill="#a3a3fd"/><rect x="2" y="1" width="1.02" height="1.02" fill="#f1f1fe"/><rect x="3" y="1" width="1.02" height="1.02" fill="#2323fc"/><rect x="4" y="1" width="1.02" height="1.02" fill="#dbdbfe"/><rect x="5" y="1" width="1.02" height="1.02" fill="#b9b9fe"/><rect x="6" y="1" width="1.02" height="1.02" fill="#5858fc"/><rect x="0" y="2" width="1.02" height="1.02" fill="#a2a2fd"/><rect x="1" y="2" width="1.02" height="1.02" fill="#a3a3fd"/><rect x="2" y="2" width="1.02" height="1.02" fill="#f1f1fe"/><rect x="3" y="2" width="1.02" height="1.02" fill="#2323fc"/><rect x="4" y="2" width="1.02" height="1.02" fill="#dbdbfe"/><rect x="5" y="2" width="1.02" height="1.02" fill="#b9b9fe"/><rect x="6" y="2" width="1.02" height="1.02" fill="#6969fc"/><rect x="0" y="3" width="1.02" height="1.02" fill="#d3d3fe"/><rect x="1" y="3" width="1.02" height="1.02" fill="#2323fc"/><rect x="2" y="3" width="1.02" height="1.02" fill="#ebebfe"/><rect x="3" y="3" width="1.02" height="1.02" fill="#9b9bfd"/><rect x="4" y="3" width="1.02" height="1.02" fill="#b1b1fd"/><rect x="5" y="3" width="1.02" height="1.02" fill="#5353fc"/><rect x="6" y="3" width="1.02" height="1.02" fill="#bcbcfe"/><rect x="0" y="4" width="1.02" height="1.02" fill="#a6a6fd"/><rect x="1" y="4" width="1.02" height="1.02" fill="#8989fd"/><rect x="2" y="4" width="1.02" height="1.02" fill="#f0f0fe"/><rect x="3" y="4" width="1.02" height="1.02" fill="#2323fc"/><rect x="4" y="4" width="1.02" height="1.02" fill="#d3d3fe"/><rect x="5" y="4" width="1.02" height="1.02" fill="#a5a5fd"/><rect x="6" y="4" width="1.02" height="1.02" fill="#7070fd"/><rect x="0" y="5" width="1.02" height="1.02" fill="#b1b1fd"/><rect x="1" y="5" width="1.02" height="1.02" fill="#7676fd"/><rect x="2" y="5" width="1.02" height="1.02" fill="#efeffe"/><rect x="3" y="5" width="1.02" height="1.02" fill="#3f3ffc"/><rect x="4" y="5" width="1.02" height="1.02" fill="#cdcdfe"/><rect x="5" y="5" width="1.02" height="1.02" fill="#9797fd"/><rect x="6" y="5" width="1.02" height="1.02" fill="#8383fd"/><rect x="0" y="6" width="1.02" height="1.02" fill="#a7a7fd"/><rect x="1" y="6" width="1.02" height="1.02" fill="#8383fd"/><rect x="2" y="6" width="1.02" height="1.02" fill="#efeffe"/><rect x="3" y="6" width="1.02" height="1.02" fill="#2424fc"/><rect x="4" y="6" width="1.02" height="1.02" fill="#d2d2fe"/><rect x="5" y="6" width="1.02" height="1.02" fill="#a1a1fd"/><rect x="6" y="6" width="1.02" height="1.02" fill="#7272fd"/></pattern>
<clipPath id="z7"><rect x="434" y="0" width="49" height="457"/></clipPath>

<clipPath id="cp"><rect x="78" y="2" width="399.5" height="410.3"/></clipPath>
</defs>
<rect width="491" height="457" fill="#fff"/>

<g clip-path="url(#cp)">
<clipPath id="cs"><path d="M78.0,2.0 L477.5,2.0 L477.5,112.4 L440.0,119.5 L380.0,130.8 L320.0,142.0 L305.0,145.2 L290.0,148.6 L275.0,151.9 L260.0,155.6 L200.0,171.6 L130.0,190.3 L78.0,204.1 Z"/></clipPath>
<path clip-path="url(#cs)" fill="#14ff14" d="M83.00 0.60h1v1h-1zM79.50 3.95h1v1h-1zM83.00 7.60h1v1h-1zM79.50 10.95h1v1h-1zM83.00 14.60h1v1h-1zM79.50 17.95h1v1h-1zM83.00 21.60h1v1h-1zM79.50 24.95h1v1h-1zM83.00 28.60h1v1h-1zM79.50 31.95h1v1h-1zM83.00 35.60h1v1h-1zM79.50 38.95h1v1h-1zM83.00 42.60h1v1h-1zM79.50 45.95h1v1h-1zM83.00 49.60h1v1h-1zM79.50 52.95h1v1h-1zM83.00 56.60h1v1h-1zM79.50 59.95h1v1h-1zM83.00 63.60h1v1h-1zM79.50 66.95h1v1h-1zM83.00 70.60h1v1h-1zM79.50 73.95h1v1h-1zM83.00 77.60h1v1h-1zM79.50 80.95h1v1h-1zM83.00 84.60h1v1h-1zM79.50 87.95h1v1h-1zM83.00 91.60h1v1h-1zM79.50 94.95h1v1h-1zM83.00 98.60h1v1h-1zM79.50 101.95h1v1h-1zM83.00 105.60h1v1h-1zM79.50 108.95h1v1h-1zM83.00 112.60h1v1h-1zM79.50 115.95h1v1h-1zM83.00 119.60h1v1h-1zM79.50 122.95h1v1h-1zM83.00 126.60h1v1h-1zM79.50 129.95h1v1h-1zM83.00 133.60h1v1h-1zM79.50 136.95h1v1h-1zM83.00 140.60h1v1h-1zM79.50 143.95h1v1h-1zM83.00 147.60h1v1h-1zM79.50 150.95h1v1h-1zM83.00 154.60h1v1h-1zM79.50 157.95h1v1h-1zM83.00 161.60h1v1h-1zM79.50 164.95h1v1h-1zM83.00 168.60h1v1h-1zM79.50 171.95h1v1h-1zM83.00 175.60h1v1h-1zM79.50 178.95h1v1h-1zM83.00 182.60h1v1h-1zM79.50 185.95h1v1h-1zM83.00 189.60h1v1h-1zM79.50 192.95h1v1h-1zM83.00 196.60h1v1h-1zM79.50 199.95h1v1h-1zM90.01 0.60h1v1h-1zM86.51 3.95h1v1h-1zM90.01 7.60h1v1h-1zM86.51 10.95h1v1h-1zM90.01 14.60h1v1h-1zM86.51 17.95h1v1h-1zM90.01 21.60h1v1h-1zM86.51 24.95h1v1h-1zM90.01 28.60h1v1h-1zM86.51 31.95h1v1h-1zM90.01 35.60h1v1h-1zM86.51 38.95h1v1h-1zM90.01 42.60h1v1h-1zM86.51 45.95h1v1h-1zM90.01 49.60h1v1h-1zM86.51 52.95h1v1h-1zM90.01 56.60h1v1h-1zM86.51 59.95h1v1h-1zM90.01 63.60h1v1h-1zM86.51 66.95h1v1h-1zM90.01 70.60h1v1h-1zM86.51 73.95h1v1h-1zM90.01 77.60h1v1h-1zM86.51 80.95h1v1h-1zM90.01 84.60h1v1h-1zM86.51 87.95h1v1h-1zM90.01 91.60h1v1h-1zM86.51 94.95h1v1h-1zM90.01 98.60h1v1h-1zM86.51 101.95h1v1h-1zM90.01 105.60h1v1h-1zM86.51 108.95h1v1h-1zM90.01 112.60h1v1h-1zM86.51 115.95h1v1h-1zM90.01 119.60h1v1h-1zM86.51 122.95h1v1h-1zM90.01 126.60h1v1h-1zM86.51 129.95h1v1h-1zM90.01 133.60h1v1h-1zM86.51 136.95h1v1h-1zM90.01 140.60h1v1h-1zM86.51 143.95h1v1h-1zM90.01 147.60h1v1h-1zM86.51 150.95h1v1h-1zM90.01 154.60h1v1h-1zM86.51 157.95h1v1h-1zM90.01 161.60h1v1h-1zM86.51 164.95h1v1h-1zM90.01 168.60h1v1h-1zM86.51 171.95h1v1h-1zM90.01 175.60h1v1h-1zM86.51 178.95h1v1h-1zM90.01 182.60h1v1h-1zM86.51 185.95h1v1h-1zM90.01 189.60h1v1h-1zM86.51 192.95h1v1h-1zM90.01 196.60h1v1h-1zM86.51 199.95h1v1h-1zM97.02 0.60h1v1h-1zM93.52 3.95h1v1h-1zM97.02 7.60h1v1h-1zM93.52 10.95h1v1h-1zM97.02 14.60h1v1h-1zM93.52 17.95h1v1h-1zM97.02 21.60h1v1h-1zM93.52 24.95h1v1h-1zM97.02 28.60h1v1h-1zM93.52 31.95h1v1h-1zM97.02 35.60h1v1h-1zM93.52 38.95h1v1h-1zM97.02 42.60h1v1h-1zM93.52 45.95h1v1h-1zM97.02 49.60h1v1h-1zM93.52 52.95h1v1h-1zM97.02 56.60h1v1h-1zM93.52 59.95h1v1h-1zM97.02 63.60h1v1h-1zM93.52 66.95h1v1h-1zM97.02 70.60h1v1h-1zM93.52 73.95h1v1h-1zM97.02 77.60h1v1h-1zM93.52 80.95h1v1h-1zM97.02 84.60h1v1h-1zM93.52 87.95h1v1h-1zM97.02 91.60h1v1h-1zM93.52 94.95h1v1h-1zM97.02 98.60h1v1h-1zM93.52 101.95h1v1h-1zM97.02 105.60h1v1h-1zM93.52 108.95h1v1h-1zM97.02 112.60h1v1h-1zM93.52 115.95h1v1h-1zM97.02 119.60h1v1h-1zM93.52 122.95h1v1h-1zM97.02 126.60h1v1h-1zM93.52 129.95h1v1h-1zM97.02 133.60h1v1h-1zM93.52 136.95h1v1h-1zM97.02 140.60h1v1h-1zM93.52 143.95h1v1h-1zM97.02 147.60h1v1h-1zM93.52 150.95h1v1h-1zM97.02 154.60h1v1h-1zM93.52 157.95h1v1h-1zM97.02 161.60h1v1h-1zM93.52 164.95h1v1h-1zM97.02 168.60h1v1h-1zM93.52 171.95h1v1h-1zM97.02 175.60h1v1h-1zM93.52 178.95h1v1h-1zM97.02 182.60h1v1h-1zM93.52 185.95h1v1h-1zM97.02 189.60h1v1h-1zM93.52 192.95h1v1h-1zM97.02 196.60h1v1h-1zM93.52 199.95h1v1h-1zM104.02 0.60h1v1h-1zM100.52 3.95h1v1h-1zM104.02 7.60h1v1h-1zM100.52 10.95h1v1h-1zM104.02 14.60h1v1h-1zM100.52 17.95h1v1h-1zM104.02 21.60h1v1h-1zM100.52 24.95h1v1h-1zM104.02 28.60h1v1h-1zM100.52 31.95h1v1h-1zM104.02 35.60h1v1h-1zM100.52 38.95h1v1h-1zM104.02 42.60h1v1h-1zM100.52 45.95h1v1h-1zM104.02 49.60h1v1h-1zM100.52 52.95h1v1h-1zM104.02 56.60h1v1h-1zM100.52 59.95h1v1h-1zM104.02 63.60h1v1h-1zM100.52 66.95h1v1h-1zM104.02 70.60h1v1h-1zM100.52 73.95h1v1h-1zM104.02 77.60h1v1h-1zM100.52 80.95h1v1h-1zM104.02 84.60h1v1h-1zM100.52 87.95h1v1h-1zM104.02 91.60h1v1h-1zM100.52 94.95h1v1h-1zM104.02 98.60h1v1h-1zM100.52 101.95h1v1h-1zM104.02 105.60h1v1h-1zM100.52 108.95h1v1h-1zM104.02 112.60h1v1h-1zM100.52 115.95h1v1h-1zM104.02 119.60h1v1h-1zM100.52 122.95h1v1h-1zM104.02 126.60h1v1h-1zM100.52 129.95h1v1h-1zM104.02 133.60h1v1h-1zM100.52 136.95h1v1h-1zM104.02 140.60h1v1h-1zM100.52 143.95h1v1h-1zM104.02 147.60h1v1h-1zM100.52 150.95h1v1h-1zM104.02 154.60h1v1h-1zM100.52 157.95h1v1h-1zM104.02 161.60h1v1h-1zM100.52 164.95h1v1h-1zM104.02 168.60h1v1h-1zM100.52 171.95h1v1h-1zM104.02 175.60h1v1h-1zM100.52 178.95h1v1h-1zM104.02 182.60h1v1h-1zM100.52 185.95h1v1h-1zM104.02 189.60h1v1h-1zM100.52 192.95h1v1h-1zM104.02 196.60h1v1h-1zM111.03 0.60h1v1h-1zM107.53 3.95h1v1h-1zM111.03 7.60h1v1h-1zM107.53 10.95h1v1h-1zM111.03 14.60h1v1h-1zM107.53 17.95h1v1h-1zM111.03 21.60h1v1h-1zM107.53 24.95h1v1h-1zM111.03 28.60h1v1h-1zM107.53 31.95h1v1h-1zM111.03 35.60h1v1h-1zM107.53 38.95h1v1h-1zM111.03 42.60h1v1h-1zM107.53 45.95h1v1h-1zM111.03 49.60h1v1h-1zM107.53 52.95h1v1h-1zM111.03 56.60h1v1h-1zM107.53 59.95h1v1h-1zM111.03 63.60h1v1h-1zM107.53 66.95h1v1h-1zM111.03 70.60h1v1h-1zM107.53 73.95h1v1h-1zM111.03 77.60h1v1h-1zM107.53 80.95h1v1h-1zM111.03 84.60h1v1h-1zM107.53 87.95h1v1h-1zM111.03 91.60h1v1h-1zM107.53 94.95h1v1h-1zM111.03 98.60h1v1h-1zM107.53 101.95h1v1h-1zM111.03 105.60h1v1h-1zM107.53 108.95h1v1h-1zM111.03 112.60h1v1h-1zM107.53 115.95h1v1h-1zM111.03 119.60h1v1h-1zM107.53 122.95h1v1h-1zM111.03 126.60h1v1h-1zM107.53 129.95h1v1h-1zM111.03 133.60h1v1h-1zM107.53 136.95h1v1h-1zM111.03 140.60h1v1h-1zM107.53 143.95h1v1h-1zM111.03 147.60h1v1h-1zM107.53 150.95h1v1h-1zM111.03 154.60h1v1h-1zM107.53 157.95h1v1h-1zM111.03 161.60h1v1h-1zM107.53 164.95h1v1h-1zM111.03 168.60h1v1h-1zM107.53 171.95h1v1h-1zM111.03 175.60h1v1h-1zM107.53 178.95h1v1h-1zM111.03 182.60h1v1h-1zM107.53 185.95h1v1h-1zM111.03 189.60h1v1h-1zM107.53 192.95h1v1h-1zM118.04 0.60h1v1h-1zM114.54 3.95h1v1h-1zM118.04 7.60h1v1h-1zM114.54 10.95h1v1h-1zM118.04 14.60h1v1h-1zM114.54 17.95h1v1h-1zM118.04 21.60h1v1h-1zM114.54 24.95h1v1h-1zM118.04 28.60h1v1h-1zM114.54 31.95h1v1h-1zM118.04 35.60h1v1h-1zM114.54 38.95h1v1h-1zM118.04 42.60h1v1h-1zM114.54 45.95h1v1h-1zM118.04 49.60h1v1h-1zM114.54 52.95h1v1h-1zM118.04 56.60h1v1h-1zM114.54 59.95h1v1h-1zM118.04 63.60h1v1h-1zM114.54 66.95h1v1h-1zM118.04 70.60h1v1h-1zM114.54 73.95h1v1h-1zM118.04 77.60h1v1h-1zM114.54 80.95h1v1h-1zM118.04 84.60h1v1h-1zM114.54 87.95h1v1h-1zM118.04 91.60h1v1h-1zM114.54 94.95h1v1h-1zM118.04 98.60h1v1h-1zM114.54 101.95h1v1h-1zM118.04 105.60h1v1h-1zM114.54 108.95h1v1h-1zM118.04 112.60h1v1h-1zM114.54 115.95h1v1h-1zM118.04 119.60h1v1h-1zM114.54 122.95h1v1h-1zM118.04 126.60h1v1h-1zM114.54 129.95h1v1h-1zM118.04 133.60h1v1h-1zM114.54 136.95h1v1h-1zM118.04 140.60h1v1h-1zM114.54 143.95h1v1h-1zM118.04 147.60h1v1h-1zM114.54 150.95h1v1h-1zM118.04 154.60h1v1h-1zM114.54 157.95h1v1h-1zM118.04 161.60h1v1h-1zM114.54 164.95h1v1h-1zM118.04 168.60h1v1h-1zM114.54 171.95h1v1h-1zM118.04 175.60h1v1h-1zM114.54 178.95h1v1h-1zM118.04 182.60h1v1h-1zM114.54 185.95h1v1h-1zM118.04 189.60h1v1h-1zM114.54 192.95h1v1h-1zM125.05 0.60h1v1h-1zM121.55 3.95h1v1h-1zM125.05 7.60h1v1h-1zM121.55 10.95h1v1h-1zM125.05 14.60h1v1h-1zM121.55 17.95h1v1h-1zM125.05 21.60h1v1h-1zM121.55 24.95h1v1h-1zM125.05 28.60h1v1h-1zM121.55 31.95h1v1h-1zM125.05 35.60h1v1h-1zM121.55 38.95h1v1h-1zM125.05 42.60h1v1h-1zM121.55 45.95h1v1h-1zM125.05 49.60h1v1h-1zM121.55 52.95h1v1h-1zM125.05 56.60h1v1h-1zM121.55 59.95h1v1h-1zM125.05 63.60h1v1h-1zM121.55 66.95h1v1h-1zM125.05 70.60h1v1h-1zM121.55 73.95h1v1h-1zM125.05 77.60h1v1h-1zM121.55 80.95h1v1h-1zM125.05 84.60h1v1h-1zM121.55 87.95h1v1h-1zM125.05 91.60h1v1h-1zM121.55 94.95h1v1h-1zM125.05 98.60h1v1h-1zM121.55 101.95h1v1h-1zM125.05 105.60h1v1h-1zM121.55 108.95h1v1h-1zM125.05 112.60h1v1h-1zM121.55 115.95h1v1h-1zM125.05 119.60h1v1h-1zM121.55 122.95h1v1h-1zM125.05 126.60h1v1h-1zM121.55 129.95h1v1h-1zM125.05 133.60h1v1h-1zM121.55 136.95h1v1h-1zM125.05 140.60h1v1h-1zM121.55 143.95h1v1h-1zM125.05 147.60h1v1h-1zM121.55 150.95h1v1h-1zM125.05 154.60h1v1h-1zM121.55 157.95h1v1h-1zM125.05 161.60h1v1h-1zM121.55 164.95h1v1h-1zM125.05 168.60h1v1h-1zM121.55 171.95h1v1h-1zM125.05 175.60h1v1h-1zM121.55 178.95h1v1h-1zM125.05 182.60h1v1h-1zM121.55 185.95h1v1h-1zM125.05 189.60h1v1h-1zM121.55 192.95h1v1h-1zM132.06 0.60h1v1h-1zM128.56 3.95h1v1h-1zM132.06 7.60h1v1h-1zM128.56 10.95h1v1h-1zM132.06 14.60h1v1h-1zM128.56 17.95h1v1h-1zM132.06 21.60h1v1h-1zM128.56 24.95h1v1h-1zM132.06 28.60h1v1h-1zM128.56 31.95h1v1h-1zM132.06 35.60h1v1h-1zM128.56 38.95h1v1h-1zM132.06 42.60h1v1h-1zM128.56 45.95h1v1h-1zM132.06 49.60h1v1h-1zM128.56 52.95h1v1h-1zM132.06 56.60h1v1h-1zM128.56 59.95h1v1h-1zM132.06 63.60h1v1h-1zM128.56 66.95h1v1h-1zM132.06 70.60h1v1h-1zM128.56 73.95h1v1h-1zM132.06 77.60h1v1h-1zM128.56 80.95h1v1h-1zM132.06 84.60h1v1h-1zM128.56 87.95h1v1h-1zM132.06 91.60h1v1h-1zM128.56 94.95h1v1h-1zM132.06 98.60h1v1h-1zM128.56 101.95h1v1h-1zM132.06 105.60h1v1h-1zM128.56 108.95h1v1h-1zM132.06 112.60h1v1h-1zM128.56 115.95h1v1h-1zM132.06 119.60h1v1h-1zM128.56 122.95h1v1h-1zM132.06 126.60h1v1h-1zM128.56 129.95h1v1h-1zM132.06 133.60h1v1h-1zM128.56 136.95h1v1h-1zM132.06 140.60h1v1h-1zM128.56 143.95h1v1h-1zM132.06 147.60h1v1h-1zM128.56 150.95h1v1h-1zM132.06 154.60h1v1h-1zM128.56 157.95h1v1h-1zM132.06 161.60h1v1h-1zM128.56 164.95h1v1h-1zM132.06 168.60h1v1h-1zM128.56 171.95h1v1h-1zM132.06 175.60h1v1h-1zM128.56 178.95h1v1h-1zM132.06 182.60h1v1h-1zM128.56 185.95h1v1h-1zM132.06 189.60h1v1h-1zM139.06 0.60h1v1h-1zM135.56 3.95h1v1h-1zM139.06 7.60h1v1h-1zM135.56 10.95h1v1h-1zM139.06 14.60h1v1h-1zM135.56 17.95h1v1h-1zM139.06 21.60h1v1h-1zM135.56 24.95h1v1h-1zM139.06 28.60h1v1h-1zM135.56 31.95h1v1h-1zM139.06 35.60h1v1h-1zM135.56 38.95h1v1h-1zM139.06 42.60h1v1h-1zM135.56 45.95h1v1h-1zM139.06 49.60h1v1h-1zM135.56 52.95h1v1h-1zM139.06 56.60h1v1h-1zM135.56 59.95h1v1h-1zM139.06 63.60h1v1h-1zM135.56 66.95h1v1h-1zM139.06 70.60h1v1h-1zM135.56 73.95h1v1h-1zM139.06 77.60h1v1h-1zM135.56 80.95h1v1h-1zM139.06 84.60h1v1h-1zM135.56 87.95h1v1h-1zM139.06 91.60h1v1h-1zM135.56 94.95h1v1h-1zM139.06 98.60h1v1h-1zM135.56 101.95h1v1h-1zM139.06 105.60h1v1h-1zM135.56 108.95h1v1h-1zM139.06 112.60h1v1h-1zM135.56 115.95h1v1h-1zM139.06 119.60h1v1h-1zM135.56 122.95h1v1h-1zM139.06 126.60h1v1h-1zM135.56 129.95h1v1h-1zM139.06 133.60h1v1h-1zM135.56 136.95h1v1h-1zM139.06 140.60h1v1h-1zM135.56 143.95h1v1h-1zM139.06 147.60h1v1h-1zM135.56 150.95h1v1h-1zM139.06 154.60h1v1h-1zM135.56 157.95h1v1h-1zM139.06 161.60h1v1h-1zM135.56 164.95h1v1h-1zM139.06 168.60h1v1h-1zM135.56 171.95h1v1h-1zM139.06 175.60h1v1h-1zM135.56 178.95h1v1h-1zM139.06 182.60h1v1h-1zM135.56 185.95h1v1h-1zM146.07 0.60h1v1h-1zM142.57 3.95h1v1h-1zM146.07 7.60h1v1h-1zM142.57 10.95h1v1h-1zM146.07 14.60h1v1h-1zM142.57 17.95h1v1h-1zM146.07 21.60h1v1h-1zM142.57 24.95h1v1h-1zM146.07 28.60h1v1h-1zM142.57 31.95h1v1h-1zM146.07 35.60h1v1h-1zM142.57 38.95h1v1h-1zM146.07 42.60h1v1h-1zM142.57 45.95h1v1h-1zM146.07 49.60h1v1h-1zM142.57 52.95h1v1h-1zM146.07 56.60h1v1h-1zM142.57 59.95h1v1h-1zM146.07 63.60h1v1h-1zM142.57 66.95h1v1h-1zM146.07 70.60h1v1h-1zM142.57 73.95h1v1h-1zM146.07 77.60h1v1h-1zM142.57 80.95h1v1h-1zM146.07 84.60h1v1h-1zM142.57 87.95h1v1h-1zM146.07 91.60h1v1h-1zM142.57 94.95h1v1h-1zM146.07 98.60h1v1h-1zM142.57 101.95h1v1h-1zM146.07 105.60h1v1h-1zM142.57 108.95h1v1h-1zM146.07 112.60h1v1h-1zM142.57 115.95h1v1h-1zM146.07 119.60h1v1h-1zM142.57 122.95h1v1h-1zM146.07 126.60h1v1h-1zM142.57 129.95h1v1h-1zM146.07 133.60h1v1h-1zM142.57 136.95h1v1h-1zM146.07 140.60h1v1h-1zM142.57 143.95h1v1h-1zM146.07 147.60h1v1h-1zM142.57 150.95h1v1h-1zM146.07 154.60h1v1h-1zM142.57 157.95h1v1h-1zM146.07 161.60h1v1h-1zM142.57 164.95h1v1h-1zM146.07 168.60h1v1h-1zM142.57 171.95h1v1h-1zM146.07 175.60h1v1h-1zM142.57 178.95h1v1h-1zM146.07 182.60h1v1h-1zM142.57 185.95h1v1h-1zM153.08 0.60h1v1h-1zM149.58 3.95h1v1h-1zM153.08 7.60h1v1h-1zM149.58 10.95h1v1h-1zM153.08 14.60h1v1h-1zM149.58 17.95h1v1h-1zM153.08 21.60h1v1h-1zM149.58 24.95h1v1h-1zM153.08 28.60h1v1h-1zM149.58 31.95h1v1h-1zM153.08 35.60h1v1h-1zM149.58 38.95h1v1h-1zM153.08 42.60h1v1h-1zM149.58 45.95h1v1h-1zM153.08 49.60h1v1h-1zM149.58 52.95h1v1h-1zM153.08 56.60h1v1h-1zM149.58 59.95h1v1h-1zM153.08 63.60h1v1h-1zM149.58 66.95h1v1h-1zM153.08 70.60h1v1h-1zM149.58 73.95h1v1h-1zM153.08 77.60h1v1h-1zM149.58 80.95h1v1h-1zM153.08 84.60h1v1h-1zM149.58 87.95h1v1h-1zM153.08 91.60h1v1h-1zM149.58 94.95h1v1h-1zM153.08 98.60h1v1h-1zM149.58 101.95h1v1h-1zM153.08 105.60h1v1h-1zM149.58 108.95h1v1h-1zM153.08 112.60h1v1h-1zM149.58 115.95h1v1h-1zM153.08 119.60h1v1h-1zM149.58 122.95h1v1h-1zM153.08 126.60h1v1h-1zM149.58 129.95h1v1h-1zM153.08 133.60h1v1h-1zM149.58 136.95h1v1h-1zM153.08 140.60h1v1h-1zM149.58 143.95h1v1h-1zM153.08 147.60h1v1h-1zM149.58 150.95h1v1h-1zM153.08 154.60h1v1h-1zM149.58 157.95h1v1h-1zM153.08 161.60h1v1h-1zM149.58 164.95h1v1h-1zM153.08 168.60h1v1h-1zM149.58 171.95h1v1h-1zM153.08 175.60h1v1h-1zM149.58 178.95h1v1h-1zM153.08 182.60h1v1h-1zM160.09 0.60h1v1h-1zM156.59 3.95h1v1h-1zM160.09 7.60h1v1h-1zM156.59 10.95h1v1h-1zM160.09 14.60h1v1h-1zM156.59 17.95h1v1h-1zM160.09 21.60h1v1h-1zM156.59 24.95h1v1h-1zM160.09 28.60h1v1h-1zM156.59 31.95h1v1h-1zM160.09 35.60h1v1h-1zM156.59 38.95h1v1h-1zM160.09 42.60h1v1h-1zM156.59 45.95h1v1h-1zM160.09 49.60h1v1h-1zM156.59 52.95h1v1h-1zM160.09 56.60h1v1h-1zM156.59 59.95h1v1h-1zM160.09 63.60h1v1h-1zM156.59 66.95h1v1h-1zM160.09 70.60h1v1h-1zM156.59 73.95h1v1h-1zM160.09 77.60h1v1h-1zM156.59 80.95h1v1h-1zM160.09 84.60h1v1h-1zM156.59 87.95h1v1h-1zM160.09 91.60h1v1h-1zM156.59 94.95h1v1h-1zM160.09 98.60h1v1h-1zM156.59 101.95h1v1h-1zM160.09 105.60h1v1h-1zM156.59 108.95h1v1h-1zM160.09 112.60h1v1h-1zM156.59 115.95h1v1h-1zM160.09 119.60h1v1h-1zM156.59 122.95h1v1h-1zM160.09 126.60h1v1h-1zM156.59 129.95h1v1h-1zM160.09 133.60h1v1h-1zM156.59 136.95h1v1h-1zM160.09 140.60h1v1h-1zM156.59 143.95h1v1h-1zM160.09 147.60h1v1h-1zM156.59 150.95h1v1h-1zM160.09 154.60h1v1h-1zM156.59 157.95h1v1h-1zM160.09 161.60h1v1h-1zM156.59 164.95h1v1h-1zM160.09 168.60h1v1h-1zM156.59 171.95h1v1h-1zM160.09 175.60h1v1h-1zM156.59 178.95h1v1h-1zM160.09 182.60h1v1h-1zM167.10 0.60h1v1h-1zM163.60 3.95h1v1h-1zM167.10 7.60h1v1h-1zM163.60 10.95h1v1h-1zM167.10 14.60h1v1h-1zM163.60 17.95h1v1h-1zM167.10 21.60h1v1h-1zM163.60 24.95h1v1h-1zM167.10 28.60h1v1h-1zM163.60 31.95h1v1h-1zM167.10 35.60h1v1h-1zM163.60 38.95h1v1h-1zM167.10 42.60h1v1h-1zM163.60 45.95h1v1h-1zM167.10 49.60h1v1h-1zM163.60 52.95h1v1h-1zM167.10 56.60h1v1h-1zM163.60 59.95h1v1h-1zM167.10 63.60h1v1h-1zM163.60 66.95h1v1h-1zM167.10 70.60h1v1h-1zM163.60 73.95h1v1h-1zM167.10 77.60h1v1h-1zM163.60 80.95h1v1h-1zM167.10 84.60h1v1h-1zM163.60 87.95h1v1h-1zM167.10 91.60h1v1h-1zM163.60 94.95h1v1h-1zM167.10 98.60h1v1h-1zM163.60 101.95h1v1h-1zM167.10 105.60h1v1h-1zM163.60 108.95h1v1h-1zM167.10 112.60h1v1h-1zM163.60 115.95h1v1h-1zM167.10 119.60h1v1h-1zM163.60 122.95h1v1h-1zM167.10 126.60h1v1h-1zM163.60 129.95h1v1h-1zM167.10 133.60h1v1h-1zM163.60 136.95h1v1h-1zM167.10 140.60h1v1h-1zM163.60 143.95h1v1h-1zM167.10 147.60h1v1h-1zM163.60 150.95h1v1h-1zM167.10 154.60h1v1h-1zM163.60 157.95h1v1h-1zM167.10 161.60h1v1h-1zM163.60 164.95h1v1h-1zM167.10 168.60h1v1h-1zM163.60 171.95h1v1h-1zM167.10 175.60h1v1h-1zM163.60 178.95h1v1h-1zM174.10 0.60h1v1h-1zM170.60 3.95h1v1h-1zM174.10 7.60h1v1h-1zM170.60 10.95h1v1h-1zM174.10 14.60h1v1h-1zM170.60 17.95h1v1h-1zM174.10 21.60h1v1h-1zM170.60 24.95h1v1h-1zM174.10 28.60h1v1h-1zM170.60 31.95h1v1h-1zM174.10 35.60h1v1h-1zM170.60 38.95h1v1h-1zM174.10 42.60h1v1h-1zM170.60 45.95h1v1h-1zM174.10 49.60h1v1h-1zM170.60 52.95h1v1h-1zM174.10 56.60h1v1h-1zM170.60 59.95h1v1h-1zM174.10 63.60h1v1h-1zM170.60 66.95h1v1h-1zM174.10 70.60h1v1h-1zM170.60 73.95h1v1h-1zM174.10 77.60h1v1h-1zM170.60 80.95h1v1h-1zM174.10 84.60h1v1h-1zM170.60 87.95h1v1h-1zM174.10 91.60h1v1h-1zM170.60 94.95h1v1h-1zM174.10 98.60h1v1h-1zM170.60 101.95h1v1h-1zM174.10 105.60h1v1h-1zM170.60 108.95h1v1h-1zM174.10 112.60h1v1h-1zM170.60 115.95h1v1h-1zM174.10 119.60h1v1h-1zM170.60 122.95h1v1h-1zM174.10 126.60h1v1h-1zM170.60 129.95h1v1h-1zM174.10 133.60h1v1h-1zM170.60 136.95h1v1h-1zM174.10 140.60h1v1h-1zM170.60 143.95h1v1h-1zM174.10 147.60h1v1h-1zM170.60 150.95h1v1h-1zM174.10 154.60h1v1h-1zM170.60 157.95h1v1h-1zM174.10 161.60h1v1h-1zM170.60 164.95h1v1h-1zM174.10 168.60h1v1h-1zM170.60 171.95h1v1h-1zM174.10 175.60h1v1h-1zM170.60 178.95h1v1h-1zM181.11 0.60h1v1h-1zM177.61 3.95h1v1h-1zM181.11 7.60h1v1h-1zM177.61 10.95h1v1h-1zM181.11 14.60h1v1h-1zM177.61 17.95h1v1h-1zM181.11 21.60h1v1h-1zM177.61 24.95h1v1h-1zM181.11 28.60h1v1h-1zM177.61 31.95h1v1h-1zM181.11 35.60h1v1h-1zM177.61 38.95h1v1h-1zM181.11 42.60h1v1h-1zM177.61 45.95h1v1h-1zM181.11 49.60h1v1h-1zM177.61 52.95h1v1h-1zM181.11 56.60h1v1h-1zM177.61 59.95h1v1h-1zM181.11 63.60h1v1h-1zM177.61 66.95h1v1h-1zM181.11 70.60h1v1h-1zM177.61 73.95h1v1h-1zM181.11 77.60h1v1h-1zM177.61 80.95h1v1h-1zM181.11 84.60h1v1h-1zM177.61 87.95h1v1h-1zM181.11 91.60h1v1h-1zM177.61 94.95h1v1h-1zM181.11 98.60h1v1h-1zM177.61 101.95h1v1h-1zM181.11 105.60h1v1h-1zM177.61 108.95h1v1h-1zM181.11 112.60h1v1h-1zM177.61 115.95h1v1h-1zM181.11 119.60h1v1h-1zM177.61 122.95h1v1h-1zM181.11 126.60h1v1h-1zM177.61 129.95h1v1h-1zM181.11 133.60h1v1h-1zM177.61 136.95h1v1h-1zM181.11 140.60h1v1h-1zM177.61 143.95h1v1h-1zM181.11 147.60h1v1h-1zM177.61 150.95h1v1h-1zM181.11 154.60h1v1h-1zM177.61 157.95h1v1h-1zM181.11 161.60h1v1h-1zM177.61 164.95h1v1h-1zM181.11 168.60h1v1h-1zM177.61 171.95h1v1h-1zM181.11 175.60h1v1h-1zM188.12 0.60h1v1h-1zM184.62 3.95h1v1h-1zM188.12 7.60h1v1h-1zM184.62 10.95h1v1h-1zM188.12 14.60h1v1h-1zM184.62 17.95h1v1h-1zM188.12 21.60h1v1h-1zM184.62 24.95h1v1h-1zM188.12 28.60h1v1h-1zM184.62 31.95h1v1h-1zM188.12 35.60h1v1h-1zM184.62 38.95h1v1h-1zM188.12 42.60h1v1h-1zM184.62 45.95h1v1h-1zM188.12 49.60h1v1h-1zM184.62 52.95h1v1h-1zM188.12 56.60h1v1h-1zM184.62 59.95h1v1h-1zM188.12 63.60h1v1h-1zM184.62 66.95h1v1h-1zM188.12 70.60h1v1h-1zM184.62 73.95h1v1h-1zM188.12 77.60h1v1h-1zM184.62 80.95h1v1h-1zM188.12 84.60h1v1h-1zM184.62 87.95h1v1h-1zM188.12 91.60h1v1h-1zM184.62 94.95h1v1h-1zM188.12 98.60h1v1h-1zM184.62 101.95h1v1h-1zM188.12 105.60h1v1h-1zM184.62 108.95h1v1h-1zM188.12 112.60h1v1h-1zM184.62 115.95h1v1h-1zM188.12 119.60h1v1h-1zM184.62 122.95h1v1h-1zM188.12 126.60h1v1h-1zM184.62 129.95h1v1h-1zM188.12 133.60h1v1h-1zM184.62 136.95h1v1h-1zM188.12 140.60h1v1h-1zM184.62 143.95h1v1h-1zM188.12 147.60h1v1h-1zM184.62 150.95h1v1h-1zM188.12 154.60h1v1h-1zM184.62 157.95h1v1h-1zM188.12 161.60h1v1h-1zM184.62 164.95h1v1h-1zM188.12 168.60h1v1h-1zM184.62 171.95h1v1h-1zM195.13 0.60h1v1h-1zM191.63 3.95h1v1h-1zM195.13 7.60h1v1h-1zM191.63 10.95h1v1h-1zM195.13 14.60h1v1h-1zM191.63 17.95h1v1h-1zM195.13 21.60h1v1h-1zM191.63 24.95h1v1h-1zM195.13 28.60h1v1h-1zM191.63 31.95h1v1h-1zM195.13 35.60h1v1h-1zM191.63 38.95h1v1h-1zM195.13 42.60h1v1h-1zM191.63 45.95h1v1h-1zM195.13 49.60h1v1h-1zM191.63 52.95h1v1h-1zM195.13 56.60h1v1h-1zM191.63 59.95h1v1h-1zM195.13 63.60h1v1h-1zM191.63 66.95h1v1h-1zM195.13 70.60h1v1h-1zM191.63 73.95h1v1h-1zM195.13 77.60h1v1h-1zM191.63 80.95h1v1h-1zM195.13 84.60h1v1h-1zM191.63 87.95h1v1h-1zM195.13 91.60h1v1h-1zM191.63 94.95h1v1h-1zM195.13 98.60h1v1h-1zM191.63 101.95h1v1h-1zM195.13 105.60h1v1h-1zM191.63 108.95h1v1h-1zM195.13 112.60h1v1h-1zM191.63 115.95h1v1h-1zM195.13 119.60h1v1h-1zM191.63 122.95h1v1h-1zM195.13 126.60h1v1h-1zM191.63 129.95h1v1h-1zM195.13 133.60h1v1h-1zM191.63 136.95h1v1h-1zM195.13 140.60h1v1h-1zM191.63 143.95h1v1h-1zM195.13 147.60h1v1h-1zM191.63 150.95h1v1h-1zM195.13 154.60h1v1h-1zM191.63 157.95h1v1h-1zM195.13 161.60h1v1h-1zM191.63 164.95h1v1h-1zM195.13 168.60h1v1h-1zM191.63 171.95h1v1h-1zM202.14 0.60h1v1h-1zM198.64 3.95h1v1h-1zM202.14 7.60h1v1h-1zM198.64 10.95h1v1h-1zM202.14 14.60h1v1h-1zM198.64 17.95h1v1h-1zM202.14 21.60h1v1h-1zM198.64 24.95h1v1h-1zM202.14 28.60h1v1h-1zM198.64 31.95h1v1h-1zM202.14 35.60h1v1h-1zM198.64 38.95h1v1h-1zM202.14 42.60h1v1h-1zM198.64 45.95h1v1h-1zM202.14 49.60h1v1h-1zM198.64 52.95h1v1h-1zM202.14 56.60h1v1h-1zM198.64 59.95h1v1h-1zM202.14 63.60h1v1h-1zM198.64 66.95h1v1h-1zM202.14 70.60h1v1h-1zM198.64 73.95h1v1h-1zM202.14 77.60h1v1h-1zM198.64 80.95h1v1h-1zM202.14 84.60h1v1h-1zM198.64 87.95h1v1h-1zM202.14 91.60h1v1h-1zM198.64 94.95h1v1h-1zM202.14 98.60h1v1h-1zM198.64 101.95h1v1h-1zM202.14 105.60h1v1h-1zM198.64 108.95h1v1h-1zM202.14 112.60h1v1h-1zM198.64 115.95h1v1h-1zM202.14 119.60h1v1h-1zM198.64 122.95h1v1h-1zM202.14 126.60h1v1h-1zM198.64 129.95h1v1h-1zM202.14 133.60h1v1h-1zM198.64 136.95h1v1h-1zM202.14 140.60h1v1h-1zM198.64 143.95h1v1h-1zM202.14 147.60h1v1h-1zM198.64 150.95h1v1h-1zM202.14 154.60h1v1h-1zM198.64 157.95h1v1h-1zM202.14 161.60h1v1h-1zM198.64 164.95h1v1h-1zM202.14 168.60h1v1h-1zM198.64 171.95h1v1h-1zM209.14 0.60h1v1h-1zM205.64 3.95h1v1h-1zM209.14 7.60h1v1h-1zM205.64 10.95h1v1h-1zM209.14 14.60h1v1h-1zM205.64 17.95h1v1h-1zM209.14 21.60h1v1h-1zM205.64 24.95h1v1h-1zM209.14 28.60h1v1h-1zM205.64 31.95h1v1h-1zM209.14 35.60h1v1h-1zM205.64 38.95h1v1h-1zM209.14 42.60h1v1h-1zM205.64 45.95h1v1h-1zM209.14 49.60h1v1h-1zM205.64 52.95h1v1h-1zM209.14 56.60h1v1h-1zM205.64 59.95h1v1h-1zM209.14 63.60h1v1h-1zM205.64 66.95h1v1h-1zM209.14 70.60h1v1h-1zM205.64 73.95h1v1h-1zM209.14 77.60h1v1h-1zM205.64 80.95h1v1h-1zM209.14 84.60h1v1h-1zM205.64 87.95h1v1h-1zM209.14 91.60h1v1h-1zM205.64 94.95h1v1h-1zM209.14 98.60h1v1h-1zM205.64 101.95h1v1h-1zM209.14 105.60h1v1h-1zM205.64 108.95h1v1h-1zM209.14 112.60h1v1h-1zM205.64 115.95h1v1h-1zM209.14 119.60h1v1h-1zM205.64 122.95h1v1h-1zM209.14 126.60h1v1h-1zM205.64 129.95h1v1h-1zM209.14 133.60h1v1h-1zM205.64 136.95h1v1h-1zM209.14 140.60h1v1h-1zM205.64 143.95h1v1h-1zM209.14 147.60h1v1h-1zM205.64 150.95h1v1h-1zM209.14 154.60h1v1h-1zM205.64 157.95h1v1h-1zM209.14 161.60h1v1h-1zM205.64 164.95h1v1h-1zM209.14 168.60h1v1h-1zM216.15 0.60h1v1h-1zM212.65 3.95h1v1h-1zM216.15 7.60h1v1h-1zM212.65 10.95h1v1h-1zM216.15 14.60h1v1h-1zM212.65 17.95h1v1h-1zM216.15 21.60h1v1h-1zM212.65 24.95h1v1h-1zM216.15 28.60h1v1h-1zM212.65 31.95h1v1h-1zM216.15 35.60h1v1h-1zM212.65 38.95h1v1h-1zM216.15 42.60h1v1h-1zM212.65 45.95h1v1h-1zM216.15 49.60h1v1h-1zM212.65 52.95h1v1h-1zM216.15 56.60h1v1h-1zM212.65 59.95h1v1h-1zM216.15 63.60h1v1h-1zM212.65 66.95h1v1h-1zM216.15 70.60h1v1h-1zM212.65 73.95h1v1h-1zM216.15 77.60h1v1h-1zM212.65 80.95h1v1h-1zM216.15 84.60h1v1h-1zM212.65 87.95h1v1h-1zM216.15 91.60h1v1h-1zM212.65 94.95h1v1h-1zM216.15 98.60h1v1h-1zM212.65 101.95h1v1h-1zM216.15 105.60h1v1h-1zM212.65 108.95h1v1h-1zM216.15 112.60h1v1h-1zM212.65 115.95h1v1h-1zM216.15 119.60h1v1h-1zM212.65 122.95h1v1h-1zM216.15 126.60h1v1h-1zM212.65 129.95h1v1h-1zM216.15 133.60h1v1h-1zM212.65 136.95h1v1h-1zM216.15 140.60h1v1h-1zM212.65 143.95h1v1h-1zM216.15 147.60h1v1h-1zM212.65 150.95h1v1h-1zM216.15 154.60h1v1h-1zM212.65 157.95h1v1h-1zM216.15 161.60h1v1h-1zM212.65 164.95h1v1h-1zM223.16 0.60h1v1h-1zM219.66 3.95h1v1h-1zM223.16 7.60h1v1h-1zM219.66 10.95h1v1h-1zM223.16 14.60h1v1h-1zM219.66 17.95h1v1h-1zM223.16 21.60h1v1h-1zM219.66 24.95h1v1h-1zM223.16 28.60h1v1h-1zM219.66 31.95h1v1h-1zM223.16 35.60h1v1h-1zM219.66 38.95h1v1h-1zM223.16 42.60h1v1h-1zM219.66 45.95h1v1h-1zM223.16 49.60h1v1h-1zM219.66 52.95h1v1h-1zM223.16 56.60h1v1h-1zM219.66 59.95h1v1h-1zM223.16 63.60h1v1h-1zM219.66 66.95h1v1h-1zM223.16 70.60h1v1h-1zM219.66 73.95h1v1h-1zM223.16 77.60h1v1h-1zM219.66 80.95h1v1h-1zM223.16 84.60h1v1h-1zM219.66 87.95h1v1h-1zM223.16 91.60h1v1h-1zM219.66 94.95h1v1h-1zM223.16 98.60h1v1h-1zM219.66 101.95h1v1h-1zM223.16 105.60h1v1h-1zM219.66 108.95h1v1h-1zM223.16 112.60h1v1h-1zM219.66 115.95h1v1h-1zM223.16 119.60h1v1h-1zM219.66 122.95h1v1h-1zM223.16 126.60h1v1h-1zM219.66 129.95h1v1h-1zM223.16 133.60h1v1h-1zM219.66 136.95h1v1h-1zM223.16 140.60h1v1h-1zM219.66 143.95h1v1h-1zM223.16 147.60h1v1h-1zM219.66 150.95h1v1h-1zM223.16 154.60h1v1h-1zM219.66 157.95h1v1h-1zM223.16 161.60h1v1h-1zM219.66 164.95h1v1h-1zM230.17 0.60h1v1h-1zM226.67 3.95h1v1h-1zM230.17 7.60h1v1h-1zM226.67 10.95h1v1h-1zM230.17 14.60h1v1h-1zM226.67 17.95h1v1h-1zM230.17 21.60h1v1h-1zM226.67 24.95h1v1h-1zM230.17 28.60h1v1h-1zM226.67 31.95h1v1h-1zM230.17 35.60h1v1h-1zM226.67 38.95h1v1h-1zM230.17 42.60h1v1h-1zM226.67 45.95h1v1h-1zM230.17 49.60h1v1h-1zM226.67 52.95h1v1h-1zM230.17 56.60h1v1h-1zM226.67 59.95h1v1h-1zM230.17 63.60h1v1h-1zM226.67 66.95h1v1h-1zM230.17 70.60h1v1h-1zM226.67 73.95h1v1h-1zM230.17 77.60h1v1h-1zM226.67 80.95h1v1h-1zM230.17 84.60h1v1h-1zM226.67 87.95h1v1h-1zM230.17 91.60h1v1h-1zM226.67 94.95h1v1h-1zM230.17 98.60h1v1h-1zM226.67 101.95h1v1h-1zM230.17 105.60h1v1h-1zM226.67 108.95h1v1h-1zM230.17 112.60h1v1h-1zM226.67 115.95h1v1h-1zM230.17 119.60h1v1h-1zM226.67 122.95h1v1h-1zM230.17 126.60h1v1h-1zM226.67 129.95h1v1h-1zM230.17 133.60h1v1h-1zM226.67 136.95h1v1h-1zM230.17 140.60h1v1h-1zM226.67 143.95h1v1h-1zM230.17 147.60h1v1h-1zM226.67 150.95h1v1h-1zM230.17 154.60h1v1h-1zM226.67 157.95h1v1h-1zM230.17 161.60h1v1h-1zM226.67 164.95h1v1h-1zM237.18 0.60h1v1h-1zM233.68 3.95h1v1h-1zM237.18 7.60h1v1h-1zM233.68 10.95h1v1h-1zM237.18 14.60h1v1h-1zM233.68 17.95h1v1h-1zM237.18 21.60h1v1h-1zM233.68 24.95h1v1h-1zM237.18 28.60h1v1h-1zM233.68 31.95h1v1h-1zM237.18 35.60h1v1h-1zM233.68 38.95h1v1h-1zM237.18 42.60h1v1h-1zM233.68 45.95h1v1h-1zM237.18 49.60h1v1h-1zM233.68 52.95h1v1h-1zM237.18 56.60h1v1h-1zM233.68 59.95h1v1h-1zM237.18 63.60h1v1h-1zM233.68 66.95h1v1h-1zM237.18 70.60h1v1h-1zM233.68 73.95h1v1h-1zM237.18 77.60h1v1h-1zM233.68 80.95h1v1h-1zM237.18 84.60h1v1h-1zM233.68 87.95h1v1h-1zM237.18 91.60h1v1h-1zM233.68 94.95h1v1h-1zM237.18 98.60h1v1h-1zM233.68 101.95h1v1h-1zM237.18 105.60h1v1h-1zM233.68 108.95h1v1h-1zM237.18 112.60h1v1h-1zM233.68 115.95h1v1h-1zM237.18 119.60h1v1h-1zM233.68 122.95h1v1h-1zM237.18 126.60h1v1h-1zM233.68 129.95h1v1h-1zM237.18 133.60h1v1h-1zM233.68 136.95h1v1h-1zM237.18 140.60h1v1h-1zM233.68 143.95h1v1h-1zM237.18 147.60h1v1h-1zM233.68 150.95h1v1h-1zM237.18 154.60h1v1h-1zM233.68 157.95h1v1h-1zM237.18 161.60h1v1h-1zM244.18 0.60h1v1h-1zM240.68 3.95h1v1h-1zM244.18 7.60h1v1h-1zM240.68 10.95h1v1h-1zM244.18 14.60h1v1h-1zM240.68 17.95h1v1h-1zM244.18 21.60h1v1h-1zM240.68 24.95h1v1h-1zM244.18 28.60h1v1h-1zM240.68 31.95h1v1h-1zM244.18 35.60h1v1h-1zM240.68 38.95h1v1h-1zM244.18 42.60h1v1h-1zM240.68 45.95h1v1h-1zM244.18 49.60h1v1h-1zM240.68 52.95h1v1h-1zM244.18 56.60h1v1h-1zM240.68 59.95h1v1h-1zM244.18 63.60h1v1h-1zM240.68 66.95h1v1h-1zM244.18 70.60h1v1h-1zM240.68 73.95h1v1h-1zM244.18 77.60h1v1h-1zM240.68 80.95h1v1h-1zM244.18 84.60h1v1h-1zM240.68 87.95h1v1h-1zM244.18 91.60h1v1h-1zM240.68 94.95h1v1h-1zM244.18 98.60h1v1h-1zM240.68 101.95h1v1h-1zM244.18 105.60h1v1h-1zM240.68 108.95h1v1h-1zM244.18 112.60h1v1h-1zM240.68 115.95h1v1h-1zM244.18 119.60h1v1h-1zM240.68 122.95h1v1h-1zM244.18 126.60h1v1h-1zM240.68 129.95h1v1h-1zM244.18 133.60h1v1h-1zM240.68 136.95h1v1h-1zM244.18 140.60h1v1h-1zM240.68 143.95h1v1h-1zM244.18 147.60h1v1h-1zM240.68 150.95h1v1h-1zM244.18 154.60h1v1h-1zM240.68 157.95h1v1h-1zM251.19 0.60h1v1h-1zM247.69 3.95h1v1h-1zM251.19 7.60h1v1h-1zM247.69 10.95h1v1h-1zM251.19 14.60h1v1h-1zM247.69 17.95h1v1h-1zM251.19 21.60h1v1h-1zM247.69 24.95h1v1h-1zM251.19 28.60h1v1h-1zM247.69 31.95h1v1h-1zM251.19 35.60h1v1h-1zM247.69 38.95h1v1h-1zM251.19 42.60h1v1h-1zM247.69 45.95h1v1h-1zM251.19 49.60h1v1h-1zM247.69 52.95h1v1h-1zM251.19 56.60h1v1h-1zM247.69 59.95h1v1h-1zM251.19 63.60h1v1h-1zM247.69 66.95h1v1h-1zM251.19 70.60h1v1h-1zM247.69 73.95h1v1h-1zM251.19 77.60h1v1h-1zM247.69 80.95h1v1h-1zM251.19 84.60h1v1h-1zM247.69 87.95h1v1h-1zM251.19 91.60h1v1h-1zM247.69 94.95h1v1h-1zM251.19 98.60h1v1h-1zM247.69 101.95h1v1h-1zM251.19 105.60h1v1h-1zM247.69 108.95h1v1h-1zM251.19 112.60h1v1h-1zM247.69 115.95h1v1h-1zM251.19 119.60h1v1h-1zM247.69 122.95h1v1h-1zM251.19 126.60h1v1h-1zM247.69 129.95h1v1h-1zM251.19 133.60h1v1h-1zM247.69 136.95h1v1h-1zM251.19 140.60h1v1h-1zM247.69 143.95h1v1h-1zM251.19 147.60h1v1h-1zM247.69 150.95h1v1h-1zM251.19 154.60h1v1h-1zM247.69 157.95h1v1h-1zM258.20 0.60h1v1h-1zM254.70 3.95h1v1h-1zM258.20 7.60h1v1h-1zM254.70 10.95h1v1h-1zM258.20 14.60h1v1h-1zM254.70 17.95h1v1h-1zM258.20 21.60h1v1h-1zM254.70 24.95h1v1h-1zM258.20 28.60h1v1h-1zM254.70 31.95h1v1h-1zM258.20 35.60h1v1h-1zM254.70 38.95h1v1h-1zM258.20 42.60h1v1h-1zM254.70 45.95h1v1h-1zM258.20 49.60h1v1h-1zM254.70 52.95h1v1h-1zM258.20 56.60h1v1h-1zM254.70 59.95h1v1h-1zM258.20 63.60h1v1h-1zM254.70 66.95h1v1h-1zM258.20 70.60h1v1h-1zM254.70 73.95h1v1h-1zM258.20 77.60h1v1h-1zM254.70 80.95h1v1h-1zM258.20 84.60h1v1h-1zM254.70 87.95h1v1h-1zM258.20 91.60h1v1h-1zM254.70 94.95h1v1h-1zM258.20 98.60h1v1h-1zM254.70 101.95h1v1h-1zM258.20 105.60h1v1h-1zM254.70 108.95h1v1h-1zM258.20 112.60h1v1h-1zM254.70 115.95h1v1h-1zM258.20 119.60h1v1h-1zM254.70 122.95h1v1h-1zM258.20 126.60h1v1h-1zM254.70 129.95h1v1h-1zM258.20 133.60h1v1h-1zM254.70 136.95h1v1h-1zM258.20 140.60h1v1h-1zM254.70 143.95h1v1h-1zM258.20 147.60h1v1h-1zM254.70 150.95h1v1h-1zM258.20 154.60h1v1h-1zM265.21 0.60h1v1h-1zM261.71 3.95h1v1h-1zM265.21 7.60h1v1h-1zM261.71 10.95h1v1h-1zM265.21 14.60h1v1h-1zM261.71 17.95h1v1h-1zM265.21 21.60h1v1h-1zM261.71 24.95h1v1h-1zM265.21 28.60h1v1h-1zM261.71 31.95h1v1h-1zM265.21 35.60h1v1h-1zM261.71 38.95h1v1h-1zM265.21 42.60h1v1h-1zM261.71 45.95h1v1h-1zM265.21 49.60h1v1h-1zM261.71 52.95h1v1h-1zM265.21 56.60h1v1h-1zM261.71 59.95h1v1h-1zM265.21 63.60h1v1h-1zM261.71 66.95h1v1h-1zM265.21 70.60h1v1h-1zM261.71 73.95h1v1h-1zM265.21 77.60h1v1h-1zM261.71 80.95h1v1h-1zM265.21 84.60h1v1h-1zM261.71 87.95h1v1h-1zM265.21 91.60h1v1h-1zM261.71 94.95h1v1h-1zM265.21 98.60h1v1h-1zM261.71 101.95h1v1h-1zM265.21 105.60h1v1h-1zM261.71 108.95h1v1h-1zM265.21 112.60h1v1h-1zM261.71 115.95h1v1h-1zM265.21 119.60h1v1h-1zM261.71 122.95h1v1h-1zM265.21 126.60h1v1h-1zM261.71 129.95h1v1h-1zM265.21 133.60h1v1h-1zM261.71 136.95h1v1h-1zM265.21 140.60h1v1h-1zM261.71 143.95h1v1h-1zM265.21 147.60h1v1h-1zM261.71 150.95h1v1h-1zM265.21 154.60h1v1h-1zM272.22 0.60h1v1h-1zM268.72 3.95h1v1h-1zM272.22 7.60h1v1h-1zM268.72 10.95h1v1h-1zM272.22 14.60h1v1h-1zM268.72 17.95h1v1h-1zM272.22 21.60h1v1h-1zM268.72 24.95h1v1h-1zM272.22 28.60h1v1h-1zM268.72 31.95h1v1h-1zM272.22 35.60h1v1h-1zM268.72 38.95h1v1h-1zM272.22 42.60h1v1h-1zM268.72 45.95h1v1h-1zM272.22 49.60h1v1h-1zM268.72 52.95h1v1h-1zM272.22 56.60h1v1h-1zM268.72 59.95h1v1h-1zM272.22 63.60h1v1h-1zM268.72 66.95h1v1h-1zM272.22 70.60h1v1h-1zM268.72 73.95h1v1h-1zM272.22 77.60h1v1h-1zM268.72 80.95h1v1h-1zM272.22 84.60h1v1h-1zM268.72 87.95h1v1h-1zM272.22 91.60h1v1h-1zM268.72 94.95h1v1h-1zM272.22 98.60h1v1h-1zM268.72 101.95h1v1h-1zM272.22 105.60h1v1h-1zM268.72 108.95h1v1h-1zM272.22 112.60h1v1h-1zM268.72 115.95h1v1h-1zM272.22 119.60h1v1h-1zM268.72 122.95h1v1h-1zM272.22 126.60h1v1h-1zM268.72 129.95h1v1h-1zM272.22 133.60h1v1h-1zM268.72 136.95h1v1h-1zM272.22 140.60h1v1h-1zM268.72 143.95h1v1h-1zM272.22 147.60h1v1h-1zM268.72 150.95h1v1h-1zM279.22 0.60h1v1h-1zM275.72 3.95h1v1h-1zM279.22 7.60h1v1h-1zM275.72 10.95h1v1h-1zM279.22 14.60h1v1h-1zM275.72 17.95h1v1h-1zM279.22 21.60h1v1h-1zM275.72 24.95h1v1h-1zM279.22 28.60h1v1h-1zM275.72 31.95h1v1h-1zM279.22 35.60h1v1h-1zM275.72 38.95h1v1h-1zM279.22 42.60h1v1h-1zM275.72 45.95h1v1h-1zM279.22 49.60h1v1h-1zM275.72 52.95h1v1h-1zM279.22 56.60h1v1h-1zM275.72 59.95h1v1h-1zM279.22 63.60h1v1h-1zM275.72 66.95h1v1h-1zM279.22 70.60h1v1h-1zM275.72 73.95h1v1h-1zM279.22 77.60h1v1h-1zM275.72 80.95h1v1h-1zM279.22 84.60h1v1h-1zM275.72 87.95h1v1h-1zM279.22 91.60h1v1h-1zM275.72 94.95h1v1h-1zM279.22 98.60h1v1h-1zM275.72 101.95h1v1h-1zM279.22 105.60h1v1h-1zM275.72 108.95h1v1h-1zM279.22 112.60h1v1h-1zM275.72 115.95h1v1h-1zM279.22 119.60h1v1h-1zM275.72 122.95h1v1h-1zM279.22 126.60h1v1h-1zM275.72 129.95h1v1h-1zM279.22 133.60h1v1h-1zM275.72 136.95h1v1h-1zM279.22 140.60h1v1h-1zM275.72 143.95h1v1h-1zM279.22 147.60h1v1h-1zM275.72 150.95h1v1h-1zM286.23 0.60h1v1h-1zM282.73 3.95h1v1h-1zM286.23 7.60h1v1h-1zM282.73 10.95h1v1h-1zM286.23 14.60h1v1h-1zM282.73 17.95h1v1h-1zM286.23 21.60h1v1h-1zM282.73 24.95h1v1h-1zM286.23 28.60h1v1h-1zM282.73 31.95h1v1h-1zM286.23 35.60h1v1h-1zM282.73 38.95h1v1h-1zM286.23 42.60h1v1h-1zM282.73 45.95h1v1h-1zM286.23 49.60h1v1h-1zM282.73 52.95h1v1h-1zM286.23 56.60h1v1h-1zM282.73 59.95h1v1h-1zM286.23 63.60h1v1h-1zM282.73 66.95h1v1h-1zM286.23 70.60h1v1h-1zM282.73 73.95h1v1h-1zM286.23 77.60h1v1h-1zM282.73 80.95h1v1h-1zM286.23 84.60h1v1h-1zM282.73 87.95h1v1h-1zM286.23 91.60h1v1h-1zM282.73 94.95h1v1h-1zM286.23 98.60h1v1h-1zM282.73 101.95h1v1h-1zM286.23 105.60h1v1h-1zM282.73 108.95h1v1h-1zM286.23 112.60h1v1h-1zM282.73 115.95h1v1h-1zM286.23 119.60h1v1h-1zM282.73 122.95h1v1h-1zM286.23 126.60h1v1h-1zM282.73 129.95h1v1h-1zM286.23 133.60h1v1h-1zM282.73 136.95h1v1h-1zM286.23 140.60h1v1h-1zM282.73 143.95h1v1h-1zM286.23 147.60h1v1h-1zM293.24 0.60h1v1h-1zM289.74 3.95h1v1h-1zM293.24 7.60h1v1h-1zM289.74 10.95h1v1h-1zM293.24 14.60h1v1h-1zM289.74 17.95h1v1h-1zM293.24 21.60h1v1h-1zM289.74 24.95h1v1h-1zM293.24 28.60h1v1h-1zM289.74 31.95h1v1h-1zM293.24 35.60h1v1h-1zM289.74 38.95h1v1h-1zM293.24 42.60h1v1h-1zM289.74 45.95h1v1h-1zM293.24 49.60h1v1h-1zM289.74 52.95h1v1h-1zM293.24 56.60h1v1h-1zM289.74 59.95h1v1h-1zM293.24 63.60h1v1h-1zM289.74 66.95h1v1h-1zM293.24 70.60h1v1h-1zM289.74 73.95h1v1h-1zM293.24 77.60h1v1h-1zM289.74 80.95h1v1h-1zM293.24 84.60h1v1h-1zM289.74 87.95h1v1h-1zM293.24 91.60h1v1h-1zM289.74 94.95h1v1h-1zM293.24 98.60h1v1h-1zM289.74 101.95h1v1h-1zM293.24 105.60h1v1h-1zM289.74 108.95h1v1h-1zM293.24 112.60h1v1h-1zM289.74 115.95h1v1h-1zM293.24 119.60h1v1h-1zM289.74 122.95h1v1h-1zM293.24 126.60h1v1h-1zM289.74 129.95h1v1h-1zM293.24 133.60h1v1h-1zM289.74 136.95h1v1h-1zM293.24 140.60h1v1h-1zM289.74 143.95h1v1h-1zM293.24 147.60h1v1h-1zM300.25 0.60h1v1h-1zM296.75 3.95h1v1h-1zM300.25 7.60h1v1h-1zM296.75 10.95h1v1h-1zM300.25 14.60h1v1h-1zM296.75 17.95h1v1h-1zM300.25 21.60h1v1h-1zM296.75 24.95h1v1h-1zM300.25 28.60h1v1h-1zM296.75 31.95h1v1h-1zM300.25 35.60h1v1h-1zM296.75 38.95h1v1h-1zM300.25 42.60h1v1h-1zM296.75 45.95h1v1h-1zM300.25 49.60h1v1h-1zM296.75 52.95h1v1h-1zM300.25 56.60h1v1h-1zM296.75 59.95h1v1h-1zM300.25 63.60h1v1h-1zM296.75 66.95h1v1h-1zM300.25 70.60h1v1h-1zM296.75 73.95h1v1h-1zM300.25 77.60h1v1h-1zM296.75 80.95h1v1h-1zM300.25 84.60h1v1h-1zM296.75 87.95h1v1h-1zM300.25 91.60h1v1h-1zM296.75 94.95h1v1h-1zM300.25 98.60h1v1h-1zM296.75 101.95h1v1h-1zM300.25 105.60h1v1h-1zM296.75 108.95h1v1h-1zM300.25 112.60h1v1h-1zM296.75 115.95h1v1h-1zM300.25 119.60h1v1h-1zM296.75 122.95h1v1h-1zM300.25 126.60h1v1h-1zM296.75 129.95h1v1h-1zM300.25 133.60h1v1h-1zM296.75 136.95h1v1h-1zM300.25 140.60h1v1h-1zM296.75 143.95h1v1h-1zM307.26 0.60h1v1h-1zM303.76 3.95h1v1h-1zM307.26 7.60h1v1h-1zM303.76 10.95h1v1h-1zM307.26 14.60h1v1h-1zM303.76 17.95h1v1h-1zM307.26 21.60h1v1h-1zM303.76 24.95h1v1h-1zM307.26 28.60h1v1h-1zM303.76 31.95h1v1h-1zM307.26 35.60h1v1h-1zM303.76 38.95h1v1h-1zM307.26 42.60h1v1h-1zM303.76 45.95h1v1h-1zM307.26 49.60h1v1h-1zM303.76 52.95h1v1h-1zM307.26 56.60h1v1h-1zM303.76 59.95h1v1h-1zM307.26 63.60h1v1h-1zM303.76 66.95h1v1h-1zM307.26 70.60h1v1h-1zM303.76 73.95h1v1h-1zM307.26 77.60h1v1h-1zM303.76 80.95h1v1h-1zM307.26 84.60h1v1h-1zM303.76 87.95h1v1h-1zM307.26 91.60h1v1h-1zM303.76 94.95h1v1h-1zM307.26 98.60h1v1h-1zM303.76 101.95h1v1h-1zM307.26 105.60h1v1h-1zM303.76 108.95h1v1h-1zM307.26 112.60h1v1h-1zM303.76 115.95h1v1h-1zM307.26 119.60h1v1h-1zM303.76 122.95h1v1h-1zM307.26 126.60h1v1h-1zM303.76 129.95h1v1h-1zM307.26 133.60h1v1h-1zM303.76 136.95h1v1h-1zM307.26 140.60h1v1h-1zM303.76 143.95h1v1h-1zM314.26 0.60h1v1h-1zM310.76 3.95h1v1h-1zM314.26 7.60h1v1h-1zM310.76 10.95h1v1h-1zM314.26 14.60h1v1h-1zM310.76 17.95h1v1h-1zM314.26 21.60h1v1h-1zM310.76 24.95h1v1h-1zM314.26 28.60h1v1h-1zM310.76 31.95h1v1h-1zM314.26 35.60h1v1h-1zM310.76 38.95h1v1h-1zM314.26 42.60h1v1h-1zM310.76 45.95h1v1h-1zM314.26 49.60h1v1h-1zM310.76 52.95h1v1h-1zM314.26 56.60h1v1h-1zM310.76 59.95h1v1h-1zM314.26 63.60h1v1h-1zM310.76 66.95h1v1h-1zM314.26 70.60h1v1h-1zM310.76 73.95h1v1h-1zM314.26 77.60h1v1h-1zM310.76 80.95h1v1h-1zM314.26 84.60h1v1h-1zM310.76 87.95h1v1h-1zM314.26 91.60h1v1h-1zM310.76 94.95h1v1h-1zM314.26 98.60h1v1h-1zM310.76 101.95h1v1h-1zM314.26 105.60h1v1h-1zM310.76 108.95h1v1h-1zM314.26 112.60h1v1h-1zM310.76 115.95h1v1h-1zM314.26 119.60h1v1h-1zM310.76 122.95h1v1h-1zM314.26 126.60h1v1h-1zM310.76 129.95h1v1h-1zM314.26 133.60h1v1h-1zM310.76 136.95h1v1h-1zM314.26 140.60h1v1h-1zM310.76 143.95h1v1h-1zM321.27 0.60h1v1h-1zM317.77 3.95h1v1h-1zM321.27 7.60h1v1h-1zM317.77 10.95h1v1h-1zM321.27 14.60h1v1h-1zM317.77 17.95h1v1h-1zM321.27 21.60h1v1h-1zM317.77 24.95h1v1h-1zM321.27 28.60h1v1h-1zM317.77 31.95h1v1h-1zM321.27 35.60h1v1h-1zM317.77 38.95h1v1h-1zM321.27 42.60h1v1h-1zM317.77 45.95h1v1h-1zM321.27 49.60h1v1h-1zM317.77 52.95h1v1h-1zM321.27 56.60h1v1h-1zM317.77 59.95h1v1h-1zM321.27 63.60h1v1h-1zM317.77 66.95h1v1h-1zM321.27 70.60h1v1h-1zM317.77 73.95h1v1h-1zM321.27 77.60h1v1h-1zM317.77 80.95h1v1h-1zM321.27 84.60h1v1h-1zM317.77 87.95h1v1h-1zM321.27 91.60h1v1h-1zM317.77 94.95h1v1h-1zM321.27 98.60h1v1h-1zM317.77 101.95h1v1h-1zM321.27 105.60h1v1h-1zM317.77 108.95h1v1h-1zM321.27 112.60h1v1h-1zM317.77 115.95h1v1h-1zM321.27 119.60h1v1h-1zM317.77 122.95h1v1h-1zM321.27 126.60h1v1h-1zM317.77 129.95h1v1h-1zM321.27 133.60h1v1h-1zM317.77 136.95h1v1h-1zM321.27 140.60h1v1h-1zM328.28 0.60h1v1h-1zM324.78 3.95h1v1h-1zM328.28 7.60h1v1h-1zM324.78 10.95h1v1h-1zM328.28 14.60h1v1h-1zM324.78 17.95h1v1h-1zM328.28 21.60h1v1h-1zM324.78 24.95h1v1h-1zM328.28 28.60h1v1h-1zM324.78 31.95h1v1h-1zM328.28 35.60h1v1h-1zM324.78 38.95h1v1h-1zM328.28 42.60h1v1h-1zM324.78 45.95h1v1h-1zM328.28 49.60h1v1h-1zM324.78 52.95h1v1h-1zM328.28 56.60h1v1h-1zM324.78 59.95h1v1h-1zM328.28 63.60h1v1h-1zM324.78 66.95h1v1h-1zM328.28 70.60h1v1h-1zM324.78 73.95h1v1h-1zM328.28 77.60h1v1h-1zM324.78 80.95h1v1h-1zM328.28 84.60h1v1h-1zM324.78 87.95h1v1h-1zM328.28 91.60h1v1h-1zM324.78 94.95h1v1h-1zM328.28 98.60h1v1h-1zM324.78 101.95h1v1h-1zM328.28 105.60h1v1h-1zM324.78 108.95h1v1h-1zM328.28 112.60h1v1h-1zM324.78 115.95h1v1h-1zM328.28 119.60h1v1h-1zM324.78 122.95h1v1h-1zM328.28 126.60h1v1h-1zM324.78 129.95h1v1h-1zM328.28 133.60h1v1h-1zM324.78 136.95h1v1h-1zM328.28 140.60h1v1h-1zM335.29 0.60h1v1h-1zM331.79 3.95h1v1h-1zM335.29 7.60h1v1h-1zM331.79 10.95h1v1h-1zM335.29 14.60h1v1h-1zM331.79 17.95h1v1h-1zM335.29 21.60h1v1h-1zM331.79 24.95h1v1h-1zM335.29 28.60h1v1h-1zM331.79 31.95h1v1h-1zM335.29 35.60h1v1h-1zM331.79 38.95h1v1h-1zM335.29 42.60h1v1h-1zM331.79 45.95h1v1h-1zM335.29 49.60h1v1h-1zM331.79 52.95h1v1h-1zM335.29 56.60h1v1h-1zM331.79 59.95h1v1h-1zM335.29 63.60h1v1h-1zM331.79 66.95h1v1h-1zM335.29 70.60h1v1h-1zM331.79 73.95h1v1h-1zM335.29 77.60h1v1h-1zM331.79 80.95h1v1h-1zM335.29 84.60h1v1h-1zM331.79 87.95h1v1h-1zM335.29 91.60h1v1h-1zM331.79 94.95h1v1h-1zM335.29 98.60h1v1h-1zM331.79 101.95h1v1h-1zM335.29 105.60h1v1h-1zM331.79 108.95h1v1h-1zM335.29 112.60h1v1h-1zM331.79 115.95h1v1h-1zM335.29 119.60h1v1h-1zM331.79 122.95h1v1h-1zM335.29 126.60h1v1h-1zM331.79 129.95h1v1h-1zM335.29 133.60h1v1h-1zM331.79 136.95h1v1h-1zM342.30 0.60h1v1h-1zM338.80 3.95h1v1h-1zM342.30 7.60h1v1h-1zM338.80 10.95h1v1h-1zM342.30 14.60h1v1h-1zM338.80 17.95h1v1h-1zM342.30 21.60h1v1h-1zM338.80 24.95h1v1h-1zM342.30 28.60h1v1h-1zM338.80 31.95h1v1h-1zM342.30 35.60h1v1h-1zM338.80 38.95h1v1h-1zM342.30 42.60h1v1h-1zM338.80 45.95h1v1h-1zM342.30 49.60h1v1h-1zM338.80 52.95h1v1h-1zM342.30 56.60h1v1h-1zM338.80 59.95h1v1h-1zM342.30 63.60h1v1h-1zM338.80 66.95h1v1h-1zM342.30 70.60h1v1h-1zM338.80 73.95h1v1h-1zM342.30 77.60h1v1h-1zM338.80 80.95h1v1h-1zM342.30 84.60h1v1h-1zM338.80 87.95h1v1h-1zM342.30 91.60h1v1h-1zM338.80 94.95h1v1h-1zM342.30 98.60h1v1h-1zM338.80 101.95h1v1h-1zM342.30 105.60h1v1h-1zM338.80 108.95h1v1h-1zM342.30 112.60h1v1h-1zM338.80 115.95h1v1h-1zM342.30 119.60h1v1h-1zM338.80 122.95h1v1h-1zM342.30 126.60h1v1h-1zM338.80 129.95h1v1h-1zM342.30 133.60h1v1h-1zM338.80 136.95h1v1h-1zM349.30 0.60h1v1h-1zM345.80 3.95h1v1h-1zM349.30 7.60h1v1h-1zM345.80 10.95h1v1h-1zM349.30 14.60h1v1h-1zM345.80 17.95h1v1h-1zM349.30 21.60h1v1h-1zM345.80 24.95h1v1h-1zM349.30 28.60h1v1h-1zM345.80 31.95h1v1h-1zM349.30 35.60h1v1h-1zM345.80 38.95h1v1h-1zM349.30 42.60h1v1h-1zM345.80 45.95h1v1h-1zM349.30 49.60h1v1h-1zM345.80 52.95h1v1h-1zM349.30 56.60h1v1h-1zM345.80 59.95h1v1h-1zM349.30 63.60h1v1h-1zM345.80 66.95h1v1h-1zM349.30 70.60h1v1h-1zM345.80 73.95h1v1h-1zM349.30 77.60h1v1h-1zM345.80 80.95h1v1h-1zM349.30 84.60h1v1h-1zM345.80 87.95h1v1h-1zM349.30 91.60h1v1h-1zM345.80 94.95h1v1h-1zM349.30 98.60h1v1h-1zM345.80 101.95h1v1h-1zM349.30 105.60h1v1h-1zM345.80 108.95h1v1h-1zM349.30 112.60h1v1h-1zM345.80 115.95h1v1h-1zM349.30 119.60h1v1h-1zM345.80 122.95h1v1h-1zM349.30 126.60h1v1h-1zM345.80 129.95h1v1h-1zM349.30 133.60h1v1h-1zM345.80 136.95h1v1h-1zM356.31 0.60h1v1h-1zM352.81 3.95h1v1h-1zM356.31 7.60h1v1h-1zM352.81 10.95h1v1h-1zM356.31 14.60h1v1h-1zM352.81 17.95h1v1h-1zM356.31 21.60h1v1h-1zM352.81 24.95h1v1h-1zM356.31 28.60h1v1h-1zM352.81 31.95h1v1h-1zM356.31 35.60h1v1h-1zM352.81 38.95h1v1h-1zM356.31 42.60h1v1h-1zM352.81 45.95h1v1h-1zM356.31 49.60h1v1h-1zM352.81 52.95h1v1h-1zM356.31 56.60h1v1h-1zM352.81 59.95h1v1h-1zM356.31 63.60h1v1h-1zM352.81 66.95h1v1h-1zM356.31 70.60h1v1h-1zM352.81 73.95h1v1h-1zM356.31 77.60h1v1h-1zM352.81 80.95h1v1h-1zM356.31 84.60h1v1h-1zM352.81 87.95h1v1h-1zM356.31 91.60h1v1h-1zM352.81 94.95h1v1h-1zM356.31 98.60h1v1h-1zM352.81 101.95h1v1h-1zM356.31 105.60h1v1h-1zM352.81 108.95h1v1h-1zM356.31 112.60h1v1h-1zM352.81 115.95h1v1h-1zM356.31 119.60h1v1h-1zM352.81 122.95h1v1h-1zM356.31 126.60h1v1h-1zM352.81 129.95h1v1h-1zM356.31 133.60h1v1h-1zM363.32 0.60h1v1h-1zM359.82 3.95h1v1h-1zM363.32 7.60h1v1h-1zM359.82 10.95h1v1h-1zM363.32 14.60h1v1h-1zM359.82 17.95h1v1h-1zM363.32 21.60h1v1h-1zM359.82 24.95h1v1h-1zM363.32 28.60h1v1h-1zM359.82 31.95h1v1h-1zM363.32 35.60h1v1h-1zM359.82 38.95h1v1h-1zM363.32 42.60h1v1h-1zM359.82 45.95h1v1h-1zM363.32 49.60h1v1h-1zM359.82 52.95h1v1h-1zM363.32 56.60h1v1h-1zM359.82 59.95h1v1h-1zM363.32 63.60h1v1h-1zM359.82 66.95h1v1h-1zM363.32 70.60h1v1h-1zM359.82 73.95h1v1h-1zM363.32 77.60h1v1h-1zM359.82 80.95h1v1h-1zM363.32 84.60h1v1h-1zM359.82 87.95h1v1h-1zM363.32 91.60h1v1h-1zM359.82 94.95h1v1h-1zM363.32 98.60h1v1h-1zM359.82 101.95h1v1h-1zM363.32 105.60h1v1h-1zM359.82 108.95h1v1h-1zM363.32 112.60h1v1h-1zM359.82 115.95h1v1h-1zM363.32 119.60h1v1h-1zM359.82 122.95h1v1h-1zM363.32 126.60h1v1h-1zM359.82 129.95h1v1h-1zM363.32 133.60h1v1h-1zM370.33 0.60h1v1h-1zM366.83 3.95h1v1h-1zM370.33 7.60h1v1h-1zM366.83 10.95h1v1h-1zM370.33 14.60h1v1h-1zM366.83 17.95h1v1h-1zM370.33 21.60h1v1h-1zM366.83 24.95h1v1h-1zM370.33 28.60h1v1h-1zM366.83 31.95h1v1h-1zM370.33 35.60h1v1h-1zM366.83 38.95h1v1h-1zM370.33 42.60h1v1h-1zM366.83 45.95h1v1h-1zM370.33 49.60h1v1h-1zM366.83 52.95h1v1h-1zM370.33 56.60h1v1h-1zM366.83 59.95h1v1h-1zM370.33 63.60h1v1h-1zM366.83 66.95h1v1h-1zM370.33 70.60h1v1h-1zM366.83 73.95h1v1h-1zM370.33 77.60h1v1h-1zM366.83 80.95h1v1h-1zM370.33 84.60h1v1h-1zM366.83 87.95h1v1h-1zM370.33 91.60h1v1h-1zM366.83 94.95h1v1h-1zM370.33 98.60h1v1h-1zM366.83 101.95h1v1h-1zM370.33 105.60h1v1h-1zM366.83 108.95h1v1h-1zM370.33 112.60h1v1h-1zM366.83 115.95h1v1h-1zM370.33 119.60h1v1h-1zM366.83 122.95h1v1h-1zM370.33 126.60h1v1h-1zM366.83 129.95h1v1h-1zM377.34 0.60h1v1h-1zM373.84 3.95h1v1h-1zM377.34 7.60h1v1h-1zM373.84 10.95h1v1h-1zM377.34 14.60h1v1h-1zM373.84 17.95h1v1h-1zM377.34 21.60h1v1h-1zM373.84 24.95h1v1h-1zM377.34 28.60h1v1h-1zM373.84 31.95h1v1h-1zM377.34 35.60h1v1h-1zM373.84 38.95h1v1h-1zM377.34 42.60h1v1h-1zM373.84 45.95h1v1h-1zM377.34 49.60h1v1h-1zM373.84 52.95h1v1h-1zM377.34 56.60h1v1h-1zM373.84 59.95h1v1h-1zM377.34 63.60h1v1h-1zM373.84 66.95h1v1h-1zM377.34 70.60h1v1h-1zM373.84 73.95h1v1h-1zM377.34 77.60h1v1h-1zM373.84 80.95h1v1h-1zM377.34 84.60h1v1h-1zM373.84 87.95h1v1h-1zM377.34 91.60h1v1h-1zM373.84 94.95h1v1h-1zM377.34 98.60h1v1h-1zM373.84 101.95h1v1h-1zM377.34 105.60h1v1h-1zM373.84 108.95h1v1h-1zM377.34 112.60h1v1h-1zM373.84 115.95h1v1h-1zM377.34 119.60h1v1h-1zM373.84 122.95h1v1h-1zM377.34 126.60h1v1h-1zM373.84 129.95h1v1h-1zM384.34 0.60h1v1h-1zM380.84 3.95h1v1h-1zM384.34 7.60h1v1h-1zM380.84 10.95h1v1h-1zM384.34 14.60h1v1h-1zM380.84 17.95h1v1h-1zM384.34 21.60h1v1h-1zM380.84 24.95h1v1h-1zM384.34 28.60h1v1h-1zM380.84 31.95h1v1h-1zM384.34 35.60h1v1h-1zM380.84 38.95h1v1h-1zM384.34 42.60h1v1h-1zM380.84 45.95h1v1h-1zM384.34 49.60h1v1h-1zM380.84 52.95h1v1h-1zM384.34 56.60h1v1h-1zM380.84 59.95h1v1h-1zM384.34 63.60h1v1h-1zM380.84 66.95h1v1h-1zM384.34 70.60h1v1h-1zM380.84 73.95h1v1h-1zM384.34 77.60h1v1h-1zM380.84 80.95h1v1h-1zM384.34 84.60h1v1h-1zM380.84 87.95h1v1h-1zM384.34 91.60h1v1h-1zM380.84 94.95h1v1h-1zM384.34 98.60h1v1h-1zM380.84 101.95h1v1h-1zM384.34 105.60h1v1h-1zM380.84 108.95h1v1h-1zM384.34 112.60h1v1h-1zM380.84 115.95h1v1h-1zM384.34 119.60h1v1h-1zM380.84 122.95h1v1h-1zM384.34 126.60h1v1h-1zM380.84 129.95h1v1h-1zM391.35 0.60h1v1h-1zM387.85 3.95h1v1h-1zM391.35 7.60h1v1h-1zM387.85 10.95h1v1h-1zM391.35 14.60h1v1h-1zM387.85 17.95h1v1h-1zM391.35 21.60h1v1h-1zM387.85 24.95h1v1h-1zM391.35 28.60h1v1h-1zM387.85 31.95h1v1h-1zM391.35 35.60h1v1h-1zM387.85 38.95h1v1h-1zM391.35 42.60h1v1h-1zM387.85 45.95h1v1h-1zM391.35 49.60h1v1h-1zM387.85 52.95h1v1h-1zM391.35 56.60h1v1h-1zM387.85 59.95h1v1h-1zM391.35 63.60h1v1h-1zM387.85 66.95h1v1h-1zM391.35 70.60h1v1h-1zM387.85 73.95h1v1h-1zM391.35 77.60h1v1h-1zM387.85 80.95h1v1h-1zM391.35 84.60h1v1h-1zM387.85 87.95h1v1h-1zM391.35 91.60h1v1h-1zM387.85 94.95h1v1h-1zM391.35 98.60h1v1h-1zM387.85 101.95h1v1h-1zM391.35 105.60h1v1h-1zM387.85 108.95h1v1h-1zM391.35 112.60h1v1h-1zM387.85 115.95h1v1h-1zM391.35 119.60h1v1h-1zM387.85 122.95h1v1h-1zM391.35 126.60h1v1h-1zM398.36 0.60h1v1h-1zM394.86 3.95h1v1h-1zM398.36 7.60h1v1h-1zM394.86 10.95h1v1h-1zM398.36 14.60h1v1h-1zM394.86 17.95h1v1h-1zM398.36 21.60h1v1h-1zM394.86 24.95h1v1h-1zM398.36 28.60h1v1h-1zM394.86 31.95h1v1h-1zM398.36 35.60h1v1h-1zM394.86 38.95h1v1h-1zM398.36 42.60h1v1h-1zM394.86 45.95h1v1h-1zM398.36 49.60h1v1h-1zM394.86 52.95h1v1h-1zM398.36 56.60h1v1h-1zM394.86 59.95h1v1h-1zM398.36 63.60h1v1h-1zM394.86 66.95h1v1h-1zM398.36 70.60h1v1h-1zM394.86 73.95h1v1h-1zM398.36 77.60h1v1h-1zM394.86 80.95h1v1h-1zM398.36 84.60h1v1h-1zM394.86 87.95h1v1h-1zM398.36 91.60h1v1h-1zM394.86 94.95h1v1h-1zM398.36 98.60h1v1h-1zM394.86 101.95h1v1h-1zM398.36 105.60h1v1h-1zM394.86 108.95h1v1h-1zM398.36 112.60h1v1h-1zM394.86 115.95h1v1h-1zM398.36 119.60h1v1h-1zM394.86 122.95h1v1h-1zM398.36 126.60h1v1h-1zM405.37 0.60h1v1h-1zM401.87 3.95h1v1h-1zM405.37 7.60h1v1h-1zM401.87 10.95h1v1h-1zM405.37 14.60h1v1h-1zM401.87 17.95h1v1h-1zM405.37 21.60h1v1h-1zM401.87 24.95h1v1h-1zM405.37 28.60h1v1h-1zM401.87 31.95h1v1h-1zM405.37 35.60h1v1h-1zM401.87 38.95h1v1h-1zM405.37 42.60h1v1h-1zM401.87 45.95h1v1h-1zM405.37 49.60h1v1h-1zM401.87 52.95h1v1h-1zM405.37 56.60h1v1h-1zM401.87 59.95h1v1h-1zM405.37 63.60h1v1h-1zM401.87 66.95h1v1h-1zM405.37 70.60h1v1h-1zM401.87 73.95h1v1h-1zM405.37 77.60h1v1h-1zM401.87 80.95h1v1h-1zM405.37 84.60h1v1h-1zM401.87 87.95h1v1h-1zM405.37 91.60h1v1h-1zM401.87 94.95h1v1h-1zM405.37 98.60h1v1h-1zM401.87 101.95h1v1h-1zM405.37 105.60h1v1h-1zM401.87 108.95h1v1h-1zM405.37 112.60h1v1h-1zM401.87 115.95h1v1h-1zM405.37 119.60h1v1h-1zM401.87 122.95h1v1h-1zM405.37 126.60h1v1h-1zM412.38 0.60h1v1h-1zM408.88 3.95h1v1h-1zM412.38 7.60h1v1h-1zM408.88 10.95h1v1h-1zM412.38 14.60h1v1h-1zM408.88 17.95h1v1h-1zM412.38 21.60h1v1h-1zM408.88 24.95h1v1h-1zM412.38 28.60h1v1h-1zM408.88 31.95h1v1h-1zM412.38 35.60h1v1h-1zM408.88 38.95h1v1h-1zM412.38 42.60h1v1h-1zM408.88 45.95h1v1h-1zM412.38 49.60h1v1h-1zM408.88 52.95h1v1h-1zM412.38 56.60h1v1h-1zM408.88 59.95h1v1h-1zM412.38 63.60h1v1h-1zM408.88 66.95h1v1h-1zM412.38 70.60h1v1h-1zM408.88 73.95h1v1h-1zM412.38 77.60h1v1h-1zM408.88 80.95h1v1h-1zM412.38 84.60h1v1h-1zM408.88 87.95h1v1h-1zM412.38 91.60h1v1h-1zM408.88 94.95h1v1h-1zM412.38 98.60h1v1h-1zM408.88 101.95h1v1h-1zM412.38 105.60h1v1h-1zM408.88 108.95h1v1h-1zM412.38 112.60h1v1h-1zM408.88 115.95h1v1h-1zM412.38 119.60h1v1h-1zM408.88 122.95h1v1h-1zM419.38 0.60h1v1h-1zM415.88 3.95h1v1h-1zM419.38 7.60h1v1h-1zM415.88 10.95h1v1h-1zM419.38 14.60h1v1h-1zM415.88 17.95h1v1h-1zM419.38 21.60h1v1h-1zM415.88 24.95h1v1h-1zM419.38 28.60h1v1h-1zM415.88 31.95h1v1h-1zM419.38 35.60h1v1h-1zM415.88 38.95h1v1h-1zM419.38 42.60h1v1h-1zM415.88 45.95h1v1h-1zM419.38 49.60h1v1h-1zM415.88 52.95h1v1h-1zM419.38 56.60h1v1h-1zM415.88 59.95h1v1h-1zM419.38 63.60h1v1h-1zM415.88 66.95h1v1h-1zM419.38 70.60h1v1h-1zM415.88 73.95h1v1h-1zM419.38 77.60h1v1h-1zM415.88 80.95h1v1h-1zM419.38 84.60h1v1h-1zM415.88 87.95h1v1h-1zM419.38 91.60h1v1h-1zM415.88 94.95h1v1h-1zM419.38 98.60h1v1h-1zM415.88 101.95h1v1h-1zM419.38 105.60h1v1h-1zM415.88 108.95h1v1h-1zM419.38 112.60h1v1h-1zM415.88 115.95h1v1h-1zM419.38 119.60h1v1h-1zM415.88 122.95h1v1h-1zM426.39 0.60h1v1h-1zM422.89 3.95h1v1h-1zM426.39 7.60h1v1h-1zM422.89 10.95h1v1h-1zM426.39 14.60h1v1h-1zM422.89 17.95h1v1h-1zM426.39 21.60h1v1h-1zM422.89 24.95h1v1h-1zM426.39 28.60h1v1h-1zM422.89 31.95h1v1h-1zM426.39 35.60h1v1h-1zM422.89 38.95h1v1h-1zM426.39 42.60h1v1h-1zM422.89 45.95h1v1h-1zM426.39 49.60h1v1h-1zM422.89 52.95h1v1h-1zM426.39 56.60h1v1h-1zM422.89 59.95h1v1h-1zM426.39 63.60h1v1h-1zM422.89 66.95h1v1h-1zM426.39 70.60h1v1h-1zM422.89 73.95h1v1h-1zM426.39 77.60h1v1h-1zM422.89 80.95h1v1h-1zM426.39 84.60h1v1h-1zM422.89 87.95h1v1h-1zM426.39 91.60h1v1h-1zM422.89 94.95h1v1h-1zM426.39 98.60h1v1h-1zM422.89 101.95h1v1h-1zM426.39 105.60h1v1h-1zM422.89 108.95h1v1h-1zM426.39 112.60h1v1h-1zM422.89 115.95h1v1h-1zM426.39 119.60h1v1h-1zM422.89 122.95h1v1h-1zM433.40 0.60h1v1h-1zM429.90 3.95h1v1h-1zM433.40 7.60h1v1h-1zM429.90 10.95h1v1h-1zM433.40 14.60h1v1h-1zM429.90 17.95h1v1h-1zM433.40 21.60h1v1h-1zM429.90 24.95h1v1h-1zM433.40 28.60h1v1h-1zM429.90 31.95h1v1h-1zM433.40 35.60h1v1h-1zM429.90 38.95h1v1h-1zM433.40 42.60h1v1h-1zM429.90 45.95h1v1h-1zM433.40 49.60h1v1h-1zM429.90 52.95h1v1h-1zM433.40 56.60h1v1h-1zM429.90 59.95h1v1h-1zM433.40 63.60h1v1h-1zM429.90 66.95h1v1h-1zM433.40 70.60h1v1h-1zM429.90 73.95h1v1h-1zM433.40 77.60h1v1h-1zM429.90 80.95h1v1h-1zM433.40 84.60h1v1h-1zM429.90 87.95h1v1h-1zM433.40 91.60h1v1h-1zM429.90 94.95h1v1h-1zM433.40 98.60h1v1h-1zM429.90 101.95h1v1h-1zM433.40 105.60h1v1h-1zM429.90 108.95h1v1h-1zM433.40 112.60h1v1h-1zM429.90 115.95h1v1h-1zM433.40 119.60h1v1h-1zM440.41 0.60h1v1h-1zM436.91 3.95h1v1h-1zM440.41 7.60h1v1h-1zM436.91 10.95h1v1h-1zM440.41 14.60h1v1h-1zM436.91 17.95h1v1h-1zM440.41 21.60h1v1h-1zM436.91 24.95h1v1h-1zM440.41 28.60h1v1h-1zM436.91 31.95h1v1h-1zM440.41 35.60h1v1h-1zM436.91 38.95h1v1h-1zM440.41 42.60h1v1h-1zM436.91 45.95h1v1h-1zM440.41 49.60h1v1h-1zM436.91 52.95h1v1h-1zM440.41 56.60h1v1h-1zM436.91 59.95h1v1h-1zM440.41 63.60h1v1h-1zM436.91 66.95h1v1h-1zM440.41 70.60h1v1h-1zM436.91 73.95h1v1h-1zM440.41 77.60h1v1h-1zM436.91 80.95h1v1h-1zM440.41 84.60h1v1h-1zM436.91 87.95h1v1h-1zM440.41 91.60h1v1h-1zM436.91 94.95h1v1h-1zM440.41 98.60h1v1h-1zM436.91 101.95h1v1h-1zM440.41 105.60h1v1h-1zM436.91 108.95h1v1h-1zM440.41 112.60h1v1h-1zM436.91 115.95h1v1h-1zM440.41 119.60h1v1h-1zM447.42 0.60h1v1h-1zM443.92 3.95h1v1h-1zM447.42 7.60h1v1h-1zM443.92 10.95h1v1h-1zM447.42 14.60h1v1h-1zM443.92 17.95h1v1h-1zM447.42 21.60h1v1h-1zM443.92 24.95h1v1h-1zM447.42 28.60h1v1h-1zM443.92 31.95h1v1h-1zM447.42 35.60h1v1h-1zM443.92 38.95h1v1h-1zM447.42 42.60h1v1h-1zM443.92 45.95h1v1h-1zM447.42 49.60h1v1h-1zM443.92 52.95h1v1h-1zM447.42 56.60h1v1h-1zM443.92 59.95h1v1h-1zM447.42 63.60h1v1h-1zM443.92 66.95h1v1h-1zM447.42 70.60h1v1h-1zM443.92 73.95h1v1h-1zM447.42 77.60h1v1h-1zM443.92 80.95h1v1h-1zM447.42 84.60h1v1h-1zM443.92 87.95h1v1h-1zM447.42 91.60h1v1h-1zM443.92 94.95h1v1h-1zM447.42 98.60h1v1h-1zM443.92 101.95h1v1h-1zM447.42 105.60h1v1h-1zM443.92 108.95h1v1h-1zM447.42 112.60h1v1h-1zM443.92 115.95h1v1h-1zM454.42 0.60h1v1h-1zM450.92 3.95h1v1h-1zM454.42 7.60h1v1h-1zM450.92 10.95h1v1h-1zM454.42 14.60h1v1h-1zM450.92 17.95h1v1h-1zM454.42 21.60h1v1h-1zM450.92 24.95h1v1h-1zM454.42 28.60h1v1h-1zM450.92 31.95h1v1h-1zM454.42 35.60h1v1h-1zM450.92 38.95h1v1h-1zM454.42 42.60h1v1h-1zM450.92 45.95h1v1h-1zM454.42 49.60h1v1h-1zM450.92 52.95h1v1h-1zM454.42 56.60h1v1h-1zM450.92 59.95h1v1h-1zM454.42 63.60h1v1h-1zM450.92 66.95h1v1h-1zM454.42 70.60h1v1h-1zM450.92 73.95h1v1h-1zM454.42 77.60h1v1h-1zM450.92 80.95h1v1h-1zM454.42 84.60h1v1h-1zM450.92 87.95h1v1h-1zM454.42 91.60h1v1h-1zM450.92 94.95h1v1h-1zM454.42 98.60h1v1h-1zM450.92 101.95h1v1h-1zM454.42 105.60h1v1h-1zM450.92 108.95h1v1h-1zM454.42 112.60h1v1h-1zM450.92 115.95h1v1h-1zM461.43 0.60h1v1h-1zM457.93 3.95h1v1h-1zM461.43 7.60h1v1h-1zM457.93 10.95h1v1h-1zM461.43 14.60h1v1h-1zM457.93 17.95h1v1h-1zM461.43 21.60h1v1h-1zM457.93 24.95h1v1h-1zM461.43 28.60h1v1h-1zM457.93 31.95h1v1h-1zM461.43 35.60h1v1h-1zM457.93 38.95h1v1h-1zM461.43 42.60h1v1h-1zM457.93 45.95h1v1h-1zM461.43 49.60h1v1h-1zM457.93 52.95h1v1h-1zM461.43 56.60h1v1h-1zM457.93 59.95h1v1h-1zM461.43 63.60h1v1h-1zM457.93 66.95h1v1h-1zM461.43 70.60h1v1h-1zM457.93 73.95h1v1h-1zM461.43 77.60h1v1h-1zM457.93 80.95h1v1h-1zM461.43 84.60h1v1h-1zM457.93 87.95h1v1h-1zM461.43 91.60h1v1h-1zM457.93 94.95h1v1h-1zM461.43 98.60h1v1h-1zM457.93 101.95h1v1h-1zM461.43 105.60h1v1h-1zM457.93 108.95h1v1h-1zM461.43 112.60h1v1h-1zM457.93 115.95h1v1h-1zM468.44 0.60h1v1h-1zM464.94 3.95h1v1h-1zM468.44 7.60h1v1h-1zM464.94 10.95h1v1h-1zM468.44 14.60h1v1h-1zM464.94 17.95h1v1h-1zM468.44 21.60h1v1h-1zM464.94 24.95h1v1h-1zM468.44 28.60h1v1h-1zM464.94 31.95h1v1h-1zM468.44 35.60h1v1h-1zM464.94 38.95h1v1h-1zM468.44 42.60h1v1h-1zM464.94 45.95h1v1h-1zM468.44 49.60h1v1h-1zM464.94 52.95h1v1h-1zM468.44 56.60h1v1h-1zM464.94 59.95h1v1h-1zM468.44 63.60h1v1h-1zM464.94 66.95h1v1h-1zM468.44 70.60h1v1h-1zM464.94 73.95h1v1h-1zM468.44 77.60h1v1h-1zM464.94 80.95h1v1h-1zM468.44 84.60h1v1h-1zM464.94 87.95h1v1h-1zM468.44 91.60h1v1h-1zM464.94 94.95h1v1h-1zM468.44 98.60h1v1h-1zM464.94 101.95h1v1h-1zM468.44 105.60h1v1h-1zM464.94 108.95h1v1h-1zM468.44 112.60h1v1h-1zM475.45 0.60h1v1h-1zM471.95 3.95h1v1h-1zM475.45 7.60h1v1h-1zM471.95 10.95h1v1h-1zM475.45 14.60h1v1h-1zM471.95 17.95h1v1h-1zM475.45 21.60h1v1h-1zM471.95 24.95h1v1h-1zM475.45 28.60h1v1h-1zM471.95 31.95h1v1h-1zM475.45 35.60h1v1h-1zM471.95 38.95h1v1h-1zM475.45 42.60h1v1h-1zM471.95 45.95h1v1h-1zM475.45 49.60h1v1h-1zM471.95 52.95h1v1h-1zM475.45 56.60h1v1h-1zM471.95 59.95h1v1h-1zM475.45 63.60h1v1h-1zM471.95 66.95h1v1h-1zM475.45 70.60h1v1h-1zM471.95 73.95h1v1h-1zM475.45 77.60h1v1h-1zM471.95 80.95h1v1h-1zM475.45 84.60h1v1h-1zM471.95 87.95h1v1h-1zM475.45 91.60h1v1h-1zM471.95 94.95h1v1h-1zM475.45 98.60h1v1h-1zM471.95 101.95h1v1h-1zM475.45 105.60h1v1h-1zM471.95 108.95h1v1h-1zM475.45 112.60h1v1h-1z"/>
<g clip-path="url(#z0)">
<path d="M78.0,204.1 L130.0,190.3 L200.0,171.6 L260.0,155.6 L275.0,151.9 L290.0,148.6 L305.0,145.2 L320.0,142.0 L380.0,130.8 L440.0,119.5 L477.5,112.4 L477.5,226.0 L436.0,238.6 L400.0,248.6 L300.0,274.6 L240.0,291.5 L180.0,307.1 L110.0,325.4 L78.0,333.7 Z" fill="url(#dg0)"/>
<path d="M78.0,334.1 L110.0,326.0 L180.0,308.9 L240.0,294.5 L300.0,279.0 L400.0,253.2 L436.0,243.9 L477.5,233.0 L477.5,286.1 L430.0,299.1 L400.0,307.3 L340.0,323.8 L280.0,340.3 L220.0,356.2 L170.0,369.2 L130.0,379.6 L78.0,393.7 Z" fill="url(#dr0)"/>
<path d="M78.0,333.7 L110.0,325.4 L180.0,307.1 L240.0,291.5 L300.0,274.6 L400.0,248.6 L436.0,238.6 L477.5,226.0 L477.5,233.0 L436.0,243.9 L400.0,253.2 L300.0,279.0 L240.0,294.5 L180.0,308.9 L110.0,326.0 L78.0,334.1 Z" fill="url(#db0)"/>
</g>
<g clip-path="url(#z1)">
<path d="M78.0,204.1 L130.0,190.3 L200.0,171.6 L260.0,155.6 L275.0,151.9 L290.0,148.6 L305.0,145.2 L320.0,142.0 L380.0,130.8 L440.0,119.5 L477.5,112.4 L477.5,226.0 L436.0,238.6 L400.0,248.6 L300.0,274.6 L240.0,291.5 L180.0,307.1 L110.0,325.4 L78.0,333.7 Z" fill="url(#dg1)"/>
<path d="M78.0,334.1 L110.0,326.0 L180.0,308.9 L240.0,294.5 L300.0,279.0 L400.0,253.2 L436.0,243.9 L477.5,233.0 L477.5,286.1 L430.0,299.1 L400.0,307.3 L340.0,323.8 L280.0,340.3 L220.0,356.2 L170.0,369.2 L130.0,379.6 L78.0,393.7 Z" fill="url(#dr1)"/>
<path d="M78.0,333.7 L110.0,325.4 L180.0,307.1 L240.0,291.5 L300.0,274.6 L400.0,248.6 L436.0,238.6 L477.5,226.0 L477.5,233.0 L436.0,243.9 L400.0,253.2 L300.0,279.0 L240.0,294.5 L180.0,308.9 L110.0,326.0 L78.0,334.1 Z" fill="url(#db1)"/>
</g>
<g clip-path="url(#z2)">
<path d="M78.0,204.1 L130.0,190.3 L200.0,171.6 L260.0,155.6 L275.0,151.9 L290.0,148.6 L305.0,145.2 L320.0,142.0 L380.0,130.8 L440.0,119.5 L477.5,112.4 L477.5,226.0 L436.0,238.6 L400.0,248.6 L300.0,274.6 L240.0,291.5 L180.0,307.1 L110.0,325.4 L78.0,333.7 Z" fill="url(#dg2)"/>
<path d="M78.0,334.1 L110.0,326.0 L180.0,308.9 L240.0,294.5 L300.0,279.0 L400.0,253.2 L436.0,243.9 L477.5,233.0 L477.5,286.1 L430.0,299.1 L400.0,307.3 L340.0,323.8 L280.0,340.3 L220.0,356.2 L170.0,369.2 L130.0,379.6 L78.0,393.7 Z" fill="url(#dr2)"/>
<path d="M78.0,333.7 L110.0,325.4 L180.0,307.1 L240.0,291.5 L300.0,274.6 L400.0,248.6 L436.0,238.6 L477.5,226.0 L477.5,233.0 L436.0,243.9 L400.0,253.2 L300.0,279.0 L240.0,294.5 L180.0,308.9 L110.0,326.0 L78.0,334.1 Z" fill="url(#db2)"/>
</g>
<g clip-path="url(#z3)">
<path d="M78.0,204.1 L130.0,190.3 L200.0,171.6 L260.0,155.6 L275.0,151.9 L290.0,148.6 L305.0,145.2 L320.0,142.0 L380.0,130.8 L440.0,119.5 L477.5,112.4 L477.5,226.0 L436.0,238.6 L400.0,248.6 L300.0,274.6 L240.0,291.5 L180.0,307.1 L110.0,325.4 L78.0,333.7 Z" fill="url(#dg3)"/>
<path d="M78.0,334.1 L110.0,326.0 L180.0,308.9 L240.0,294.5 L300.0,279.0 L400.0,253.2 L436.0,243.9 L477.5,233.0 L477.5,286.1 L430.0,299.1 L400.0,307.3 L340.0,323.8 L280.0,340.3 L220.0,356.2 L170.0,369.2 L130.0,379.6 L78.0,393.7 Z" fill="url(#dr3)"/>
<path d="M78.0,333.7 L110.0,325.4 L180.0,307.1 L240.0,291.5 L300.0,274.6 L400.0,248.6 L436.0,238.6 L477.5,226.0 L477.5,233.0 L436.0,243.9 L400.0,253.2 L300.0,279.0 L240.0,294.5 L180.0,308.9 L110.0,326.0 L78.0,334.1 Z" fill="url(#db3)"/>
</g>
<g clip-path="url(#z4)">
<path d="M78.0,204.1 L130.0,190.3 L200.0,171.6 L260.0,155.6 L275.0,151.9 L290.0,148.6 L305.0,145.2 L320.0,142.0 L380.0,130.8 L440.0,119.5 L477.5,112.4 L477.5,226.0 L436.0,238.6 L400.0,248.6 L300.0,274.6 L240.0,291.5 L180.0,307.1 L110.0,325.4 L78.0,333.7 Z" fill="url(#dg4)"/>
<path d="M78.0,334.1 L110.0,326.0 L180.0,308.9 L240.0,294.5 L300.0,279.0 L400.0,253.2 L436.0,243.9 L477.5,233.0 L477.5,286.1 L430.0,299.1 L400.0,307.3 L340.0,323.8 L280.0,340.3 L220.0,356.2 L170.0,369.2 L130.0,379.6 L78.0,393.7 Z" fill="url(#dr4)"/>
<path d="M78.0,333.7 L110.0,325.4 L180.0,307.1 L240.0,291.5 L300.0,274.6 L400.0,248.6 L436.0,238.6 L477.5,226.0 L477.5,233.0 L436.0,243.9 L400.0,253.2 L300.0,279.0 L240.0,294.5 L180.0,308.9 L110.0,326.0 L78.0,334.1 Z" fill="url(#db4)"/>
</g>
<g clip-path="url(#z5)">
<path d="M78.0,204.1 L130.0,190.3 L200.0,171.6 L260.0,155.6 L275.0,151.9 L290.0,148.6 L305.0,145.2 L320.0,142.0 L380.0,130.8 L440.0,119.5 L477.5,112.4 L477.5,226.0 L436.0,238.6 L400.0,248.6 L300.0,274.6 L240.0,291.5 L180.0,307.1 L110.0,325.4 L78.0,333.7 Z" fill="url(#dg5)"/>
<path d="M78.0,334.1 L110.0,326.0 L180.0,308.9 L240.0,294.5 L300.0,279.0 L400.0,253.2 L436.0,243.9 L477.5,233.0 L477.5,286.1 L430.0,299.1 L400.0,307.3 L340.0,323.8 L280.0,340.3 L220.0,356.2 L170.0,369.2 L130.0,379.6 L78.0,393.7 Z" fill="url(#dr5)"/>
<path d="M78.0,333.7 L110.0,325.4 L180.0,307.1 L240.0,291.5 L300.0,274.6 L400.0,248.6 L436.0,238.6 L477.5,226.0 L477.5,233.0 L436.0,243.9 L400.0,253.2 L300.0,279.0 L240.0,294.5 L180.0,308.9 L110.0,326.0 L78.0,334.1 Z" fill="url(#db5)"/>
</g>
<g clip-path="url(#z6)">
<path d="M78.0,204.1 L130.0,190.3 L200.0,171.6 L260.0,155.6 L275.0,151.9 L290.0,148.6 L305.0,145.2 L320.0,142.0 L380.0,130.8 L440.0,119.5 L477.5,112.4 L477.5,226.0 L436.0,238.6 L400.0,248.6 L300.0,274.6 L240.0,291.5 L180.0,307.1 L110.0,325.4 L78.0,333.7 Z" fill="url(#dg6)"/>
<path d="M78.0,334.1 L110.0,326.0 L180.0,308.9 L240.0,294.5 L300.0,279.0 L400.0,253.2 L436.0,243.9 L477.5,233.0 L477.5,286.1 L430.0,299.1 L400.0,307.3 L340.0,323.8 L280.0,340.3 L220.0,356.2 L170.0,369.2 L130.0,379.6 L78.0,393.7 Z" fill="url(#dr6)"/>
<path d="M78.0,333.7 L110.0,325.4 L180.0,307.1 L240.0,291.5 L300.0,274.6 L400.0,248.6 L436.0,238.6 L477.5,226.0 L477.5,233.0 L436.0,243.9 L400.0,253.2 L300.0,279.0 L240.0,294.5 L180.0,308.9 L110.0,326.0 L78.0,334.1 Z" fill="url(#db6)"/>
</g>
<g clip-path="url(#z7)">
<path d="M78.0,204.1 L130.0,190.3 L200.0,171.6 L260.0,155.6 L275.0,151.9 L290.0,148.6 L305.0,145.2 L320.0,142.0 L380.0,130.8 L440.0,119.5 L477.5,112.4 L477.5,226.0 L436.0,238.6 L400.0,248.6 L300.0,274.6 L240.0,291.5 L180.0,307.1 L110.0,325.4 L78.0,333.7 Z" fill="url(#dg7)"/>
<path d="M78.0,334.1 L110.0,326.0 L180.0,308.9 L240.0,294.5 L300.0,279.0 L400.0,253.2 L436.0,243.9 L477.5,233.0 L477.5,286.1 L430.0,299.1 L400.0,307.3 L340.0,323.8 L280.0,340.3 L220.0,356.2 L170.0,369.2 L130.0,379.6 L78.0,393.7 Z" fill="url(#dr7)"/>
<path d="M78.0,333.7 L110.0,325.4 L180.0,307.1 L240.0,291.5 L300.0,274.6 L400.0,248.6 L436.0,238.6 L477.5,226.0 L477.5,233.0 L436.0,243.9 L400.0,253.2 L300.0,279.0 L240.0,294.5 L180.0,308.9 L110.0,326.0 L78.0,334.1 Z" fill="url(#db7)"/>
</g>
<path d="M78.0,204.1 L130.0,190.3 L200.0,171.6 L260.0,155.6 L275.0,151.9 L290.0,148.6 L305.0,145.2 L320.0,142.0 L380.0,130.8 L440.0,119.5 L477.5,112.4" fill="none" stroke="#00f000" stroke-width="1.3"/>
<path d="M78.0,393.7 L130.0,379.6 L170.0,369.2 L220.0,356.2 L280.0,340.3 L340.0,323.8 L400.0,307.3 L430.0,299.1 L477.5,286.1" fill="none" stroke="#ff1010" stroke-width="1.2"/>
<path d="M78.0,333.7 L110.0,325.4 L180.0,307.1 L240.0,291.5 L300.0,274.6 L400.0,248.6 L436.0,238.6 L477.5,226.0" fill="none" stroke="#1010f0" stroke-width="1.3"/>
<path d="M78.0,334.1 L110.0,326.0 L180.0,308.9 L240.0,294.5 L300.0,279.0 L400.0,253.2 L436.0,243.9 L477.5,233.0" fill="none" stroke="#1010f0" stroke-width="1.2"/>
</g>
<ellipse cx="260.2" cy="259.9" rx="50.9" ry="31.5" fill="none" stroke="#0000e6" stroke-width="2.5"/>
<ellipse cx="259.7" cy="259.5" rx="24.2" ry="16.0" fill="none" stroke="#000" stroke-width="2.5"/>
<ellipse cx="260.0" cy="259.9" rx="2.45" ry="7.8" fill="none" stroke="#f00" stroke-width="2.5"/>
<g stroke="#000" stroke-width="1.6" fill="#000">
<line x1="466" y1="6" x2="466" y2="113.8"/>
<path d="M466,2.4 L469.1,10.4 L466,7.6 L462.9,10.4 Z" stroke-width="0.6"/>
<line x1="459" y1="116.6" x2="459" y2="233"/>
<path d="M459,238 L462.1,230 L459,232.8 L455.9,230 Z" stroke-width="0.6"/>
<line x1="93.8" y1="332.2" x2="93.8" y2="384"/>
<path d="M93.8,388.6 L96.9,380.6 L93.8,383.4 L90.7,380.6 Z" stroke-width="0.6"/>
</g>
<g stroke="#000" fill="none">
<line x1="78.05" y1="1.4" x2="78.05" y2="413" stroke-width="1.4"/>
<line x1="77.4" y1="2.15" x2="478.1" y2="2.15" stroke-width="1.25"/>
<line x1="477.5" y1="1.5" x2="477.5" y2="413" stroke-width="1.1"/>
<line x1="77.4" y1="412.2" x2="478.1" y2="412.2" stroke-width="1.4"/>
</g>
<g stroke="#000" stroke-width="1.1" fill="none">
<line x1="78" y1="398.00" x2="89" y2="398.00"/>
<line x1="477.5" y1="398.00" x2="466.5" y2="398.00"/>
<line x1="78" y1="383.60" x2="83.5" y2="383.60"/>
<line x1="477.5" y1="383.60" x2="472" y2="383.60"/>
<line x1="78" y1="369.20" x2="83.5" y2="369.20"/>
<line x1="477.5" y1="369.20" x2="472" y2="369.20"/>
<line x1="78" y1="354.80" x2="83.5" y2="354.80"/>
<line x1="477.5" y1="354.80" x2="472" y2="354.80"/>
<line x1="78" y1="340.40" x2="83.5" y2="340.40"/>
<line x1="477.5" y1="340.40" x2="472" y2="340.40"/>
<line x1="78" y1="326.00" x2="89" y2="326.00"/>
<line x1="477.5" y1="326.00" x2="466.5" y2="326.00"/>
<line x1="78" y1="311.60" x2="83.5" y2="311.60"/>
<line x1="477.5" y1="311.60" x2="472" y2="311.60"/>
<line x1="78" y1="297.20" x2="83.5" y2="297.20"/>
<line x1="477.5" y1="297.20" x2="472" y2="297.20"/>
<line x1="78" y1="282.80" x2="83.5" y2="282.80"/>
<line x1="477.5" y1="282.80" x2="472" y2="282.80"/>
<line x1="78" y1="268.40" x2="83.5" y2="268.40"/>
<line x1="477.5" y1="268.40" x2="472" y2="268.40"/>
<line x1="78" y1="254.00" x2="89" y2="254.00"/>
<line x1="477.5" y1="254.00" x2="466.5" y2="254.00"/>
<line x1="78" y1="239.60" x2="83.5" y2="239.60"/>
<line x1="477.5" y1="239.60" x2="472" y2="239.60"/>
<line x1="78" y1="225.20" x2="83.5" y2="225.20"/>
<line x1="477.5" y1="225.20" x2="472" y2="225.20"/>
<line x1="78" y1="210.80" x2="83.5" y2="210.80"/>
<line x1="477.5" y1="210.80" x2="472" y2="210.80"/>
<line x1="78" y1="196.40" x2="83.5" y2="196.40"/>
<line x1="477.5" y1="196.40" x2="472" y2="196.40"/>
<line x1="78" y1="182.00" x2="89" y2="182.00"/>
<line x1="477.5" y1="182.00" x2="466.5" y2="182.00"/>
<line x1="78" y1="167.60" x2="83.5" y2="167.60"/>
<line x1="477.5" y1="167.60" x2="472" y2="167.60"/>
<line x1="78" y1="153.20" x2="83.5" y2="153.20"/>
<line x1="477.5" y1="153.20" x2="472" y2="153.20"/>
<line x1="78" y1="138.80" x2="83.5" y2="138.80"/>
<line x1="477.5" y1="138.80" x2="472" y2="138.80"/>
<line x1="78" y1="124.40" x2="83.5" y2="124.40"/>
<line x1="477.5" y1="124.40" x2="472" y2="124.40"/>
<line x1="78" y1="110.00" x2="89" y2="110.00"/>
<line x1="477.5" y1="110.00" x2="466.5" y2="110.00"/>
<line x1="78" y1="95.60" x2="83.5" y2="95.60"/>
<line x1="477.5" y1="95.60" x2="472" y2="95.60"/>
<line x1="78" y1="81.20" x2="83.5" y2="81.20"/>
<line x1="477.5" y1="81.20" x2="472" y2="81.20"/>
<line x1="78" y1="66.80" x2="83.5" y2="66.80"/>
<line x1="477.5" y1="66.80" x2="472" y2="66.80"/>
<line x1="78" y1="52.40" x2="83.5" y2="52.40"/>
<line x1="477.5" y1="52.40" x2="472" y2="52.40"/>
<line x1="78" y1="38.00" x2="89" y2="38.00"/>
<line x1="477.5" y1="38.00" x2="466.5" y2="38.00"/>
<line x1="78" y1="23.60" x2="83.5" y2="23.60"/>
<line x1="477.5" y1="23.60" x2="472" y2="23.60"/>
<line x1="78" y1="9.20" x2="83.5" y2="9.20"/>
<line x1="477.5" y1="9.20" x2="472" y2="9.20"/>
<line x1="93.98" y1="412.3" x2="93.98" y2="406.9"/>
<line x1="93.98" y1="2" x2="93.98" y2="7.4"/>
<line x1="109.96" y1="412.3" x2="109.96" y2="406.9"/>
<line x1="109.96" y1="2" x2="109.96" y2="7.4"/>
<line x1="125.94" y1="412.3" x2="125.94" y2="406.9"/>
<line x1="125.94" y1="2" x2="125.94" y2="7.4"/>
<line x1="141.92" y1="412.3" x2="141.92" y2="406.9"/>
<line x1="141.92" y1="2" x2="141.92" y2="7.4"/>
<line x1="157.90" y1="412.3" x2="157.90" y2="401.5"/>
<line x1="157.90" y1="2" x2="157.90" y2="12.8"/>
<line x1="173.88" y1="412.3" x2="173.88" y2="406.9"/>
<line x1="173.88" y1="2" x2="173.88" y2="7.4"/>
<line x1="189.86" y1="412.3" x2="189.86" y2="406.9"/>
<line x1="189.86" y1="2" x2="189.86" y2="7.4"/>
<line x1="205.84" y1="412.3" x2="205.84" y2="406.9"/>
<line x1="205.84" y1="2" x2="205.84" y2="7.4"/>
<line x1="221.82" y1="412.3" x2="221.82" y2="406.9"/>
<line x1="221.82" y1="2" x2="221.82" y2="7.4"/>
<line x1="237.80" y1="412.3" x2="237.80" y2="401.5"/>
<line x1="237.80" y1="2" x2="237.80" y2="12.8"/>
<line x1="253.78" y1="412.3" x2="253.78" y2="406.9"/>
<line x1="253.78" y1="2" x2="253.78" y2="7.4"/>
<line x1="269.76" y1="412.3" x2="269.76" y2="406.9"/>
<line x1="269.76" y1="2" x2="269.76" y2="7.4"/>
<line x1="285.74" y1="412.3" x2="285.74" y2="406.9"/>
<line x1="285.74" y1="2" x2="285.74" y2="7.4"/>
<line x1="301.72" y1="412.3" x2="301.72" y2="406.9"/>
<line x1="301.72" y1="2" x2="301.72" y2="7.4"/>
<line x1="317.70" y1="412.3" x2="317.70" y2="401.5"/>
<line x1="317.70" y1="2" x2="317.70" y2="12.8"/>
<line x1="333.68" y1="412.3" x2="333.68" y2="406.9"/>
<line x1="333.68" y1="2" x2="333.68" y2="7.4"/>
<line x1="349.66" y1="412.3" x2="349.66" y2="406.9"/>
<line x1="349.66" y1="2" x2="349.66" y2="7.4"/>
<line x1="365.64" y1="412.3" x2="365.64" y2="406.9"/>
<line x1="365.64" y1="2" x2="365.64" y2="7.4"/>
<line x1="381.62" y1="412.3" x2="381.62" y2="406.9"/>
<line x1="381.62" y1="2" x2="381.62" y2="7.4"/>
<line x1="397.60" y1="412.3" x2="397.60" y2="401.5"/>
<line x1="397.60" y1="2" x2="397.60" y2="12.8"/>
<line x1="413.58" y1="412.3" x2="413.58" y2="406.9"/>
<line x1="413.58" y1="2" x2="413.58" y2="7.4"/>
<line x1="429.56" y1="412.3" x2="429.56" y2="406.9"/>
<line x1="429.56" y1="2" x2="429.56" y2="7.4"/>
<line x1="445.54" y1="412.3" x2="445.54" y2="406.9"/>
<line x1="445.54" y1="2" x2="445.54" y2="7.4"/>
<line x1="461.52" y1="412.3" x2="461.52" y2="406.9"/>
<line x1="461.52" y1="2" x2="461.52" y2="7.4"/>
</g>
<g font-size="15.3" fill="#000" stroke="#000" stroke-width="0.25">
<text transform="translate(73.2,44.0) scale(1,1.1)" text-anchor="end">80.70</text>
<text transform="translate(73.2,116.0) scale(1,1.1)" text-anchor="end">80.60</text>
<text transform="translate(73.2,188.0) scale(1,1.1)" text-anchor="end">80.50</text>
<text transform="translate(73.2,260.0) scale(1,1.1)" text-anchor="end">80.40</text>
<text transform="translate(73.2,332.0) scale(1,1.1)" text-anchor="end">80.30</text>
<text transform="translate(73.2,404.0) scale(1,1.1)" text-anchor="end">80.20</text>
<text transform="translate(78.3,429.1) scale(1,1.09)" text-anchor="middle">160</text>
<text transform="translate(158.2,429.1) scale(1,1.09)" text-anchor="middle">165</text>
<text transform="translate(238.1,429.1) scale(1,1.09)" text-anchor="middle">170</text>
<text transform="translate(318.0,429.1) scale(1,1.09)" text-anchor="middle">175</text>
<text transform="translate(397.9,429.1) scale(1,1.09)" text-anchor="middle">180</text>
<text transform="translate(477.8,429.1) scale(1,1.09)" text-anchor="middle">185</text>
</g>
<g fill="#000" stroke="#000" stroke-width="0.3">
<text x="243.2" y="449" font-size="17.2">m</text>
<text x="257.6" y="456" font-size="12.8">t</text>
<text x="266.6" y="449" font-size="18.3">[GeV]</text>
<g transform="translate(15.2,230.2) rotate(-90)"><text x="0" y="0" font-size="18.5">M</text><text x="15.6" y="7.8" font-size="12.5">W</text><text x="32.3" y="0" font-size="18.5">[GeV]</text></g>
</g>
<text transform="translate(94.00,35.30) scale(1,1.07)" font-size="15.3" fill="#000" stroke="#000" stroke-width="0.22">experimental errors 68% CL:</text>
<text transform="translate(149.30,62.80) scale(1,1.07)" font-size="15.4" fill="#000" stroke="#000" stroke-width="0.22">LEP2/Tevatron (today)</text>
<text transform="translate(149.90,90.30) scale(1,1.07)" font-size="15.3" fill="#000" stroke="#000" stroke-width="0.22">Tevatron/LHC</text>
<text transform="translate(149.60,117.80) scale(1,1.07)" font-size="15.2" fill="#000" stroke="#000" stroke-width="0.22">ILC/GigaZ</text>
<line x1="94.1" y1="56.7" x2="137.8" y2="56.7" stroke="#0000ff" stroke-width="2.6"/>
<line x1="94.1" y1="84.1" x2="137.8" y2="84.1" stroke="#000" stroke-width="2.6"/>
<line x1="94.1" y1="111.5" x2="137.8" y2="111.5" stroke="#ff0000" stroke-width="2.6"/>
<text transform="translate(341.20,56.20) scale(1,1.07)" font-size="15.3" fill="#000" stroke="#000" stroke-width="0.22">m</text>
<text transform="translate(356.20,62.30) scale(1,1.07)" font-size="11.2" fill="#000" stroke="#000" stroke-width="0.12">t</text>
<path d="M355.3,52.4 q1,-1.3 2,-0.4 t2,-0.4" fill="none" stroke="#111" stroke-width="0.95"/>
<text transform="translate(360.00,67.10) scale(1,1.07)" font-size="7" fill="#000" stroke="#000" stroke-width="0.12">2</text>
<text transform="translate(364.00,62.30) scale(1,1.07)" font-size="11.2" fill="#000" stroke="#000" stroke-width="0.12">,</text>
<text transform="translate(366.60,62.30) scale(1,1.07)" font-size="11.2" fill="#000" stroke="#000" stroke-width="0.12">b</text>
<path d="M367.5,52.0 q1,-1.3 2,-0.4 t2,-0.4" fill="none" stroke="#111" stroke-width="0.95"/>
<text transform="translate(372.70,67.10) scale(1,1.07)" font-size="7" fill="#000" stroke="#000" stroke-width="0.12">2</text>
<text transform="translate(376.40,56.20) scale(1,1.07)" font-size="15.3" fill="#000" stroke="#000" stroke-width="0.22">/</text>
<text transform="translate(385.00,56.20) scale(1,1.07)" font-size="15.3" fill="#000" stroke="#000" stroke-width="0.22">m</text>
<text transform="translate(400.60,62.30) scale(1,1.07)" font-size="11.2" fill="#000" stroke="#000" stroke-width="0.12">t</text>
<path d="M399.7,52.4 q1,-1.3 2,-0.4 t2,-0.4" fill="none" stroke="#111" stroke-width="0.95"/>
<text transform="translate(404.00,67.10) scale(1,1.07)" font-size="7" fill="#000" stroke="#000" stroke-width="0.12">1</text>
<text transform="translate(407.60,62.30) scale(1,1.07)" font-size="11.2" fill="#000" stroke="#000" stroke-width="0.12">,</text>
<text transform="translate(410.20,62.30) scale(1,1.07)" font-size="11.2" fill="#000" stroke="#000" stroke-width="0.12">b</text>
<path d="M411.1,52.0 q1,-1.3 2,-0.4 t2,-0.4" fill="none" stroke="#111" stroke-width="0.95"/>
<text transform="translate(416.50,67.10) scale(1,1.07)" font-size="7" fill="#000" stroke="#000" stroke-width="0.12">1</text>
<text transform="translate(420.20,56.20) scale(1,1.07)" font-size="15.3" fill="#000" stroke="#000" stroke-width="0.22">&gt; 2.5</text>
<text transform="translate(392.50,171.40) scale(1,0.99)" font-size="18.2" fill="#008f00" stroke="#008f00" stroke-width="0.22">MSSM</text>
<text transform="translate(99.80,352.60) scale(1,1.07)" font-size="18" fill="#ff0000" stroke="#ff0000" stroke-width="0.22">SM</text>
<text transform="translate(389.00,121.70) rotate(-10.8) scale(1,1.07)" font-size="15.4" fill="#000" stroke="#000" stroke-width="0.2">light SUSY</text>
<text transform="translate(392.50,270.90) rotate(-14.3) scale(1,1.07)" font-size="15.2" fill="#000" stroke="#000" stroke-width="0.2">heavy SUSY</text>
<g transform="translate(101.5,320) rotate(-14.2)">
<text transform="translate(0.00,0.00) scale(1,1.07)" font-size="15.5" fill="#000" stroke="#000" stroke-width="0.15">M</text>
<text transform="translate(12.80,5.40) scale(1,1.07)" font-size="10.8" fill="#000" stroke="#000" stroke-width="0.1">H</text>
<text transform="translate(24.60,0.00) scale(1,1.07)" font-size="15.5" fill="#000" stroke="#000" stroke-width="0.15">= 114 GeV</text>
</g>
<g transform="translate(109.5,377.3) rotate(-14.2)">
<text transform="translate(0.00,0.00) scale(1,1.07)" font-size="15.5" fill="#000" stroke="#000" stroke-width="0.15">M</text>
<text transform="translate(12.80,5.40) scale(1,1.07)" font-size="10.8" fill="#000" stroke="#000" stroke-width="0.1">H</text>
<text transform="translate(24.60,0.00) scale(1,1.07)" font-size="15.5" fill="#000" stroke="#000" stroke-width="0.15">= 400 GeV</text>
</g>
<text transform="translate(418.30,330.30) scale(1,1.07)" font-size="15.3" fill="#ff0000" stroke="#ff0000" stroke-width="0.22" text-anchor="end">SM</text>
<text transform="translate(418.30,352.30) scale(1,1.07)" font-size="15.3" fill="#008f00" stroke="#008f00" stroke-width="0.22" text-anchor="end">MSSM</text>
<text transform="translate(418.30,374.00) scale(1,1.07)" font-size="15.3" fill="#0000ff" stroke="#0000ff" stroke-width="0.22" text-anchor="end">both models</text>
<rect x="422.6" y="319.5" width="43.7" height="10.9" fill="url(#dr7)" stroke="#ff0000" stroke-width="1.3"/>
<rect x="422.6" y="341.6" width="43.7" height="10.8" fill="url(#dg7)" stroke="#00e800" stroke-width="1.3"/>
<rect x="422.6" y="363.1" width="43.7" height="11.2" fill="url(#db7)" stroke="#0000ff" stroke-width="1.3"/>
<text transform="translate(341.80,387.20) scale(1,1.05)" font-size="9.2" fill="#000" stroke="#000" stroke-width="0.12">Heinemeyer, Hollik, Stöckinger,</text>
<text transform="translate(341.80,397.20) scale(1,1.05)" font-size="9.2" fill="#000" stroke="#000" stroke-width="0.12">Weber, Weiglein '06</text>
</svg></body></html>
